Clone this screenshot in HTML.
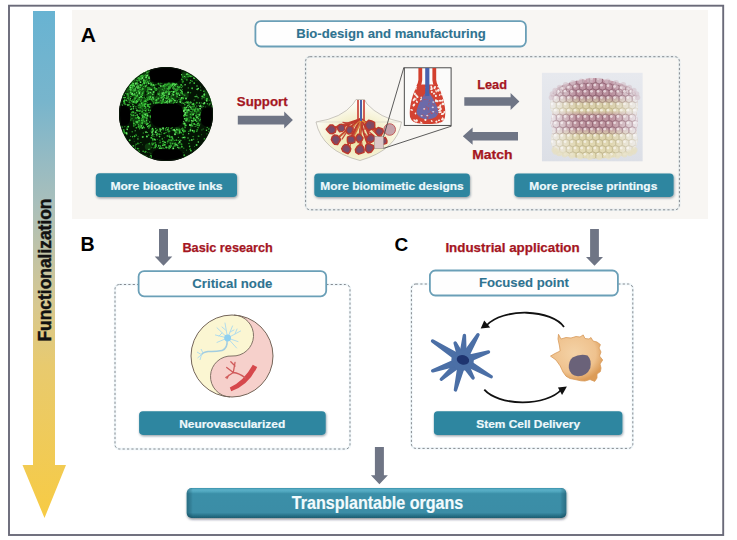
<!DOCTYPE html>
<html><head><meta charset="utf-8"><title>Bio-design diagram</title>
<style>html,body{margin:0;padding:0;background:#fff;width:737px;height:540px;overflow:hidden}svg{display:block}svg text{font-family:"Liberation Sans",sans-serif}</style>
</head><body><svg width="737" height="540" viewBox="0 0 737 540">
<defs>
 <linearGradient id="lg" x1="0" y1="11" x2="0" y2="518" gradientUnits="userSpaceOnUse">
  <stop offset="0" stop-color="#68b3d2"/>
  <stop offset="0.18" stop-color="#78b5cc"/>
  <stop offset="0.28" stop-color="#92bac4"/>
  <stop offset="0.38" stop-color="#a9bfbb"/>
  <stop offset="0.48" stop-color="#c1c3a5"/>
  <stop offset="0.58" stop-color="#d7c890"/>
  <stop offset="0.70" stop-color="#e8ca6e"/>
  <stop offset="1" stop-color="#f7cb44"/>
 </linearGradient>
 <filter id="sh" x="-10%" y="-30%" width="120%" height="170%">
  <feDropShadow dx="0.6" dy="1.2" stdDeviation="1.1" flood-color="#1a2a40" flood-opacity="0.45"/>
 </filter>
 <filter id="sh2" x="-10%" y="-30%" width="120%" height="170%">
  <feDropShadow dx="0.5" dy="1.5" stdDeviation="1.0" flood-color="#102030" flood-opacity="0.5"/>
 </filter>
 <filter id="bl1"><feGaussianBlur stdDeviation="1.2"/></filter>
 <filter id="bl05"><feGaussianBlur stdDeviation="0.5"/></filter>
 <clipPath id="gc"><circle cx="166" cy="114" r="47"/></clipPath>
 <clipPath id="bd"><rect x="541.8" y="72.6" width="101" height="89"/></clipPath>
 <clipPath id="sac"><path d="M418,84 Q410,92 409.5,106 Q409,120 420,123 Q428,125 436,123 Q446,120 445,106 Q444,92 437,84 Z"/></clipPath>
 <linearGradient id="tb" x1="0" y1="488" x2="0" y2="518" gradientUnits="userSpaceOnUse">
  <stop offset="0" stop-color="#3a92ab"/>
  <stop offset="0.06" stop-color="#5cb0c8"/>
  <stop offset="0.13" stop-color="#4ea4bc"/>
  <stop offset="0.19" stop-color="#3a8fa8"/>
  <stop offset="0.82" stop-color="#3a8da6"/>
  <stop offset="0.9" stop-color="#2b778e"/>
  <stop offset="1" stop-color="#1d5d71"/>
 </linearGradient>
 <linearGradient id="tbx" x1="186.7" y1="0" x2="566.3" y2="0" gradientUnits="userSpaceOnUse">
  <stop offset="0" stop-color="#0a3040" stop-opacity="0.35"/>
  <stop offset="0.012" stop-color="#0a3040" stop-opacity="0.12"/>
  <stop offset="0.016" stop-color="#0a3040" stop-opacity="0"/>
  <stop offset="0.984" stop-color="#0a3040" stop-opacity="0"/>
  <stop offset="0.988" stop-color="#0a3040" stop-opacity="0.12"/>
  <stop offset="1" stop-color="#0a3040" stop-opacity="0.35"/>
 </linearGradient>
 <radialGradient id="oc" cx="0.45" cy="0.4" r="0.6">
  <stop offset="0" stop-color="#f4d2a6"/>
  <stop offset="0.7" stop-color="#efc28e"/>
  <stop offset="1" stop-color="#dc9c58"/>
 </radialGradient>
 <linearGradient id="bbg" x1="0" y1="0" x2="0" y2="1">
  <stop offset="0" stop-color="#e7e9ee"/><stop offset="1" stop-color="#dcdfe6"/>
 </linearGradient>
 <linearGradient id="bband" x1="0" y1="78" x2="0" y2="159" gradientUnits="userSpaceOnUse">
  <stop offset="0" stop-color="#c49aaa"/>
  <stop offset="0.22" stop-color="#b48896"/>
  <stop offset="0.31" stop-color="#d6cba8"/>
  <stop offset="0.40" stop-color="#ddd3a8"/>
  <stop offset="0.47" stop-color="#bb8e9a"/>
  <stop offset="0.62" stop-color="#bc929c"/>
  <stop offset="0.70" stop-color="#dcd2aa"/>
  <stop offset="1" stop-color="#e4dcb4"/>
 </linearGradient>
 <linearGradient id="bside" x1="550" y1="0" x2="638" y2="0" gradientUnits="userSpaceOnUse">
  <stop offset="0" stop-color="#eeedf0" stop-opacity="0.95"/>
  <stop offset="0.14" stop-color="#f0eef0" stop-opacity="0.55"/>
  <stop offset="0.3" stop-color="#f0eef0" stop-opacity="0.05"/>
  <stop offset="0.7" stop-color="#f0eef0" stop-opacity="0.05"/>
  <stop offset="0.86" stop-color="#f0eef0" stop-opacity="0.55"/>
  <stop offset="1" stop-color="#eeedf0" stop-opacity="0.95"/>
 </linearGradient>
 <radialGradient id="fan" cx="0.5" cy="0.62" r="0.55">
  <stop offset="0" stop-color="#e8e09a"/>
  <stop offset="0.5" stop-color="#f2eec8"/>
  <stop offset="1" stop-color="#fdfcf6"/>
 </radialGradient>
</defs>
<rect x="72" y="10" width="636" height="209" fill="#f8f6f3"/><rect x="9" y="5.7" width="714.2" height="529.3" fill="none" stroke="#6a6a79" stroke-width="1.9"/><polygon points="33,11 55,11 55,465 66,465 44.5,518 22.5,465 33,465" fill="url(#lg)"/><text transform="translate(51.4,341.5) rotate(-90)"  font-weight="bold" font-size="18.6" textLength="143" lengthAdjust="spacingAndGlyphs" fill="#111" stroke="#111" stroke-width="0.45">Functionalization</text><text x="80.8" y="41.7"  font-weight="bold" font-size="21" fill="#000">A</text><text x="80.6" y="250.7"  font-weight="bold" font-size="19.6" fill="#000">B</text><text x="394.6" y="251.4"  font-weight="bold" font-size="19" fill="#000">C</text><rect x="305.6" y="56.7" width="373.79999999999995" height="153.10000000000002" rx="4.5" fill="none" stroke="#9fcde2" stroke-opacity="0.16" stroke-width="2.4"/><rect x="305.6" y="56.7" width="373.79999999999995" height="153.10000000000002" rx="4.5" fill="none" stroke="#858a90" stroke-width="1" stroke-dasharray="2.2 2.2"/><rect x="255.4" y="21.099999999999998" width="270.49999999999994" height="25.4" rx="5.5" fill="#fefefe" stroke="#6a9fb7" stroke-width="1.8"/><text x="296.2" y="37.8"  font-weight="bold" font-size="12.2" textLength="189.6" lengthAdjust="spacingAndGlyphs" fill="#2f7390" stroke="#2f7390" stroke-width="0.1">Bio-design and manufacturing</text><text x="236.8" y="106.2"  font-weight="bold" font-size="12.2" textLength="50.8" lengthAdjust="spacingAndGlyphs" fill="#a5161f" stroke="#a5161f" stroke-width="0.25">Support</text><polygon points="237.8,115.7 284.2,115.7 284.2,111.6 292.9,120.1 284.2,128.6 284.2,124.5 237.8,124.5" fill="#6f7585"/><text x="477.2" y="89.1"  font-weight="bold" font-size="12.2" textLength="29.8" lengthAdjust="spacingAndGlyphs" fill="#a5161f" stroke="#a5161f" stroke-width="0.25">Lead</text><polygon points="464.3,97.3 510.6,97.3 510.6,93.1 519.4,101.5 510.6,109.9 510.6,105.7 464.3,105.7" fill="#6f7585"/><polygon points="518.0,132.0 472.6,132.0 472.6,127.6 462.8,136.2 472.6,144.8 472.6,140.4 518.0,140.4" fill="#6f7585"/><text x="472.2" y="158.5"  font-weight="bold" font-size="12.2" textLength="40.3" lengthAdjust="spacingAndGlyphs" fill="#a5161f" stroke="#a5161f" stroke-width="0.25">Match</text><rect x="95.8" y="173.2" width="141.2" height="23.900000000000006" rx="3.8" fill="#2f86a0" filter="url(#sh)"/><text x="110.4" y="189.7"  font-weight="bold" font-size="11.6" textLength="112.2" lengthAdjust="spacingAndGlyphs" fill="#eef9fc" stroke="#eef9fc" stroke-width="0.2">More bioactive inks</text><rect x="314.3" y="173.4" width="155.59999999999997" height="23.5" rx="3.8" fill="#2f86a0" filter="url(#sh)"/><text x="320.3" y="189.6"  font-weight="bold" font-size="11.6" textLength="143.4" lengthAdjust="spacingAndGlyphs" fill="#eef9fc" stroke="#eef9fc" stroke-width="0.2">More biomimetic designs</text><rect x="514.3" y="173.4" width="159.30000000000007" height="23.5" rx="3.8" fill="#2f86a0" filter="url(#sh)"/><text x="529.3" y="189.6"  font-weight="bold" font-size="11.6" textLength="128.0" lengthAdjust="spacingAndGlyphs" fill="#eef9fc" stroke="#eef9fc" stroke-width="0.2">More precise printings</text><g clip-path="url(#gc)"><rect x="115" y="63" width="102" height="102" fill="#041404"/><circle cx="169.4" cy="101.1" r="3.0" fill="#166016" opacity="0.5"/><circle cx="197.4" cy="77.9" r="3.3" fill="#166016" opacity="0.5"/><circle cx="131.8" cy="77.3" r="3.6" fill="#166016" opacity="0.5"/><circle cx="135.3" cy="121.8" r="2.7" fill="#166016" opacity="0.5"/><circle cx="159.0" cy="96.2" r="2.9" fill="#166016" opacity="0.5"/><circle cx="141.4" cy="121.1" r="3.8" fill="#166016" opacity="0.5"/><circle cx="130.4" cy="89.8" r="3.7" fill="#166016" opacity="0.5"/><circle cx="157.9" cy="100.4" r="3.9" fill="#166016" opacity="0.5"/><circle cx="132.5" cy="82.9" r="2.5" fill="#166016" opacity="0.5"/><circle cx="143.2" cy="66.4" r="2.7" fill="#166016" opacity="0.5"/><circle cx="177.3" cy="130.9" r="3.8" fill="#166016" opacity="0.5"/><circle cx="124.0" cy="72.5" r="2.3" fill="#166016" opacity="0.5"/><circle cx="118.0" cy="80.5" r="2.7" fill="#166016" opacity="0.5"/><circle cx="132.3" cy="90.2" r="2.7" fill="#166016" opacity="0.5"/><circle cx="126.2" cy="75.8" r="2.5" fill="#166016" opacity="0.5"/><circle cx="132.1" cy="118.1" r="3.1" fill="#166016" opacity="0.5"/><circle cx="143.1" cy="101.2" r="3.5" fill="#166016" opacity="0.5"/><circle cx="120.7" cy="92.8" r="3.4" fill="#166016" opacity="0.5"/><circle cx="153.0" cy="87.2" r="2.4" fill="#166016" opacity="0.5"/><circle cx="198.7" cy="112.0" r="3.6" fill="#166016" opacity="0.5"/><circle cx="181.1" cy="99.6" r="2.3" fill="#166016" opacity="0.5"/><circle cx="146.1" cy="89.1" r="2.5" fill="#166016" opacity="0.5"/><circle cx="118.4" cy="142.7" r="2.9" fill="#166016" opacity="0.5"/><circle cx="187.6" cy="119.4" r="3.0" fill="#166016" opacity="0.5"/><circle cx="171.3" cy="141.3" r="3.1" fill="#166016" opacity="0.5"/><circle cx="141.9" cy="92.6" r="3.0" fill="#166016" opacity="0.5"/><circle cx="184.5" cy="109.4" r="3.0" fill="#166016" opacity="0.5"/><circle cx="208.6" cy="146.6" r="2.2" fill="#166016" opacity="0.5"/><circle cx="141.1" cy="73.0" r="3.6" fill="#166016" opacity="0.5"/><circle cx="213.0" cy="145.9" r="2.9" fill="#166016" opacity="0.5"/><circle cx="167.5" cy="98.6" r="2.6" fill="#166016" opacity="0.5"/><circle cx="128.1" cy="91.5" r="3.6" fill="#166016" opacity="0.5"/><circle cx="144.0" cy="78.4" r="3.8" fill="#166016" opacity="0.5"/><circle cx="185.2" cy="74.6" r="3.4" fill="#166016" opacity="0.5"/><circle cx="207.0" cy="91.7" r="3.1" fill="#166016" opacity="0.5"/><circle cx="140.9" cy="76.5" r="2.1" fill="#166016" opacity="0.5"/><circle cx="137.4" cy="96.0" r="3.5" fill="#166016" opacity="0.5"/><circle cx="145.8" cy="114.0" r="2.7" fill="#166016" opacity="0.5"/><circle cx="119.7" cy="90.0" r="3.5" fill="#166016" opacity="0.5"/><circle cx="170.9" cy="84.2" r="3.9" fill="#166016" opacity="0.5"/><circle cx="130.5" cy="72.8" r="2.5" fill="#166016" opacity="0.5"/><circle cx="141.3" cy="94.1" r="2.3" fill="#166016" opacity="0.5"/><circle cx="166.3" cy="85.3" r="2.0" fill="#166016" opacity="0.5"/><circle cx="143.4" cy="74.6" r="2.1" fill="#166016" opacity="0.5"/><circle cx="120.2" cy="95.2" r="3.2" fill="#166016" opacity="0.5"/><circle cx="149.3" cy="160.5" r="3.4" fill="#166016" opacity="0.5"/><circle cx="121.0" cy="78.8" r="2.2" fill="#166016" opacity="0.5"/><circle cx="198.2" cy="119.6" r="3.3" fill="#166016" opacity="0.5"/><circle cx="132.2" cy="90.4" r="2.6" fill="#166016" opacity="0.5"/><circle cx="138.2" cy="121.8" r="3.0" fill="#166016" opacity="0.5"/><circle cx="161.3" cy="95.0" r="2.7" fill="#166016" opacity="0.5"/><circle cx="148.3" cy="146.7" r="3.5" fill="#166016" opacity="0.5"/><circle cx="144.4" cy="70.6" r="3.7" fill="#166016" opacity="0.5"/><circle cx="143.5" cy="115.1" r="2.7" fill="#166016" opacity="0.5"/><circle cx="151.0" cy="94.6" r="4.0" fill="#166016" opacity="0.5"/><circle cx="134.1" cy="81.5" r="3.8" fill="#166016" opacity="0.5"/><circle cx="131.4" cy="84.5" r="2.7" fill="#166016" opacity="0.5"/><circle cx="126.7" cy="89.0" r="3.1" fill="#166016" opacity="0.5"/><circle cx="154.2" cy="98.5" r="2.6" fill="#166016" opacity="0.5"/><circle cx="138.7" cy="92.0" r="2.8" fill="#166016" opacity="0.5"/><circle cx="199.5" cy="149.8" r="2.1" fill="#166016" opacity="0.5"/><circle cx="141.9" cy="76.5" r="3.0" fill="#166016" opacity="0.5"/><circle cx="147.2" cy="78.3" r="3.3" fill="#166016" opacity="0.5"/><circle cx="185.1" cy="76.8" r="3.0" fill="#166016" opacity="0.5"/><circle cx="139.5" cy="123.7" r="2.6" fill="#166016" opacity="0.5"/><circle cx="163.6" cy="88.5" r="3.9" fill="#166016" opacity="0.5"/><circle cx="185.6" cy="95.5" r="3.0" fill="#166016" opacity="0.5"/><circle cx="139.8" cy="69.3" r="2.8" fill="#166016" opacity="0.5"/><circle cx="189.0" cy="114.5" r="3.9" fill="#166016" opacity="0.5"/><circle cx="136.0" cy="87.4" r="3.3" fill="#166016" opacity="0.5"/><circle cx="209.1" cy="80.1" r="2.4" fill="#166016" opacity="0.5"/><circle cx="211.5" cy="79.6" r="2.1" fill="#166016" opacity="0.5"/><circle cx="207.4" cy="97.6" r="3.9" fill="#166016" opacity="0.5"/><circle cx="154.3" cy="101.9" r="2.3" fill="#166016" opacity="0.5"/><circle cx="118.3" cy="92.9" r="3.9" fill="#166016" opacity="0.5"/><circle cx="163.5" cy="101.8" r="2.4" fill="#166016" opacity="0.5"/><circle cx="177.2" cy="91.2" r="2.6" fill="#166016" opacity="0.5"/><circle cx="208.6" cy="68.3" r="3.0" fill="#166016" opacity="0.5"/><circle cx="142.1" cy="107.3" r="3.9" fill="#166016" opacity="0.5"/><circle cx="149.5" cy="96.7" r="3.6" fill="#166016" opacity="0.5"/><circle cx="141.7" cy="72.2" r="3.1" fill="#166016" opacity="0.5"/><circle cx="212.8" cy="91.4" r="2.2" fill="#166016" opacity="0.5"/><circle cx="140.5" cy="106.0" r="3.3" fill="#166016" opacity="0.5"/><circle cx="172.4" cy="101.8" r="2.4" fill="#166016" opacity="0.5"/><circle cx="141.8" cy="89.6" r="3.8" fill="#166016" opacity="0.5"/><circle cx="173.5" cy="97.3" r="4.0" fill="#166016" opacity="0.5"/><circle cx="166.7" cy="88.2" r="3.3" fill="#166016" opacity="0.5"/><circle cx="121.9" cy="94.2" r="2.4" fill="#166016" opacity="0.5"/><circle cx="161.1" cy="91.0" r="3.9" fill="#166016" opacity="0.5"/><circle cx="177.5" cy="86.9" r="2.3" fill="#166016" opacity="0.5"/><circle cx="137.6" cy="90.5" r="3.3" fill="#166016" opacity="0.5"/><circle cx="137.5" cy="67.1" r="3.4" fill="#166016" opacity="0.5"/><circle cx="135.8" cy="96.0" r="3.6" fill="#166016" opacity="0.5"/><circle cx="148.0" cy="120.4" r="0.41" fill="#36b836"/><circle cx="153.0" cy="140.2" r="0.73" fill="#1f8a1f"/><circle cx="132.0" cy="93.2" r="0.47" fill="#2fae2f"/><circle cx="177.6" cy="145.2" r="0.77" fill="#5ae05a"/><circle cx="177.0" cy="84.8" r="0.43" fill="#5ae05a"/><circle cx="182.5" cy="130.1" r="0.76" fill="#36b836"/><circle cx="147.4" cy="106.3" r="0.63" fill="#36b836"/><circle cx="152.4" cy="101.1" r="0.71" fill="#2a9a2a"/><circle cx="121.9" cy="127.1" r="0.87" fill="#46d046"/><circle cx="166.4" cy="102.3" r="0.42" fill="#3cc83c"/><circle cx="184.5" cy="76.5" r="0.57" fill="#6ef06e"/><circle cx="176.6" cy="90.2" r="0.94" fill="#27a027"/><circle cx="177.1" cy="88.8" r="0.51" fill="#5ae05a"/><circle cx="134.2" cy="141.3" r="0.43" fill="#2a9a2a"/><circle cx="153.7" cy="102.1" r="0.62" fill="#3cc83c"/><circle cx="191.4" cy="108.5" r="0.58" fill="#1f8a1f"/><circle cx="139.3" cy="93.9" r="0.71" fill="#36b836"/><circle cx="139.8" cy="128.7" r="0.74" fill="#1f8a1f"/><circle cx="147.2" cy="116.2" r="0.75" fill="#36b836"/><circle cx="174.6" cy="85.6" r="0.50" fill="#6ef06e"/><circle cx="185.9" cy="109.3" r="0.92" fill="#3cc83c"/><circle cx="193.1" cy="104.6" r="0.43" fill="#1f8a1f"/><circle cx="181.1" cy="84.9" r="0.76" fill="#2a9a2a"/><circle cx="166.7" cy="127.6" r="0.71" fill="#3cc83c"/><circle cx="187.5" cy="111.9" r="0.91" fill="#36b836"/><circle cx="189.5" cy="110.7" r="0.51" fill="#6ef06e"/><circle cx="141.7" cy="85.5" r="0.90" fill="#2fae2f"/><circle cx="178.6" cy="93.6" r="0.88" fill="#2fae2f"/><circle cx="180.0" cy="94.3" r="0.41" fill="#27a027"/><circle cx="142.6" cy="93.1" r="0.95" fill="#46d046"/><circle cx="191.8" cy="123.8" r="0.77" fill="#27a027"/><circle cx="159.9" cy="140.2" r="0.72" fill="#1f8a1f"/><circle cx="138.8" cy="148.8" r="0.50" fill="#27a027"/><circle cx="165.2" cy="142.5" r="0.76" fill="#6ef06e"/><circle cx="180.0" cy="101.7" r="0.94" fill="#36b836"/><circle cx="166.1" cy="102.4" r="0.97" fill="#5ae05a"/><circle cx="184.2" cy="124.1" r="0.71" fill="#46d046"/><circle cx="171.2" cy="97.0" r="0.75" fill="#27a027"/><circle cx="132.8" cy="81.0" r="0.76" fill="#46d046"/><circle cx="181.2" cy="84.8" r="0.88" fill="#3cc83c"/><circle cx="188.4" cy="107.8" r="0.57" fill="#2fae2f"/><circle cx="142.7" cy="136.9" r="0.94" fill="#5ae05a"/><circle cx="189.9" cy="106.4" r="0.81" fill="#5ae05a"/><circle cx="148.0" cy="126.3" r="0.55" fill="#36b836"/><circle cx="156.4" cy="134.4" r="0.69" fill="#36b836"/><circle cx="167.8" cy="129.5" r="0.87" fill="#46d046"/><circle cx="186.9" cy="115.2" r="0.71" fill="#46d046"/><circle cx="144.3" cy="104.4" r="0.95" fill="#36b836"/><circle cx="178.3" cy="130.8" r="0.53" fill="#2fae2f"/><circle cx="168.6" cy="87.0" r="0.68" fill="#36b836"/><circle cx="136.5" cy="127.7" r="0.61" fill="#3cc83c"/><circle cx="162.9" cy="94.3" r="0.87" fill="#3cc83c"/><circle cx="163.1" cy="141.2" r="0.81" fill="#36b836"/><circle cx="152.4" cy="128.8" r="0.66" fill="#6ef06e"/><circle cx="179.2" cy="129.3" r="0.91" fill="#27a027"/><circle cx="205.0" cy="141.3" r="0.78" fill="#46d046"/><circle cx="209.4" cy="129.0" r="0.75" fill="#2fae2f"/><circle cx="146.5" cy="113.5" r="0.85" fill="#2fae2f"/><circle cx="171.3" cy="91.4" r="0.68" fill="#3cc83c"/><circle cx="133.8" cy="123.6" r="0.90" fill="#3cc83c"/><circle cx="181.9" cy="146.7" r="1.00" fill="#36b836"/><circle cx="182.9" cy="83.3" r="0.41" fill="#1f8a1f"/><circle cx="145.3" cy="98.8" r="0.90" fill="#1f8a1f"/><circle cx="166.4" cy="92.1" r="0.79" fill="#5ae05a"/><circle cx="146.7" cy="122.3" r="0.64" fill="#1f8a1f"/><circle cx="196.9" cy="111.6" r="0.87" fill="#1f8a1f"/><circle cx="184.9" cy="123.2" r="0.42" fill="#5ae05a"/><circle cx="184.8" cy="104.8" r="0.76" fill="#36b836"/><circle cx="200.4" cy="87.0" r="0.41" fill="#6ef06e"/><circle cx="188.1" cy="74.1" r="0.68" fill="#6ef06e"/><circle cx="123.7" cy="101.3" r="0.68" fill="#6ef06e"/><circle cx="192.7" cy="109.5" r="0.58" fill="#46d046"/><circle cx="197.8" cy="123.7" r="0.99" fill="#36b836"/><circle cx="141.6" cy="103.2" r="0.88" fill="#5ae05a"/><circle cx="143.3" cy="106.6" r="0.57" fill="#1f8a1f"/><circle cx="164.5" cy="102.6" r="0.59" fill="#5ae05a"/><circle cx="166.6" cy="85.4" r="0.51" fill="#2fae2f"/><circle cx="128.2" cy="126.7" r="0.59" fill="#3cc83c"/><circle cx="144.9" cy="75.3" r="0.55" fill="#3cc83c"/><circle cx="172.2" cy="127.5" r="0.64" fill="#2a9a2a"/><circle cx="183.0" cy="94.7" r="0.68" fill="#2fae2f"/><circle cx="153.7" cy="103.4" r="0.50" fill="#36b836"/><circle cx="140.9" cy="79.7" r="0.68" fill="#1f8a1f"/><circle cx="133.1" cy="146.0" r="0.93" fill="#46d046"/><circle cx="131.4" cy="108.9" r="0.91" fill="#36b836"/><circle cx="186.5" cy="119.1" r="0.56" fill="#3cc83c"/><circle cx="134.1" cy="113.1" r="0.47" fill="#6ef06e"/><circle cx="163.8" cy="93.5" r="0.98" fill="#5ae05a"/><circle cx="159.5" cy="91.1" r="0.46" fill="#5ae05a"/><circle cx="145.8" cy="152.0" r="0.49" fill="#27a027"/><circle cx="145.5" cy="100.6" r="0.53" fill="#36b836"/><circle cx="165.6" cy="92.3" r="0.75" fill="#5ae05a"/><circle cx="188.3" cy="105.2" r="0.71" fill="#1f8a1f"/><circle cx="151.4" cy="93.0" r="0.45" fill="#6ef06e"/><circle cx="157.3" cy="139.2" r="0.55" fill="#27a027"/><circle cx="173.2" cy="148.4" r="0.98" fill="#6ef06e"/><circle cx="124.8" cy="100.2" r="0.87" fill="#46d046"/><circle cx="204.2" cy="94.0" r="0.67" fill="#6ef06e"/><circle cx="130.9" cy="89.4" r="0.50" fill="#3cc83c"/><circle cx="147.9" cy="119.3" r="0.46" fill="#1f8a1f"/><circle cx="185.1" cy="84.7" r="0.71" fill="#6ef06e"/><circle cx="166.1" cy="92.8" r="0.93" fill="#36b836"/><circle cx="170.0" cy="87.8" r="0.85" fill="#6ef06e"/><circle cx="198.6" cy="116.5" r="0.87" fill="#1f8a1f"/><circle cx="150.5" cy="89.1" r="0.91" fill="#36b836"/><circle cx="148.8" cy="104.5" r="0.71" fill="#46d046"/><circle cx="141.9" cy="106.5" r="0.47" fill="#46d046"/><circle cx="136.0" cy="97.1" r="0.54" fill="#1f8a1f"/><circle cx="178.3" cy="143.4" r="0.55" fill="#2fae2f"/><circle cx="209.3" cy="93.6" r="0.47" fill="#3cc83c"/><circle cx="167.3" cy="91.8" r="0.96" fill="#2a9a2a"/><circle cx="173.4" cy="92.3" r="0.57" fill="#2a9a2a"/><circle cx="161.6" cy="132.7" r="0.52" fill="#36b836"/><circle cx="186.2" cy="110.2" r="0.68" fill="#6ef06e"/><circle cx="147.8" cy="89.3" r="0.73" fill="#2a9a2a"/><circle cx="149.1" cy="97.2" r="0.58" fill="#5ae05a"/><circle cx="192.1" cy="81.2" r="0.66" fill="#46d046"/><circle cx="124.0" cy="103.2" r="0.71" fill="#2fae2f"/><circle cx="131.5" cy="85.4" r="0.89" fill="#27a027"/><circle cx="190.9" cy="111.6" r="0.65" fill="#3cc83c"/><circle cx="127.9" cy="105.4" r="0.70" fill="#2fae2f"/><circle cx="176.3" cy="102.4" r="0.57" fill="#6ef06e"/><circle cx="151.9" cy="99.9" r="0.79" fill="#36b836"/><circle cx="146.8" cy="117.5" r="0.75" fill="#36b836"/><circle cx="183.8" cy="103.4" r="0.67" fill="#46d046"/><circle cx="140.0" cy="105.3" r="0.96" fill="#2a9a2a"/><circle cx="132.8" cy="84.1" r="0.66" fill="#36b836"/><circle cx="145.8" cy="115.1" r="0.65" fill="#5ae05a"/><circle cx="186.2" cy="119.1" r="0.91" fill="#36b836"/><circle cx="174.3" cy="130.1" r="0.86" fill="#6ef06e"/><circle cx="131.8" cy="85.1" r="0.49" fill="#3cc83c"/><circle cx="190.9" cy="76.2" r="0.97" fill="#3cc83c"/><circle cx="183.7" cy="121.6" r="0.61" fill="#5ae05a"/><circle cx="134.3" cy="91.6" r="0.61" fill="#2fae2f"/><circle cx="161.2" cy="103.0" r="0.75" fill="#36b836"/><circle cx="177.5" cy="89.9" r="0.59" fill="#3cc83c"/><circle cx="147.2" cy="123.8" r="0.99" fill="#6ef06e"/><circle cx="156.3" cy="134.3" r="0.45" fill="#5ae05a"/><circle cx="134.3" cy="102.4" r="0.64" fill="#27a027"/><circle cx="152.8" cy="98.2" r="0.64" fill="#46d046"/><circle cx="136.4" cy="93.2" r="0.57" fill="#1f8a1f"/><circle cx="141.2" cy="78.5" r="0.90" fill="#2a9a2a"/><circle cx="151.9" cy="135.4" r="0.58" fill="#5ae05a"/><circle cx="163.7" cy="85.6" r="0.97" fill="#3cc83c"/><circle cx="190.1" cy="131.1" r="0.84" fill="#27a027"/><circle cx="186.9" cy="79.9" r="0.82" fill="#2fae2f"/><circle cx="156.3" cy="100.2" r="0.86" fill="#6ef06e"/><circle cx="130.7" cy="92.5" r="0.94" fill="#46d046"/><circle cx="127.4" cy="94.0" r="0.83" fill="#5ae05a"/><circle cx="133.6" cy="85.0" r="0.84" fill="#36b836"/><circle cx="139.9" cy="113.8" r="0.80" fill="#36b836"/><circle cx="183.4" cy="69.6" r="0.85" fill="#46d046"/><circle cx="123.2" cy="133.0" r="0.91" fill="#2a9a2a"/><circle cx="192.7" cy="113.0" r="0.56" fill="#2a9a2a"/><circle cx="137.3" cy="95.8" r="0.80" fill="#6ef06e"/><circle cx="140.8" cy="89.2" r="0.48" fill="#6ef06e"/><circle cx="179.5" cy="133.0" r="0.75" fill="#3cc83c"/><circle cx="141.1" cy="126.4" r="0.86" fill="#36b836"/><circle cx="129.0" cy="93.8" r="0.43" fill="#5ae05a"/><circle cx="204.0" cy="95.2" r="0.67" fill="#27a027"/><circle cx="128.8" cy="97.1" r="0.57" fill="#46d046"/><circle cx="164.6" cy="137.7" r="0.47" fill="#27a027"/><circle cx="136.2" cy="118.1" r="0.79" fill="#2fae2f"/><circle cx="180.6" cy="90.1" r="0.85" fill="#3cc83c"/><circle cx="120.4" cy="103.9" r="0.51" fill="#46d046"/><circle cx="170.9" cy="101.5" r="0.43" fill="#5ae05a"/><circle cx="131.6" cy="87.8" r="0.45" fill="#36b836"/><circle cx="136.3" cy="135.4" r="0.66" fill="#2a9a2a"/><circle cx="158.4" cy="98.5" r="0.94" fill="#3cc83c"/><circle cx="133.8" cy="94.4" r="0.74" fill="#46d046"/><circle cx="132.8" cy="104.5" r="0.89" fill="#2fae2f"/><circle cx="146.5" cy="120.8" r="0.79" fill="#6ef06e"/><circle cx="152.6" cy="89.1" r="0.47" fill="#27a027"/><circle cx="200.8" cy="90.3" r="0.80" fill="#2a9a2a"/><circle cx="130.9" cy="114.3" r="0.78" fill="#2fae2f"/><circle cx="142.5" cy="89.0" r="0.97" fill="#2a9a2a"/><circle cx="170.7" cy="143.1" r="0.55" fill="#5ae05a"/><circle cx="136.5" cy="108.9" r="0.47" fill="#6ef06e"/><circle cx="125.3" cy="97.6" r="0.75" fill="#3cc83c"/><circle cx="173.4" cy="103.2" r="0.60" fill="#1f8a1f"/><circle cx="164.4" cy="87.8" r="0.78" fill="#1f8a1f"/><circle cx="140.9" cy="142.5" r="0.58" fill="#2fae2f"/><circle cx="179.0" cy="99.6" r="0.60" fill="#36b836"/><circle cx="193.1" cy="114.4" r="1.00" fill="#5ae05a"/><circle cx="132.5" cy="85.7" r="0.64" fill="#6ef06e"/><circle cx="147.2" cy="99.9" r="0.83" fill="#36b836"/><circle cx="148.6" cy="82.8" r="0.41" fill="#2a9a2a"/><circle cx="133.8" cy="91.7" r="0.43" fill="#5ae05a"/><circle cx="145.1" cy="114.2" r="0.84" fill="#5ae05a"/><circle cx="202.0" cy="98.8" r="0.56" fill="#5ae05a"/><circle cx="148.9" cy="149.3" r="0.64" fill="#6ef06e"/><circle cx="183.2" cy="98.4" r="0.88" fill="#36b836"/><circle cx="138.2" cy="116.8" r="0.89" fill="#46d046"/><circle cx="161.5" cy="92.7" r="0.48" fill="#27a027"/><circle cx="180.9" cy="140.3" r="0.64" fill="#5ae05a"/><circle cx="170.2" cy="85.7" r="0.96" fill="#27a027"/><circle cx="149.1" cy="152.7" r="0.44" fill="#1f8a1f"/><circle cx="178.2" cy="87.5" r="0.83" fill="#27a027"/><circle cx="141.2" cy="100.0" r="0.79" fill="#36b836"/><circle cx="138.8" cy="120.7" r="0.97" fill="#27a027"/><circle cx="131.1" cy="94.8" r="0.69" fill="#1f8a1f"/><circle cx="183.5" cy="123.4" r="0.93" fill="#1f8a1f"/><circle cx="132.5" cy="136.7" r="0.68" fill="#3cc83c"/><circle cx="179.6" cy="129.9" r="0.99" fill="#46d046"/><circle cx="194.0" cy="132.2" r="0.76" fill="#2a9a2a"/><circle cx="139.5" cy="117.9" r="0.70" fill="#2a9a2a"/><circle cx="128.8" cy="99.9" r="0.61" fill="#2fae2f"/><circle cx="135.0" cy="91.4" r="0.52" fill="#1f8a1f"/><circle cx="149.3" cy="70.0" r="0.73" fill="#27a027"/><circle cx="148.6" cy="106.2" r="0.86" fill="#36b836"/><circle cx="179.0" cy="89.0" r="0.82" fill="#27a027"/><circle cx="197.3" cy="129.7" r="0.95" fill="#1f8a1f"/><circle cx="122.8" cy="132.6" r="0.73" fill="#6ef06e"/><circle cx="199.9" cy="115.0" r="0.54" fill="#36b836"/><circle cx="178.4" cy="137.4" r="0.64" fill="#2fae2f"/><circle cx="170.1" cy="87.4" r="0.56" fill="#27a027"/><circle cx="134.2" cy="101.1" r="0.89" fill="#3cc83c"/><circle cx="142.1" cy="75.9" r="0.71" fill="#2a9a2a"/><circle cx="184.7" cy="109.1" r="0.86" fill="#3cc83c"/><circle cx="168.0" cy="88.8" r="0.88" fill="#46d046"/><circle cx="142.3" cy="119.4" r="0.43" fill="#27a027"/><circle cx="149.1" cy="89.2" r="0.72" fill="#2fae2f"/><circle cx="186.9" cy="102.1" r="0.98" fill="#27a027"/><circle cx="142.7" cy="88.9" r="0.95" fill="#3cc83c"/><circle cx="190.6" cy="102.4" r="0.96" fill="#6ef06e"/><circle cx="179.7" cy="142.0" r="0.96" fill="#6ef06e"/><circle cx="185.3" cy="107.9" r="0.93" fill="#3cc83c"/><circle cx="189.1" cy="104.6" r="0.73" fill="#27a027"/><circle cx="191.8" cy="139.9" r="0.91" fill="#5ae05a"/><circle cx="165.7" cy="147.4" r="0.43" fill="#6ef06e"/><circle cx="123.3" cy="132.3" r="1.00" fill="#3cc83c"/><circle cx="196.4" cy="149.7" r="0.51" fill="#46d046"/><circle cx="146.7" cy="103.9" r="0.58" fill="#1f8a1f"/><circle cx="141.9" cy="102.5" r="0.55" fill="#2a9a2a"/><circle cx="169.5" cy="101.9" r="0.83" fill="#6ef06e"/><circle cx="160.2" cy="85.3" r="0.64" fill="#6ef06e"/><circle cx="135.3" cy="148.4" r="0.92" fill="#3cc83c"/><circle cx="182.7" cy="130.8" r="0.72" fill="#5ae05a"/><circle cx="133.4" cy="108.8" r="0.82" fill="#46d046"/><circle cx="149.5" cy="81.0" r="0.82" fill="#2a9a2a"/><circle cx="137.0" cy="80.3" r="0.81" fill="#46d046"/><circle cx="168.5" cy="93.9" r="0.93" fill="#6ef06e"/><circle cx="144.9" cy="95.1" r="0.52" fill="#2fae2f"/><circle cx="146.8" cy="121.7" r="0.61" fill="#1f8a1f"/><circle cx="208.7" cy="129.0" r="0.61" fill="#46d046"/><circle cx="164.2" cy="97.6" r="0.87" fill="#2fae2f"/><circle cx="146.6" cy="72.7" r="0.85" fill="#2fae2f"/><circle cx="157.6" cy="132.9" r="0.45" fill="#46d046"/><circle cx="181.6" cy="74.6" r="0.58" fill="#6ef06e"/><circle cx="143.1" cy="76.2" r="0.70" fill="#3cc83c"/><circle cx="153.2" cy="85.0" r="0.99" fill="#5ae05a"/><circle cx="141.0" cy="75.1" r="0.69" fill="#1f8a1f"/><circle cx="193.9" cy="120.8" r="0.45" fill="#5ae05a"/><circle cx="196.6" cy="144.9" r="0.99" fill="#46d046"/><circle cx="131.5" cy="85.0" r="0.83" fill="#46d046"/><circle cx="168.5" cy="97.7" r="0.52" fill="#2fae2f"/><circle cx="182.6" cy="137.6" r="0.94" fill="#27a027"/><circle cx="140.3" cy="85.0" r="0.93" fill="#5ae05a"/><circle cx="178.2" cy="140.3" r="0.64" fill="#36b836"/><circle cx="198.3" cy="142.1" r="0.76" fill="#6ef06e"/><circle cx="146.7" cy="80.0" r="0.61" fill="#2fae2f"/><circle cx="199.1" cy="125.5" r="1.00" fill="#2fae2f"/><circle cx="169.7" cy="89.2" r="0.63" fill="#1f8a1f"/><circle cx="204.1" cy="103.4" r="0.62" fill="#3cc83c"/><circle cx="203.8" cy="103.9" r="0.87" fill="#2a9a2a"/><circle cx="141.6" cy="120.3" r="0.81" fill="#46d046"/><circle cx="190.3" cy="129.9" r="0.80" fill="#27a027"/><circle cx="152.7" cy="129.5" r="0.96" fill="#36b836"/><circle cx="129.4" cy="102.2" r="0.93" fill="#2a9a2a"/><circle cx="188.0" cy="138.0" r="0.69" fill="#46d046"/><circle cx="178.2" cy="89.2" r="0.65" fill="#1f8a1f"/><circle cx="147.9" cy="71.1" r="0.87" fill="#36b836"/><circle cx="152.6" cy="132.6" r="0.52" fill="#6ef06e"/><circle cx="148.8" cy="108.1" r="0.62" fill="#27a027"/><circle cx="144.8" cy="117.4" r="0.85" fill="#36b836"/><circle cx="168.8" cy="93.7" r="0.67" fill="#27a027"/><circle cx="129.3" cy="104.8" r="0.64" fill="#46d046"/><circle cx="166.0" cy="98.3" r="0.72" fill="#3cc83c"/><circle cx="168.0" cy="130.3" r="0.53" fill="#3cc83c"/><circle cx="173.1" cy="88.6" r="0.74" fill="#5ae05a"/><circle cx="190.4" cy="114.1" r="0.85" fill="#1f8a1f"/><circle cx="176.8" cy="92.4" r="0.56" fill="#2a9a2a"/><circle cx="138.5" cy="87.5" r="0.62" fill="#2fae2f"/><circle cx="144.4" cy="71.7" r="0.76" fill="#2a9a2a"/><circle cx="168.9" cy="88.1" r="0.57" fill="#5ae05a"/><circle cx="157.3" cy="130.0" r="0.88" fill="#1f8a1f"/><circle cx="130.8" cy="109.6" r="0.51" fill="#6ef06e"/><circle cx="133.9" cy="138.9" r="0.41" fill="#2a9a2a"/><circle cx="198.2" cy="127.6" r="0.56" fill="#2a9a2a"/><circle cx="147.4" cy="70.2" r="0.65" fill="#46d046"/><circle cx="150.4" cy="96.6" r="0.91" fill="#3cc83c"/><circle cx="168.7" cy="90.1" r="0.55" fill="#46d046"/><circle cx="159.9" cy="136.3" r="0.48" fill="#36b836"/><circle cx="174.2" cy="102.4" r="0.68" fill="#2fae2f"/><circle cx="149.0" cy="126.0" r="0.86" fill="#6ef06e"/><circle cx="137.6" cy="100.0" r="0.75" fill="#2fae2f"/><circle cx="130.1" cy="85.2" r="0.86" fill="#6ef06e"/><circle cx="165.8" cy="102.6" r="0.40" fill="#5ae05a"/><circle cx="172.3" cy="137.5" r="0.55" fill="#1f8a1f"/><circle cx="190.9" cy="150.7" r="0.88" fill="#3cc83c"/><circle cx="133.6" cy="115.2" r="0.95" fill="#36b836"/><circle cx="145.9" cy="104.1" r="0.41" fill="#5ae05a"/><circle cx="127.7" cy="101.3" r="0.49" fill="#27a027"/><circle cx="184.5" cy="123.5" r="0.99" fill="#6ef06e"/><circle cx="177.4" cy="94.2" r="0.55" fill="#3cc83c"/><circle cx="146.9" cy="99.5" r="0.50" fill="#2fae2f"/><circle cx="149.3" cy="143.1" r="0.41" fill="#2a9a2a"/><circle cx="148.1" cy="126.2" r="0.47" fill="#2a9a2a"/><circle cx="162.0" cy="86.3" r="0.55" fill="#2a9a2a"/><circle cx="180.2" cy="86.9" r="0.83" fill="#1f8a1f"/><circle cx="209.0" cy="93.3" r="0.55" fill="#46d046"/><circle cx="184.7" cy="95.2" r="0.72" fill="#2fae2f"/><circle cx="162.2" cy="97.0" r="0.90" fill="#36b836"/><circle cx="182.4" cy="92.7" r="0.44" fill="#5ae05a"/><circle cx="147.9" cy="91.3" r="0.46" fill="#6ef06e"/><circle cx="172.7" cy="87.4" r="0.56" fill="#1f8a1f"/><circle cx="134.9" cy="101.5" r="0.62" fill="#46d046"/><circle cx="154.6" cy="139.4" r="0.93" fill="#5ae05a"/><circle cx="203.7" cy="91.2" r="0.80" fill="#2fae2f"/><circle cx="198.3" cy="88.5" r="0.69" fill="#6ef06e"/><circle cx="205.3" cy="106.9" r="0.44" fill="#5ae05a"/><circle cx="189.4" cy="120.0" r="0.47" fill="#36b836"/><circle cx="141.0" cy="82.4" r="0.46" fill="#5ae05a"/><circle cx="142.7" cy="114.9" r="0.94" fill="#2a9a2a"/><circle cx="179.8" cy="131.9" r="0.86" fill="#5ae05a"/><circle cx="181.8" cy="79.4" r="0.88" fill="#36b836"/><circle cx="135.4" cy="87.8" r="0.67" fill="#2fae2f"/><circle cx="163.2" cy="95.7" r="0.54" fill="#27a027"/><circle cx="210.3" cy="96.9" r="0.65" fill="#46d046"/><circle cx="186.1" cy="120.6" r="0.90" fill="#5ae05a"/><circle cx="142.8" cy="109.6" r="0.48" fill="#36b836"/><circle cx="140.5" cy="82.1" r="0.87" fill="#6ef06e"/><circle cx="142.3" cy="120.7" r="0.97" fill="#3cc83c"/><circle cx="143.8" cy="156.4" r="0.66" fill="#1f8a1f"/><circle cx="190.3" cy="82.8" r="0.72" fill="#2fae2f"/><circle cx="140.7" cy="101.2" r="0.82" fill="#2fae2f"/><circle cx="123.5" cy="131.5" r="0.88" fill="#46d046"/><circle cx="152.5" cy="129.7" r="1.00" fill="#3cc83c"/><circle cx="161.6" cy="97.9" r="0.82" fill="#46d046"/><circle cx="182.9" cy="81.5" r="0.90" fill="#27a027"/><circle cx="174.5" cy="85.0" r="0.65" fill="#2a9a2a"/><circle cx="194.6" cy="146.4" r="0.40" fill="#5ae05a"/><circle cx="140.1" cy="91.5" r="0.41" fill="#5ae05a"/><circle cx="150.2" cy="116.1" r="0.85" fill="#36b836"/><circle cx="143.3" cy="91.5" r="0.82" fill="#1f8a1f"/><circle cx="174.3" cy="84.4" r="0.87" fill="#6ef06e"/><circle cx="140.2" cy="75.0" r="0.48" fill="#36b836"/><circle cx="136.5" cy="121.9" r="0.54" fill="#6ef06e"/><circle cx="142.8" cy="106.7" r="0.42" fill="#1f8a1f"/><circle cx="181.6" cy="91.0" r="0.68" fill="#5ae05a"/><circle cx="168.2" cy="95.4" r="0.45" fill="#46d046"/><circle cx="137.0" cy="77.5" r="0.92" fill="#2a9a2a"/><circle cx="183.8" cy="111.7" r="0.46" fill="#2fae2f"/><circle cx="124.7" cy="103.2" r="0.88" fill="#27a027"/><circle cx="124.1" cy="131.7" r="0.91" fill="#2fae2f"/><circle cx="181.4" cy="98.7" r="0.64" fill="#3cc83c"/><circle cx="169.1" cy="146.0" r="0.63" fill="#3cc83c"/><circle cx="187.1" cy="103.1" r="0.76" fill="#3cc83c"/><circle cx="145.7" cy="110.7" r="0.85" fill="#3cc83c"/><circle cx="183.5" cy="129.3" r="0.92" fill="#1f8a1f"/><circle cx="191.3" cy="124.2" r="0.54" fill="#46d046"/><circle cx="147.0" cy="125.3" r="0.47" fill="#27a027"/><circle cx="141.9" cy="75.6" r="0.94" fill="#1f8a1f"/><circle cx="120.5" cy="101.5" r="0.84" fill="#6ef06e"/><circle cx="137.1" cy="110.4" r="0.97" fill="#6ef06e"/><circle cx="147.7" cy="126.7" r="0.59" fill="#6ef06e"/><circle cx="135.6" cy="93.9" r="0.46" fill="#46d046"/><circle cx="194.2" cy="124.0" r="0.93" fill="#46d046"/><circle cx="137.4" cy="95.0" r="0.69" fill="#3cc83c"/><circle cx="138.7" cy="110.4" r="0.49" fill="#5ae05a"/><circle cx="178.6" cy="143.1" r="0.76" fill="#27a027"/><circle cx="140.4" cy="86.8" r="0.46" fill="#1f8a1f"/><circle cx="142.5" cy="115.6" r="0.94" fill="#3cc83c"/><circle cx="137.4" cy="122.2" r="0.83" fill="#6ef06e"/><circle cx="194.5" cy="131.1" r="0.50" fill="#6ef06e"/><circle cx="138.8" cy="118.1" r="1.00" fill="#5ae05a"/><circle cx="159.9" cy="95.8" r="0.45" fill="#6ef06e"/><circle cx="136.5" cy="96.3" r="0.65" fill="#3cc83c"/><circle cx="163.4" cy="92.6" r="0.76" fill="#6ef06e"/><circle cx="131.9" cy="82.2" r="0.98" fill="#36b836"/><circle cx="156.7" cy="100.0" r="0.82" fill="#46d046"/><circle cx="198.7" cy="128.0" r="0.40" fill="#2a9a2a"/><circle cx="146.6" cy="119.2" r="0.97" fill="#1f8a1f"/><circle cx="132.0" cy="101.1" r="0.75" fill="#46d046"/><circle cx="135.5" cy="77.1" r="0.77" fill="#1f8a1f"/><circle cx="195.4" cy="108.3" r="0.94" fill="#2a9a2a"/><circle cx="207.2" cy="127.4" r="0.55" fill="#46d046"/><circle cx="195.8" cy="126.3" r="0.57" fill="#46d046"/><circle cx="138.1" cy="136.7" r="0.54" fill="#27a027"/><circle cx="133.6" cy="83.4" r="0.62" fill="#5ae05a"/><circle cx="155.5" cy="90.3" r="1.00" fill="#1f8a1f"/><circle cx="132.6" cy="99.7" r="0.67" fill="#1f8a1f"/><circle cx="193.2" cy="118.5" r="0.67" fill="#1f8a1f"/><circle cx="150.4" cy="104.0" r="0.95" fill="#1f8a1f"/><circle cx="134.8" cy="102.8" r="0.70" fill="#1f8a1f"/><circle cx="136.1" cy="102.5" r="0.98" fill="#46d046"/><circle cx="177.1" cy="96.4" r="1.00" fill="#27a027"/><circle cx="149.3" cy="127.7" r="0.50" fill="#46d046"/><circle cx="200.3" cy="112.9" r="0.70" fill="#2fae2f"/><circle cx="157.8" cy="94.2" r="0.45" fill="#1f8a1f"/><circle cx="192.6" cy="75.9" r="0.76" fill="#2fae2f"/><circle cx="161.1" cy="101.4" r="0.53" fill="#27a027"/><circle cx="180.8" cy="92.7" r="0.97" fill="#2a9a2a"/><circle cx="169.9" cy="137.1" r="0.91" fill="#36b836"/><circle cx="142.9" cy="114.6" r="0.45" fill="#1f8a1f"/><circle cx="150.9" cy="155.5" r="0.79" fill="#3cc83c"/><circle cx="190.8" cy="127.9" r="0.60" fill="#27a027"/><circle cx="163.5" cy="141.4" r="0.53" fill="#1f8a1f"/><circle cx="200.1" cy="108.6" r="0.88" fill="#6ef06e"/><circle cx="183.5" cy="137.5" r="0.69" fill="#6ef06e"/><circle cx="168.9" cy="84.8" r="0.81" fill="#2a9a2a"/><circle cx="134.1" cy="79.2" r="0.96" fill="#6ef06e"/><circle cx="149.5" cy="98.9" r="0.98" fill="#36b836"/><circle cx="137.6" cy="77.9" r="0.74" fill="#46d046"/><circle cx="209.0" cy="131.8" r="0.73" fill="#5ae05a"/><circle cx="171.1" cy="85.8" r="0.85" fill="#2fae2f"/><circle cx="140.8" cy="76.6" r="1.00" fill="#2fae2f"/><circle cx="183.1" cy="134.5" r="0.98" fill="#1f8a1f"/><circle cx="184.5" cy="115.5" r="0.89" fill="#2a9a2a"/><circle cx="135.2" cy="145.9" r="0.56" fill="#2fae2f"/><circle cx="149.1" cy="158.8" r="0.44" fill="#1f8a1f"/><circle cx="132.2" cy="101.0" r="1.00" fill="#1f8a1f"/><circle cx="187.7" cy="118.9" r="0.55" fill="#46d046"/><circle cx="131.6" cy="81.2" r="0.50" fill="#2fae2f"/><circle cx="197.1" cy="89.2" r="0.75" fill="#6ef06e"/><circle cx="137.0" cy="90.9" r="0.60" fill="#2fae2f"/><circle cx="125.6" cy="138.4" r="0.55" fill="#6ef06e"/><circle cx="132.9" cy="95.3" r="0.82" fill="#2fae2f"/><circle cx="166.7" cy="98.2" r="0.71" fill="#5ae05a"/><circle cx="139.4" cy="104.2" r="0.72" fill="#2fae2f"/><circle cx="145.6" cy="101.0" r="0.53" fill="#46d046"/><circle cx="156.5" cy="132.1" r="0.45" fill="#3cc83c"/><circle cx="143.3" cy="126.3" r="0.55" fill="#6ef06e"/><circle cx="143.8" cy="82.4" r="0.83" fill="#36b836"/><circle cx="201.7" cy="134.8" r="0.46" fill="#36b836"/><circle cx="139.2" cy="80.7" r="0.92" fill="#2fae2f"/><circle cx="172.3" cy="84.9" r="0.84" fill="#6ef06e"/><circle cx="130.1" cy="100.1" r="0.77" fill="#5ae05a"/><circle cx="146.1" cy="77.4" r="0.87" fill="#6ef06e"/><circle cx="167.0" cy="102.0" r="0.90" fill="#36b836"/><circle cx="159.5" cy="136.6" r="0.82" fill="#46d046"/><circle cx="144.2" cy="71.8" r="0.66" fill="#1f8a1f"/><circle cx="130.6" cy="98.5" r="0.57" fill="#6ef06e"/><circle cx="132.9" cy="80.8" r="0.61" fill="#3cc83c"/><circle cx="123.8" cy="130.8" r="0.91" fill="#1f8a1f"/><circle cx="175.1" cy="90.5" r="0.51" fill="#36b836"/><circle cx="193.1" cy="136.6" r="0.60" fill="#46d046"/><circle cx="146.2" cy="85.2" r="0.54" fill="#5ae05a"/><circle cx="148.9" cy="69.5" r="0.71" fill="#2fae2f"/><circle cx="129.7" cy="86.4" r="0.95" fill="#36b836"/><circle cx="149.9" cy="104.3" r="0.55" fill="#36b836"/><circle cx="174.4" cy="102.2" r="0.89" fill="#2a9a2a"/><circle cx="154.5" cy="87.9" r="0.73" fill="#6ef06e"/><circle cx="155.2" cy="142.8" r="0.86" fill="#27a027"/><circle cx="206.2" cy="99.4" r="0.46" fill="#3cc83c"/><circle cx="145.9" cy="117.9" r="0.61" fill="#36b836"/><circle cx="150.2" cy="125.0" r="0.86" fill="#27a027"/><circle cx="182.7" cy="76.9" r="0.97" fill="#1f8a1f"/><circle cx="137.0" cy="82.6" r="0.56" fill="#3cc83c"/><circle cx="166.9" cy="96.1" r="0.83" fill="#3cc83c"/><circle cx="188.3" cy="76.7" r="0.81" fill="#27a027"/><circle cx="192.9" cy="120.9" r="0.85" fill="#6ef06e"/><circle cx="148.7" cy="78.1" r="0.67" fill="#6ef06e"/><circle cx="169.1" cy="148.8" r="0.76" fill="#46d046"/><circle cx="146.9" cy="136.5" r="0.99" fill="#5ae05a"/><circle cx="160.3" cy="142.4" r="0.89" fill="#1f8a1f"/><circle cx="188.3" cy="87.9" r="0.69" fill="#2a9a2a"/><circle cx="147.3" cy="70.4" r="0.97" fill="#6ef06e"/><circle cx="152.3" cy="86.1" r="0.49" fill="#36b836"/><circle cx="191.4" cy="106.8" r="0.53" fill="#2a9a2a"/><circle cx="208.9" cy="128.8" r="0.56" fill="#2fae2f"/><circle cx="145.1" cy="123.0" r="0.66" fill="#46d046"/><circle cx="196.3" cy="107.9" r="0.51" fill="#36b836"/><circle cx="132.3" cy="83.6" r="0.50" fill="#5ae05a"/><circle cx="174.3" cy="84.5" r="0.90" fill="#6ef06e"/><circle cx="191.7" cy="120.7" r="0.91" fill="#5ae05a"/><circle cx="134.5" cy="99.3" r="0.99" fill="#2fae2f"/><circle cx="133.1" cy="95.5" r="0.44" fill="#2fae2f"/><circle cx="137.0" cy="85.8" r="0.56" fill="#2fae2f"/><circle cx="190.4" cy="148.9" r="0.67" fill="#2fae2f"/><circle cx="139.6" cy="99.7" r="0.65" fill="#36b836"/><circle cx="207.4" cy="103.7" r="0.77" fill="#2fae2f"/><circle cx="183.8" cy="152.3" r="0.41" fill="#1f8a1f"/><circle cx="198.9" cy="111.1" r="0.66" fill="#27a027"/><circle cx="131.7" cy="103.7" r="0.41" fill="#27a027"/><circle cx="160.4" cy="97.2" r="0.44" fill="#46d046"/><circle cx="185.7" cy="125.2" r="0.94" fill="#36b836"/><circle cx="154.5" cy="85.2" r="0.64" fill="#36b836"/><circle cx="190.5" cy="92.8" r="0.79" fill="#1f8a1f"/><circle cx="134.4" cy="80.3" r="0.47" fill="#5ae05a"/><circle cx="176.9" cy="129.7" r="0.83" fill="#6ef06e"/><circle cx="128.5" cy="94.9" r="0.89" fill="#1f8a1f"/><circle cx="153.0" cy="142.7" r="0.49" fill="#1f8a1f"/><circle cx="196.8" cy="106.0" r="0.59" fill="#5ae05a"/><circle cx="181.0" cy="95.3" r="0.46" fill="#2fae2f"/><circle cx="135.9" cy="108.0" r="0.58" fill="#46d046"/><circle cx="144.4" cy="127.7" r="0.70" fill="#2a9a2a"/><circle cx="140.0" cy="77.0" r="0.57" fill="#2a9a2a"/><circle cx="175.4" cy="89.1" r="0.55" fill="#6ef06e"/><circle cx="196.2" cy="124.7" r="0.79" fill="#2a9a2a"/><circle cx="195.7" cy="119.6" r="0.62" fill="#3cc83c"/><circle cx="184.2" cy="155.2" r="0.83" fill="#3cc83c"/><circle cx="127.2" cy="129.4" r="0.79" fill="#6ef06e"/><circle cx="155.6" cy="131.8" r="0.84" fill="#2a9a2a"/><circle cx="163.6" cy="96.0" r="0.91" fill="#3cc83c"/><circle cx="182.3" cy="82.3" r="0.53" fill="#2a9a2a"/><circle cx="147.1" cy="91.7" r="0.97" fill="#1f8a1f"/><circle cx="139.1" cy="110.8" r="0.87" fill="#36b836"/><circle cx="156.7" cy="89.1" r="0.83" fill="#6ef06e"/><circle cx="170.8" cy="144.0" r="0.68" fill="#2a9a2a"/><circle cx="159.6" cy="84.6" r="0.43" fill="#46d046"/><circle cx="143.0" cy="92.3" r="0.67" fill="#2a9a2a"/><circle cx="162.3" cy="138.9" r="0.81" fill="#2fae2f"/><circle cx="138.1" cy="86.1" r="0.97" fill="#5ae05a"/><circle cx="194.1" cy="126.6" r="0.50" fill="#1f8a1f"/><circle cx="174.3" cy="88.8" r="0.65" fill="#6ef06e"/><circle cx="193.6" cy="107.4" r="0.42" fill="#1f8a1f"/><circle cx="147.2" cy="124.1" r="0.80" fill="#27a027"/><circle cx="127.9" cy="126.4" r="0.60" fill="#1f8a1f"/><circle cx="185.7" cy="156.9" r="0.83" fill="#46d046"/><circle cx="191.9" cy="125.0" r="0.55" fill="#2fae2f"/><circle cx="167.5" cy="103.0" r="0.50" fill="#6ef06e"/><circle cx="124.2" cy="97.6" r="0.96" fill="#3cc83c"/><circle cx="147.5" cy="152.6" r="0.46" fill="#27a027"/><circle cx="199.5" cy="120.4" r="0.76" fill="#27a027"/><circle cx="135.6" cy="125.0" r="0.55" fill="#3cc83c"/><circle cx="184.9" cy="130.6" r="0.86" fill="#27a027"/><circle cx="147.4" cy="75.4" r="0.88" fill="#6ef06e"/><circle cx="126.9" cy="104.6" r="0.44" fill="#5ae05a"/><circle cx="201.9" cy="105.3" r="0.64" fill="#1f8a1f"/><circle cx="137.3" cy="122.4" r="0.87" fill="#46d046"/><circle cx="169.0" cy="133.1" r="0.44" fill="#36b836"/><circle cx="158.2" cy="94.0" r="0.60" fill="#36b836"/><circle cx="164.1" cy="102.5" r="0.67" fill="#2fae2f"/><circle cx="172.4" cy="148.8" r="0.64" fill="#27a027"/><circle cx="167.1" cy="84.3" r="0.90" fill="#36b836"/><circle cx="210.6" cy="98.9" r="0.78" fill="#2a9a2a"/><circle cx="147.5" cy="115.4" r="0.90" fill="#6ef06e"/><circle cx="142.4" cy="114.0" r="0.56" fill="#1f8a1f"/><circle cx="185.0" cy="131.5" r="0.59" fill="#5ae05a"/><circle cx="137.5" cy="101.7" r="0.78" fill="#6ef06e"/><circle cx="212.3" cy="105.7" r="0.78" fill="#36b836"/><circle cx="141.0" cy="126.2" r="0.60" fill="#36b836"/><circle cx="181.5" cy="144.1" r="0.87" fill="#27a027"/><circle cx="196.7" cy="95.0" r="0.59" fill="#2a9a2a"/><circle cx="156.7" cy="135.8" r="0.56" fill="#5ae05a"/><circle cx="204.5" cy="138.9" r="0.86" fill="#36b836"/><circle cx="124.3" cy="95.2" r="0.72" fill="#27a027"/><circle cx="150.1" cy="88.1" r="0.41" fill="#1f8a1f"/><circle cx="184.3" cy="107.4" r="0.58" fill="#46d046"/><circle cx="155.3" cy="139.9" r="0.66" fill="#5ae05a"/><circle cx="146.0" cy="132.1" r="0.88" fill="#6ef06e"/><circle cx="177.9" cy="147.2" r="0.76" fill="#6ef06e"/><circle cx="134.6" cy="136.2" r="0.98" fill="#3cc83c"/><circle cx="139.3" cy="88.0" r="0.56" fill="#36b836"/><circle cx="131.2" cy="101.1" r="0.47" fill="#46d046"/><circle cx="135.3" cy="90.0" r="0.70" fill="#6ef06e"/><circle cx="143.2" cy="83.4" r="0.55" fill="#3cc83c"/><circle cx="141.8" cy="89.7" r="0.54" fill="#2a9a2a"/><circle cx="169.4" cy="146.1" r="0.62" fill="#6ef06e"/><circle cx="123.6" cy="129.9" r="0.99" fill="#2a9a2a"/><circle cx="136.0" cy="134.3" r="0.61" fill="#27a027"/><circle cx="132.3" cy="102.1" r="0.68" fill="#46d046"/><circle cx="207.5" cy="98.4" r="0.41" fill="#46d046"/><circle cx="184.2" cy="110.2" r="0.76" fill="#5ae05a"/><circle cx="163.3" cy="144.0" r="0.90" fill="#2a9a2a"/><circle cx="136.0" cy="83.0" r="0.81" fill="#46d046"/><circle cx="175.1" cy="144.2" r="0.65" fill="#1f8a1f"/><circle cx="144.0" cy="110.3" r="0.55" fill="#5ae05a"/><circle cx="143.9" cy="112.7" r="0.66" fill="#1f8a1f"/><circle cx="184.9" cy="114.6" r="0.97" fill="#6ef06e"/><circle cx="198.8" cy="136.2" r="0.70" fill="#3cc83c"/><circle cx="167.2" cy="143.0" r="0.57" fill="#36b836"/><circle cx="207.0" cy="100.9" r="0.72" fill="#2a9a2a"/><circle cx="135.6" cy="115.7" r="0.60" fill="#2fae2f"/><circle cx="148.1" cy="77.9" r="0.46" fill="#1f8a1f"/><circle cx="138.3" cy="105.2" r="0.49" fill="#5ae05a"/><circle cx="171.3" cy="86.1" r="0.84" fill="#2fae2f"/><circle cx="132.2" cy="131.7" r="0.75" fill="#27a027"/><circle cx="171.9" cy="100.7" r="0.56" fill="#36b836"/><circle cx="146.6" cy="124.5" r="0.83" fill="#46d046"/><circle cx="174.8" cy="101.2" r="0.49" fill="#1f8a1f"/><circle cx="129.2" cy="83.9" r="0.47" fill="#46d046"/><circle cx="186.7" cy="110.1" r="0.65" fill="#1f8a1f"/><circle cx="138.9" cy="151.8" r="0.84" fill="#3cc83c"/><circle cx="166.0" cy="146.9" r="0.74" fill="#46d046"/><circle cx="134.4" cy="95.4" r="0.56" fill="#2a9a2a"/><circle cx="138.4" cy="124.4" r="0.48" fill="#6ef06e"/><circle cx="138.5" cy="97.9" r="0.64" fill="#27a027"/><circle cx="168.4" cy="131.5" r="0.90" fill="#27a027"/><circle cx="146.5" cy="113.9" r="0.89" fill="#27a027"/><circle cx="172.3" cy="129.2" r="0.50" fill="#1f8a1f"/><circle cx="142.8" cy="116.7" r="0.52" fill="#36b836"/><circle cx="195.4" cy="109.6" r="0.55" fill="#27a027"/><circle cx="180.7" cy="100.2" r="0.83" fill="#27a027"/><circle cx="199.8" cy="124.1" r="0.57" fill="#46d046"/><circle cx="151.6" cy="83.9" r="0.55" fill="#27a027"/><circle cx="133.8" cy="126.4" r="0.58" fill="#2a9a2a"/><circle cx="133.9" cy="101.7" r="0.90" fill="#46d046"/><circle cx="135.6" cy="95.2" r="0.70" fill="#2fae2f"/><circle cx="146.3" cy="82.9" r="0.64" fill="#6ef06e"/><circle cx="130.2" cy="103.0" r="0.54" fill="#2a9a2a"/><circle cx="149.5" cy="148.9" r="0.46" fill="#2fae2f"/><circle cx="202.6" cy="96.5" r="0.82" fill="#27a027"/><circle cx="153.7" cy="99.0" r="0.68" fill="#6ef06e"/><circle cx="151.9" cy="132.6" r="0.86" fill="#46d046"/><circle cx="171.3" cy="100.8" r="0.88" fill="#2fae2f"/><circle cx="147.3" cy="74.1" r="0.42" fill="#36b836"/><circle cx="195.8" cy="116.8" r="0.51" fill="#2a9a2a"/><circle cx="130.8" cy="89.9" r="0.78" fill="#6ef06e"/><circle cx="169.0" cy="140.0" r="0.91" fill="#2a9a2a"/><circle cx="181.5" cy="97.8" r="0.73" fill="#6ef06e"/><circle cx="163.9" cy="145.5" r="0.79" fill="#1f8a1f"/><circle cx="148.9" cy="91.1" r="0.67" fill="#2fae2f"/><circle cx="138.9" cy="107.4" r="0.61" fill="#2a9a2a"/><circle cx="144.3" cy="71.4" r="0.95" fill="#27a027"/><circle cx="193.6" cy="103.4" r="0.68" fill="#3cc83c"/><circle cx="162.5" cy="93.5" r="0.97" fill="#6ef06e"/><circle cx="149.0" cy="127.1" r="0.91" fill="#1f8a1f"/><circle cx="196.3" cy="112.9" r="0.62" fill="#27a027"/><circle cx="149.6" cy="121.9" r="0.76" fill="#36b836"/><circle cx="174.6" cy="145.3" r="0.99" fill="#2a9a2a"/><circle cx="148.1" cy="87.1" r="0.62" fill="#1f8a1f"/><circle cx="143.3" cy="119.8" r="0.96" fill="#2a9a2a"/><circle cx="142.6" cy="144.8" r="0.41" fill="#36b836"/><circle cx="150.5" cy="117.1" r="0.49" fill="#2fae2f"/><circle cx="194.8" cy="110.0" r="0.96" fill="#3cc83c"/><circle cx="169.1" cy="92.4" r="0.80" fill="#6ef06e"/><circle cx="198.9" cy="105.3" r="0.45" fill="#5ae05a"/><circle cx="157.2" cy="147.3" r="0.40" fill="#5ae05a"/><circle cx="126.9" cy="134.5" r="0.67" fill="#27a027"/><circle cx="148.7" cy="71.8" r="0.75" fill="#5ae05a"/><circle cx="125.2" cy="132.7" r="0.46" fill="#5ae05a"/><circle cx="169.4" cy="131.2" r="0.95" fill="#2a9a2a"/><circle cx="158.6" cy="83.9" r="0.46" fill="#2a9a2a"/><circle cx="133.3" cy="101.8" r="0.55" fill="#5ae05a"/><circle cx="159.9" cy="128.6" r="0.54" fill="#5ae05a"/><circle cx="198.1" cy="97.8" r="0.69" fill="#2fae2f"/><circle cx="210.2" cy="100.3" r="0.96" fill="#2a9a2a"/><circle cx="189.4" cy="147.2" r="0.41" fill="#27a027"/><circle cx="185.9" cy="157.3" r="0.98" fill="#36b836"/><circle cx="145.6" cy="151.6" r="0.94" fill="#2fae2f"/><circle cx="194.0" cy="77.6" r="0.93" fill="#2fae2f"/><circle cx="209.8" cy="104.0" r="0.76" fill="#46d046"/><circle cx="184.1" cy="115.8" r="0.99" fill="#3cc83c"/><circle cx="127.3" cy="95.9" r="0.92" fill="#1f8a1f"/><circle cx="126.4" cy="132.6" r="0.83" fill="#1f8a1f"/><circle cx="197.3" cy="125.4" r="0.64" fill="#36b836"/><circle cx="143.8" cy="80.3" r="0.96" fill="#6ef06e"/><circle cx="134.5" cy="91.4" r="0.91" fill="#1f8a1f"/><circle cx="138.9" cy="87.8" r="0.62" fill="#2a9a2a"/><circle cx="194.1" cy="78.2" r="0.84" fill="#5ae05a"/><circle cx="179.5" cy="147.1" r="0.40" fill="#3cc83c"/><circle cx="142.9" cy="102.7" r="0.89" fill="#1f8a1f"/><circle cx="183.8" cy="148.2" r="0.62" fill="#27a027"/><circle cx="148.7" cy="125.4" r="0.72" fill="#36b836"/><circle cx="181.2" cy="84.8" r="0.45" fill="#27a027"/><circle cx="143.0" cy="121.1" r="0.55" fill="#5ae05a"/><circle cx="137.9" cy="83.7" r="0.61" fill="#6ef06e"/><circle cx="203.1" cy="129.0" r="0.44" fill="#5ae05a"/><circle cx="146.7" cy="85.6" r="0.66" fill="#36b836"/><circle cx="186.1" cy="113.0" r="0.83" fill="#27a027"/><circle cx="160.9" cy="100.3" r="0.50" fill="#6ef06e"/><circle cx="163.9" cy="92.6" r="0.68" fill="#3cc83c"/><circle cx="176.1" cy="144.8" r="0.94" fill="#5ae05a"/><circle cx="139.6" cy="97.8" r="0.75" fill="#6ef06e"/><circle cx="174.9" cy="146.3" r="0.83" fill="#1f8a1f"/><circle cx="147.6" cy="106.0" r="0.95" fill="#36b836"/><circle cx="153.4" cy="92.5" r="0.69" fill="#5ae05a"/><circle cx="166.5" cy="132.2" r="0.47" fill="#2fae2f"/><circle cx="163.9" cy="90.7" r="0.48" fill="#6ef06e"/><circle cx="139.6" cy="91.6" r="0.56" fill="#36b836"/><circle cx="141.1" cy="79.2" r="0.48" fill="#6ef06e"/><circle cx="148.5" cy="110.5" r="0.67" fill="#27a027"/><circle cx="167.7" cy="141.4" r="0.97" fill="#27a027"/><circle cx="189.1" cy="76.0" r="0.45" fill="#46d046"/><circle cx="152.1" cy="134.8" r="0.48" fill="#2a9a2a"/><circle cx="189.6" cy="146.3" r="0.81" fill="#46d046"/><circle cx="138.7" cy="78.4" r="0.97" fill="#1f8a1f"/><circle cx="127.0" cy="98.3" r="0.51" fill="#1f8a1f"/><circle cx="136.8" cy="106.4" r="0.47" fill="#1f8a1f"/><circle cx="139.4" cy="128.7" r="0.57" fill="#2fae2f"/><circle cx="188.3" cy="102.4" r="0.98" fill="#6ef06e"/><circle cx="173.8" cy="88.9" r="0.62" fill="#1f8a1f"/><circle cx="135.4" cy="121.9" r="0.41" fill="#6ef06e"/><circle cx="143.1" cy="117.2" r="0.95" fill="#6ef06e"/><circle cx="141.0" cy="97.6" r="0.94" fill="#27a027"/><circle cx="124.8" cy="126.6" r="0.60" fill="#27a027"/><circle cx="160.4" cy="131.6" r="0.54" fill="#46d046"/><circle cx="193.5" cy="77.2" r="0.58" fill="#1f8a1f"/><circle cx="164.5" cy="133.3" r="0.71" fill="#1f8a1f"/><circle cx="152.0" cy="85.0" r="0.73" fill="#2a9a2a"/><circle cx="152.3" cy="90.0" r="0.42" fill="#36b836"/><circle cx="185.3" cy="123.3" r="0.43" fill="#2a9a2a"/><circle cx="151.1" cy="131.1" r="0.52" fill="#3cc83c"/><circle cx="135.5" cy="121.7" r="0.44" fill="#2fae2f"/><circle cx="135.4" cy="97.9" r="0.83" fill="#6ef06e"/><circle cx="138.7" cy="79.7" r="0.63" fill="#2a9a2a"/><circle cx="198.1" cy="136.1" r="0.60" fill="#2a9a2a"/><circle cx="144.5" cy="106.4" r="0.50" fill="#5ae05a"/><circle cx="146.5" cy="100.9" r="0.69" fill="#27a027"/><circle cx="159.1" cy="142.9" r="0.44" fill="#3cc83c"/><circle cx="163.2" cy="129.7" r="0.74" fill="#2fae2f"/><circle cx="142.4" cy="105.4" r="0.86" fill="#2fae2f"/><circle cx="172.9" cy="91.6" r="0.93" fill="#2a9a2a"/><circle cx="142.8" cy="87.4" r="0.41" fill="#46d046"/><circle cx="177.9" cy="133.0" r="0.52" fill="#2a9a2a"/><circle cx="127.5" cy="93.9" r="0.97" fill="#2fae2f"/><circle cx="199.1" cy="148.2" r="0.63" fill="#5ae05a"/><circle cx="203.9" cy="97.4" r="0.79" fill="#2a9a2a"/><circle cx="171.9" cy="136.9" r="0.90" fill="#46d046"/><circle cx="186.8" cy="118.6" r="0.51" fill="#2a9a2a"/><circle cx="150.5" cy="97.2" r="0.57" fill="#5ae05a"/><circle cx="123.9" cy="97.5" r="0.62" fill="#3cc83c"/><circle cx="144.6" cy="116.4" r="0.52" fill="#3cc83c"/><circle cx="151.3" cy="99.3" r="0.96" fill="#3cc83c"/><circle cx="146.8" cy="107.6" r="0.47" fill="#2a9a2a"/><circle cx="179.0" cy="97.7" r="0.61" fill="#2a9a2a"/><circle cx="158.5" cy="94.4" r="0.51" fill="#46d046"/><circle cx="135.6" cy="79.9" r="0.45" fill="#27a027"/><circle cx="125.1" cy="104.4" r="0.59" fill="#46d046"/><circle cx="159.6" cy="148.2" r="0.92" fill="#46d046"/><circle cx="132.0" cy="118.6" r="0.57" fill="#2fae2f"/><circle cx="180.6" cy="102.1" r="0.88" fill="#5ae05a"/><circle cx="140.3" cy="126.9" r="0.99" fill="#2fae2f"/><circle cx="170.1" cy="100.4" r="0.96" fill="#46d046"/><circle cx="173.6" cy="99.3" r="0.86" fill="#3cc83c"/><circle cx="155.3" cy="146.0" r="0.99" fill="#2fae2f"/><circle cx="164.9" cy="148.4" r="0.45" fill="#6ef06e"/><circle cx="161.7" cy="103.5" r="0.83" fill="#2fae2f"/><circle cx="139.6" cy="78.9" r="0.87" fill="#36b836"/><circle cx="135.9" cy="83.7" r="0.96" fill="#6ef06e"/><circle cx="191.1" cy="118.1" r="0.77" fill="#2fae2f"/><circle cx="175.7" cy="100.8" r="0.69" fill="#5ae05a"/><circle cx="167.4" cy="135.8" r="0.90" fill="#27a027"/><circle cx="138.5" cy="99.5" r="0.98" fill="#27a027"/><circle cx="137.7" cy="80.7" r="0.49" fill="#2a9a2a"/><circle cx="175.5" cy="143.2" r="0.85" fill="#2a9a2a"/><circle cx="176.3" cy="83.6" r="0.44" fill="#3cc83c"/><circle cx="158.0" cy="93.2" r="0.74" fill="#2a9a2a"/><circle cx="177.4" cy="102.0" r="0.83" fill="#2a9a2a"/><circle cx="132.6" cy="111.9" r="0.59" fill="#1f8a1f"/><circle cx="163.2" cy="99.2" r="0.87" fill="#6ef06e"/><circle cx="138.8" cy="77.8" r="0.77" fill="#46d046"/><circle cx="199.3" cy="114.7" r="0.95" fill="#5ae05a"/><circle cx="185.2" cy="112.9" r="0.94" fill="#6ef06e"/><circle cx="138.7" cy="91.1" r="0.82" fill="#46d046"/><circle cx="184.1" cy="115.0" r="0.40" fill="#2a9a2a"/><circle cx="137.7" cy="110.9" r="0.67" fill="#27a027"/><circle cx="132.4" cy="94.6" r="0.92" fill="#36b836"/><circle cx="142.7" cy="155.4" r="0.80" fill="#6ef06e"/><circle cx="187.6" cy="105.7" r="0.74" fill="#5ae05a"/><circle cx="160.1" cy="83.0" r="0.45" fill="#6ef06e"/><circle cx="182.0" cy="91.6" r="0.85" fill="#46d046"/><circle cx="147.8" cy="106.5" r="0.51" fill="#2fae2f"/><circle cx="166.6" cy="147.6" r="0.87" fill="#46d046"/><circle cx="192.6" cy="130.6" r="0.93" fill="#6ef06e"/><circle cx="149.3" cy="78.6" r="0.57" fill="#6ef06e"/><circle cx="144.4" cy="83.7" r="0.95" fill="#1f8a1f"/><circle cx="142.3" cy="111.4" r="0.89" fill="#3cc83c"/><circle cx="140.7" cy="124.7" r="0.45" fill="#36b836"/><circle cx="127.1" cy="128.0" r="0.80" fill="#27a027"/><circle cx="140.2" cy="111.8" r="0.44" fill="#3cc83c"/><circle cx="190.5" cy="117.2" r="0.88" fill="#2a9a2a"/><circle cx="181.7" cy="144.7" r="0.70" fill="#2a9a2a"/><circle cx="193.3" cy="131.3" r="0.65" fill="#27a027"/><circle cx="162.5" cy="89.5" r="0.82" fill="#2a9a2a"/><circle cx="195.2" cy="96.7" r="0.66" fill="#36b836"/><circle cx="152.8" cy="139.0" r="0.95" fill="#36b836"/><circle cx="150.7" cy="83.0" r="0.83" fill="#3cc83c"/><circle cx="181.2" cy="87.7" r="0.60" fill="#1f8a1f"/><circle cx="143.3" cy="132.9" r="0.73" fill="#1f8a1f"/><circle cx="123.0" cy="93.2" r="0.77" fill="#3cc83c"/><circle cx="179.9" cy="140.0" r="0.51" fill="#3cc83c"/><circle cx="133.3" cy="79.5" r="0.46" fill="#27a027"/><circle cx="193.7" cy="118.2" r="0.85" fill="#46d046"/><circle cx="185.5" cy="77.0" r="0.75" fill="#1f8a1f"/><circle cx="142.4" cy="111.5" r="0.41" fill="#6ef06e"/><circle cx="191.8" cy="113.0" r="0.70" fill="#2a9a2a"/><circle cx="137.9" cy="143.5" r="0.88" fill="#27a027"/><circle cx="138.8" cy="75.5" r="0.50" fill="#6ef06e"/><circle cx="180.7" cy="99.2" r="0.64" fill="#3cc83c"/><circle cx="172.7" cy="138.3" r="0.75" fill="#3cc83c"/><circle cx="175.4" cy="84.2" r="0.96" fill="#27a027"/><circle cx="135.4" cy="102.6" r="0.45" fill="#1f8a1f"/><circle cx="149.1" cy="89.0" r="0.81" fill="#5ae05a"/><circle cx="163.9" cy="101.8" r="0.76" fill="#1f8a1f"/><circle cx="155.7" cy="89.1" r="0.82" fill="#27a027"/><circle cx="176.0" cy="90.6" r="0.73" fill="#2a9a2a"/><circle cx="196.6" cy="121.3" r="0.84" fill="#36b836"/><circle cx="154.6" cy="134.3" r="0.41" fill="#5ae05a"/><circle cx="136.5" cy="82.8" r="0.41" fill="#2fae2f"/><circle cx="161.0" cy="148.2" r="0.87" fill="#46d046"/><circle cx="144.9" cy="82.7" r="0.73" fill="#46d046"/><circle cx="143.1" cy="136.6" r="0.61" fill="#2a9a2a"/><circle cx="184.7" cy="118.7" r="0.80" fill="#6ef06e"/><circle cx="152.8" cy="144.7" r="0.54" fill="#5ae05a"/><circle cx="165.0" cy="84.5" r="0.89" fill="#3cc83c"/><circle cx="194.3" cy="113.2" r="0.65" fill="#2fae2f"/><circle cx="196.8" cy="131.3" r="0.73" fill="#36b836"/><circle cx="124.9" cy="132.9" r="0.77" fill="#3cc83c"/><circle cx="144.2" cy="101.2" r="0.87" fill="#27a027"/><circle cx="148.4" cy="123.5" r="0.45" fill="#5ae05a"/><circle cx="172.9" cy="139.7" r="0.86" fill="#1f8a1f"/><circle cx="158.4" cy="83.4" r="0.84" fill="#36b836"/><circle cx="142.4" cy="84.4" r="0.91" fill="#2a9a2a"/><circle cx="206.5" cy="99.2" r="0.44" fill="#46d046"/><circle cx="189.3" cy="109.3" r="0.47" fill="#2a9a2a"/><circle cx="161.3" cy="98.7" r="0.66" fill="#2a9a2a"/><circle cx="159.7" cy="92.3" r="0.49" fill="#2a9a2a"/><circle cx="193.5" cy="104.4" r="0.72" fill="#46d046"/><circle cx="188.7" cy="102.6" r="0.62" fill="#1f8a1f"/><circle cx="155.7" cy="128.6" r="0.70" fill="#5ae05a"/><circle cx="188.1" cy="105.6" r="0.78" fill="#36b836"/><circle cx="202.3" cy="96.5" r="0.97" fill="#46d046"/><circle cx="132.2" cy="87.9" r="0.81" fill="#46d046"/><circle cx="151.8" cy="147.6" r="0.70" fill="#1f8a1f"/><circle cx="133.8" cy="122.4" r="0.47" fill="#46d046"/><circle cx="162.4" cy="86.5" r="0.56" fill="#27a027"/><circle cx="207.4" cy="93.2" r="0.62" fill="#1f8a1f"/><circle cx="130.4" cy="87.6" r="0.90" fill="#6ef06e"/><circle cx="140.2" cy="110.5" r="0.65" fill="#2fae2f"/><circle cx="184.9" cy="139.2" r="0.41" fill="#27a027"/><circle cx="153.1" cy="97.6" r="0.62" fill="#36b836"/><circle cx="163.0" cy="148.1" r="0.83" fill="#36b836"/><circle cx="135.3" cy="98.9" r="0.49" fill="#1f8a1f"/><circle cx="133.4" cy="106.7" r="0.81" fill="#6ef06e"/><circle cx="174.1" cy="86.2" r="0.40" fill="#36b836"/><circle cx="184.7" cy="137.4" r="0.92" fill="#46d046"/><circle cx="138.6" cy="100.7" r="0.85" fill="#1f8a1f"/><circle cx="167.4" cy="100.9" r="0.66" fill="#6ef06e"/><circle cx="164.7" cy="88.8" r="0.54" fill="#3cc83c"/><circle cx="175.5" cy="84.7" r="0.75" fill="#6ef06e"/><circle cx="189.4" cy="76.1" r="0.94" fill="#27a027"/><circle cx="168.4" cy="128.0" r="0.69" fill="#36b836"/><circle cx="132.8" cy="85.6" r="0.99" fill="#3cc83c"/><circle cx="193.9" cy="119.7" r="0.96" fill="#27a027"/><circle cx="193.6" cy="139.3" r="0.79" fill="#2a9a2a"/><circle cx="135.7" cy="118.0" r="0.76" fill="#27a027"/><circle cx="136.2" cy="127.8" r="0.73" fill="#2fae2f"/><circle cx="147.8" cy="90.1" r="0.58" fill="#2fae2f"/><circle cx="169.4" cy="94.0" r="0.83" fill="#6ef06e"/><circle cx="156.2" cy="146.3" r="0.74" fill="#36b836"/><circle cx="169.4" cy="99.1" r="0.94" fill="#36b836"/><circle cx="141.4" cy="125.8" r="0.79" fill="#5ae05a"/><circle cx="147.1" cy="97.5" r="0.64" fill="#27a027"/><circle cx="161.9" cy="85.3" r="0.45" fill="#6ef06e"/><circle cx="155.9" cy="84.8" r="0.71" fill="#27a027"/><circle cx="173.6" cy="84.1" r="0.88" fill="#36b836"/><circle cx="142.1" cy="123.4" r="0.70" fill="#5ae05a"/><circle cx="171.2" cy="140.2" r="0.98" fill="#2fae2f"/><circle cx="137.8" cy="148.6" r="0.89" fill="#2fae2f"/><circle cx="142.3" cy="114.5" r="0.54" fill="#1f8a1f"/><circle cx="136.1" cy="144.2" r="0.73" fill="#2fae2f"/><circle cx="179.1" cy="87.1" r="0.91" fill="#3cc83c"/><circle cx="129.1" cy="97.7" r="0.71" fill="#1f8a1f"/><circle cx="199.5" cy="102.5" r="0.55" fill="#1f8a1f"/><circle cx="134.3" cy="86.1" r="0.81" fill="#5ae05a"/><circle cx="193.7" cy="123.2" r="0.47" fill="#36b836"/><circle cx="148.9" cy="93.1" r="0.73" fill="#36b836"/><circle cx="195.0" cy="104.2" r="0.59" fill="#2fae2f"/><circle cx="154.6" cy="86.3" r="0.41" fill="#36b836"/><circle cx="171.4" cy="99.2" r="0.41" fill="#1f8a1f"/><circle cx="182.0" cy="75.1" r="0.58" fill="#2fae2f"/><circle cx="208.0" cy="92.8" r="0.67" fill="#2a9a2a"/><circle cx="156.3" cy="145.8" r="0.72" fill="#2a9a2a"/><circle cx="194.9" cy="111.4" r="0.82" fill="#36b836"/><circle cx="128.3" cy="126.6" r="0.86" fill="#5ae05a"/><circle cx="191.0" cy="125.5" r="0.89" fill="#5ae05a"/><circle cx="156.2" cy="96.9" r="0.45" fill="#3cc83c"/><circle cx="148.5" cy="116.0" r="0.52" fill="#2a9a2a"/><circle cx="166.7" cy="95.1" r="0.62" fill="#2fae2f"/><circle cx="134.8" cy="99.5" r="0.62" fill="#1f8a1f"/><circle cx="201.8" cy="106.9" r="0.65" fill="#6ef06e"/><circle cx="174.4" cy="143.3" r="0.53" fill="#3cc83c"/><circle cx="134.4" cy="93.9" r="0.64" fill="#6ef06e"/><circle cx="194.6" cy="118.4" r="0.68" fill="#2fae2f"/><circle cx="171.2" cy="100.4" r="0.63" fill="#3cc83c"/><circle cx="168.3" cy="147.2" r="0.76" fill="#2fae2f"/><circle cx="157.1" cy="102.6" r="0.67" fill="#6ef06e"/><circle cx="186.5" cy="150.1" r="0.60" fill="#1f8a1f"/><circle cx="147.0" cy="79.8" r="0.53" fill="#2fae2f"/><circle cx="166.4" cy="88.8" r="0.51" fill="#2a9a2a"/><circle cx="143.5" cy="88.5" r="0.52" fill="#2a9a2a"/><circle cx="195.2" cy="96.3" r="0.63" fill="#46d046"/><circle cx="162.8" cy="141.6" r="0.69" fill="#46d046"/><circle cx="159.0" cy="131.3" r="0.55" fill="#3cc83c"/><circle cx="186.9" cy="112.9" r="0.96" fill="#1f8a1f"/><circle cx="120.3" cy="104.9" r="0.70" fill="#2a9a2a"/><circle cx="171.8" cy="95.4" r="0.43" fill="#6ef06e"/><circle cx="173.7" cy="92.0" r="0.91" fill="#6ef06e"/><circle cx="197.7" cy="139.1" r="0.46" fill="#36b836"/><circle cx="139.4" cy="93.0" r="0.94" fill="#6ef06e"/><circle cx="154.1" cy="136.5" r="0.44" fill="#27a027"/><circle cx="152.4" cy="144.4" r="0.84" fill="#36b836"/><circle cx="182.2" cy="97.3" r="0.61" fill="#46d046"/><circle cx="162.8" cy="101.1" r="0.80" fill="#46d046"/><circle cx="191.9" cy="114.9" r="0.60" fill="#36b836"/><circle cx="197.9" cy="127.5" r="0.66" fill="#27a027"/><circle cx="129.7" cy="140.3" r="0.97" fill="#46d046"/><circle cx="156.4" cy="90.1" r="0.58" fill="#46d046"/><circle cx="186.8" cy="112.0" r="0.59" fill="#6ef06e"/><circle cx="139.3" cy="128.0" r="0.46" fill="#36b836"/><circle cx="146.4" cy="75.9" r="0.90" fill="#5ae05a"/><circle cx="190.6" cy="130.0" r="0.78" fill="#6ef06e"/><circle cx="197.0" cy="117.2" r="0.86" fill="#6ef06e"/><circle cx="198.2" cy="110.3" r="0.60" fill="#36b836"/><circle cx="134.0" cy="123.7" r="0.70" fill="#2fae2f"/><circle cx="193.0" cy="108.1" r="0.52" fill="#2fae2f"/><circle cx="186.7" cy="118.5" r="0.79" fill="#36b836"/><circle cx="197.4" cy="114.7" r="0.67" fill="#1f8a1f"/><circle cx="147.0" cy="118.4" r="0.50" fill="#6ef06e"/><circle cx="145.6" cy="107.7" r="0.57" fill="#5ae05a"/><circle cx="144.3" cy="105.3" r="0.59" fill="#5ae05a"/><circle cx="160.2" cy="130.1" r="0.89" fill="#2a9a2a"/><circle cx="157.6" cy="99.3" r="0.68" fill="#2a9a2a"/><circle cx="176.1" cy="91.6" r="0.65" fill="#2a9a2a"/><circle cx="146.5" cy="109.1" r="0.71" fill="#27a027"/><circle cx="130.8" cy="100.3" r="0.63" fill="#2a9a2a"/><circle cx="189.0" cy="121.4" r="0.49" fill="#5ae05a"/><circle cx="152.9" cy="97.2" r="0.71" fill="#6ef06e"/><circle cx="164.1" cy="133.6" r="0.74" fill="#3cc83c"/><circle cx="169.3" cy="136.2" r="0.98" fill="#36b836"/><circle cx="200.5" cy="105.2" r="0.62" fill="#36b836"/><circle cx="138.8" cy="126.2" r="0.85" fill="#1f8a1f"/><circle cx="145.1" cy="123.2" r="0.41" fill="#1f8a1f"/><circle cx="141.3" cy="123.5" r="0.51" fill="#2a9a2a"/><circle cx="140.1" cy="94.9" r="0.48" fill="#5ae05a"/><circle cx="206.5" cy="130.2" r="0.77" fill="#5ae05a"/><circle cx="151.1" cy="84.4" r="0.67" fill="#6ef06e"/><circle cx="185.2" cy="107.4" r="0.56" fill="#36b836"/><circle cx="163.9" cy="86.4" r="0.62" fill="#46d046"/><circle cx="146.3" cy="155.7" r="0.53" fill="#2a9a2a"/><circle cx="139.7" cy="104.4" r="0.62" fill="#2a9a2a"/><circle cx="191.1" cy="107.9" r="0.76" fill="#5ae05a"/><circle cx="148.7" cy="109.9" r="0.62" fill="#1f8a1f"/><circle cx="143.6" cy="81.7" r="0.79" fill="#36b836"/><circle cx="151.2" cy="89.6" r="0.87" fill="#6ef06e"/><circle cx="158.6" cy="146.0" r="0.70" fill="#5ae05a"/><circle cx="167.4" cy="135.9" r="0.56" fill="#36b836"/><circle cx="130.5" cy="120.8" r="0.45" fill="#2fae2f"/><circle cx="162.3" cy="128.2" r="0.61" fill="#2fae2f"/><circle cx="174.2" cy="87.2" r="0.58" fill="#1f8a1f"/><circle cx="176.4" cy="140.1" r="0.90" fill="#36b836"/><circle cx="133.4" cy="112.1" r="0.94" fill="#36b836"/><circle cx="192.2" cy="88.4" r="0.81" fill="#5ae05a"/><circle cx="135.6" cy="97.4" r="0.86" fill="#2a9a2a"/><circle cx="175.1" cy="130.9" r="0.83" fill="#5ae05a"/><circle cx="174.5" cy="100.5" r="0.55" fill="#6ef06e"/><circle cx="146.9" cy="84.5" r="0.62" fill="#1f8a1f"/><circle cx="150.4" cy="118.9" r="0.47" fill="#1f8a1f"/><circle cx="150.3" cy="92.6" r="0.78" fill="#5ae05a"/><circle cx="168.4" cy="101.9" r="0.56" fill="#2fae2f"/><circle cx="144.9" cy="155.9" r="0.81" fill="#46d046"/><circle cx="186.0" cy="98.5" r="0.97" fill="#5ae05a"/><circle cx="158.3" cy="84.5" r="0.72" fill="#1f8a1f"/><circle cx="211.3" cy="101.3" r="0.85" fill="#36b836"/><circle cx="143.7" cy="117.2" r="0.98" fill="#3cc83c"/><circle cx="172.2" cy="98.5" r="0.81" fill="#46d046"/><circle cx="182.8" cy="102.9" r="0.62" fill="#46d046"/><circle cx="121.8" cy="97.6" r="0.62" fill="#2fae2f"/><circle cx="196.2" cy="116.2" r="0.46" fill="#46d046"/><circle cx="184.8" cy="78.7" r="0.42" fill="#1f8a1f"/><circle cx="194.3" cy="131.2" r="0.87" fill="#2a9a2a"/><circle cx="153.0" cy="129.8" r="0.80" fill="#27a027"/><circle cx="155.1" cy="147.6" r="0.81" fill="#46d046"/><circle cx="148.6" cy="74.1" r="0.72" fill="#1f8a1f"/><circle cx="133.3" cy="89.9" r="0.64" fill="#36b836"/><circle cx="138.9" cy="125.2" r="0.75" fill="#2a9a2a"/><circle cx="176.5" cy="93.4" r="0.84" fill="#46d046"/><circle cx="150.5" cy="126.1" r="0.72" fill="#2a9a2a"/><circle cx="174.2" cy="129.9" r="0.91" fill="#6ef06e"/><circle cx="152.5" cy="128.5" r="0.73" fill="#5ae05a"/><circle cx="147.2" cy="83.1" r="0.50" fill="#36b836"/><circle cx="195.3" cy="120.2" r="0.82" fill="#6ef06e"/><circle cx="150.5" cy="116.5" r="0.60" fill="#36b836"/><circle cx="149.9" cy="87.5" r="0.64" fill="#1f8a1f"/><circle cx="203.2" cy="103.4" r="0.63" fill="#5ae05a"/><circle cx="169.0" cy="88.0" r="0.93" fill="#36b836"/><circle cx="133.8" cy="102.0" r="0.74" fill="#5ae05a"/><circle cx="201.9" cy="129.9" r="0.54" fill="#27a027"/><circle cx="185.5" cy="125.4" r="0.92" fill="#3cc83c"/><circle cx="182.0" cy="94.7" r="0.41" fill="#3cc83c"/><circle cx="128.8" cy="96.0" r="0.59" fill="#5ae05a"/><circle cx="130.3" cy="89.2" r="0.93" fill="#46d046"/><circle cx="147.8" cy="81.7" r="0.96" fill="#2fae2f"/><circle cx="154.1" cy="92.2" r="0.58" fill="#46d046"/><circle cx="172.4" cy="93.4" r="0.89" fill="#2a9a2a"/><circle cx="189.8" cy="102.8" r="0.95" fill="#1f8a1f"/><circle cx="192.8" cy="111.0" r="0.77" fill="#2fae2f"/><circle cx="155.8" cy="102.9" r="0.57" fill="#5ae05a"/><circle cx="135.2" cy="88.2" r="0.55" fill="#6ef06e"/><circle cx="166.3" cy="90.9" r="0.60" fill="#36b836"/><circle cx="207.0" cy="98.9" r="0.95" fill="#36b836"/><circle cx="182.6" cy="97.6" r="0.69" fill="#6ef06e"/><circle cx="146.3" cy="82.1" r="0.72" fill="#2a9a2a"/><circle cx="165.9" cy="130.3" r="0.54" fill="#5ae05a"/><circle cx="169.7" cy="100.6" r="0.55" fill="#5ae05a"/><circle cx="204.7" cy="91.1" r="0.46" fill="#2fae2f"/><circle cx="148.0" cy="87.8" r="0.96" fill="#27a027"/><circle cx="147.2" cy="94.3" r="0.89" fill="#1f8a1f"/><circle cx="150.9" cy="153.2" r="0.45" fill="#3cc83c"/><circle cx="139.5" cy="89.5" r="0.64" fill="#2a9a2a"/><circle cx="131.3" cy="94.1" r="0.63" fill="#6ef06e"/><circle cx="124.2" cy="101.7" r="0.99" fill="#3cc83c"/><circle cx="166.0" cy="129.6" r="0.45" fill="#3cc83c"/><circle cx="125.6" cy="93.4" r="0.57" fill="#27a027"/><circle cx="167.5" cy="97.9" r="0.94" fill="#2fae2f"/><circle cx="201.2" cy="102.9" r="0.67" fill="#2a9a2a"/><circle cx="143.4" cy="127.5" r="0.67" fill="#2fae2f"/><circle cx="170.8" cy="99.7" r="0.65" fill="#2a9a2a"/><circle cx="160.9" cy="134.4" r="0.54" fill="#27a027"/><circle cx="180.7" cy="147.9" r="0.45" fill="#5ae05a"/><circle cx="156.2" cy="130.3" r="0.60" fill="#5ae05a"/><circle cx="195.6" cy="124.3" r="0.45" fill="#3cc83c"/><circle cx="188.5" cy="131.3" r="0.54" fill="#36b836"/><circle cx="128.0" cy="104.9" r="0.80" fill="#5ae05a"/><circle cx="133.6" cy="121.0" r="0.43" fill="#46d046"/><circle cx="187.1" cy="111.0" r="0.88" fill="#27a027"/><circle cx="173.7" cy="89.7" r="0.54" fill="#36b836"/><circle cx="177.5" cy="86.7" r="0.62" fill="#46d046"/><circle cx="127.1" cy="90.2" r="0.47" fill="#1f8a1f"/><circle cx="173.2" cy="83.7" r="0.94" fill="#46d046"/><circle cx="135.6" cy="112.9" r="0.94" fill="#2a9a2a"/><circle cx="164.7" cy="95.3" r="0.84" fill="#5ae05a"/><circle cx="150.3" cy="110.4" r="0.90" fill="#27a027"/><circle cx="169.9" cy="143.0" r="0.44" fill="#1f8a1f"/><circle cx="193.4" cy="113.0" r="0.48" fill="#5ae05a"/><circle cx="182.7" cy="81.5" r="1.00" fill="#1f8a1f"/><circle cx="177.5" cy="100.8" r="0.44" fill="#6ef06e"/><circle cx="168.4" cy="99.5" r="0.60" fill="#2fae2f"/><circle cx="173.4" cy="86.9" r="0.90" fill="#36b836"/><circle cx="168.9" cy="83.0" r="0.97" fill="#2fae2f"/><circle cx="136.5" cy="86.9" r="0.55" fill="#6ef06e"/><circle cx="151.3" cy="137.7" r="0.93" fill="#3cc83c"/><circle cx="180.0" cy="144.0" r="0.67" fill="#1f8a1f"/><circle cx="188.9" cy="143.5" r="0.80" fill="#27a027"/><circle cx="133.8" cy="125.4" r="0.94" fill="#1f8a1f"/><circle cx="176.8" cy="128.1" r="0.42" fill="#2fae2f"/><circle cx="199.3" cy="103.1" r="0.54" fill="#6ef06e"/><circle cx="153.8" cy="91.5" r="0.67" fill="#5ae05a"/><circle cx="161.3" cy="148.3" r="0.52" fill="#46d046"/><circle cx="158.0" cy="102.4" r="0.75" fill="#5ae05a"/><circle cx="188.1" cy="92.4" r="0.91" fill="#5ae05a"/><circle cx="187.7" cy="120.4" r="0.76" fill="#1f8a1f"/><circle cx="171.0" cy="84.5" r="0.97" fill="#27a027"/><circle cx="122.0" cy="95.1" r="0.69" fill="#3cc83c"/><circle cx="140.5" cy="107.3" r="0.96" fill="#27a027"/><circle cx="130.9" cy="119.7" r="0.57" fill="#27a027"/><circle cx="169.0" cy="84.0" r="0.84" fill="#27a027"/><circle cx="155.7" cy="132.2" r="0.97" fill="#6ef06e"/><circle cx="193.3" cy="109.4" r="0.98" fill="#2a9a2a"/><circle cx="136.4" cy="101.0" r="0.93" fill="#46d046"/><circle cx="124.9" cy="138.0" r="0.83" fill="#1f8a1f"/><circle cx="145.2" cy="106.5" r="0.82" fill="#3cc83c"/><circle cx="182.7" cy="98.0" r="0.81" fill="#27a027"/><circle cx="198.5" cy="123.2" r="0.59" fill="#3cc83c"/><circle cx="144.9" cy="152.2" r="0.44" fill="#6ef06e"/><circle cx="139.1" cy="85.6" r="0.75" fill="#1f8a1f"/><circle cx="137.9" cy="138.9" r="0.72" fill="#5ae05a"/><circle cx="168.4" cy="91.6" r="0.67" fill="#2a9a2a"/><circle cx="181.2" cy="132.7" r="0.73" fill="#3cc83c"/><circle cx="145.2" cy="114.7" r="0.71" fill="#6ef06e"/><circle cx="168.8" cy="96.3" r="0.53" fill="#2a9a2a"/><circle cx="147.1" cy="102.7" r="0.54" fill="#3cc83c"/><circle cx="203.5" cy="106.4" r="0.69" fill="#1f8a1f"/><circle cx="158.7" cy="145.3" r="0.58" fill="#5ae05a"/><circle cx="137.2" cy="123.1" r="0.47" fill="#27a027"/><circle cx="197.5" cy="89.3" r="0.87" fill="#46d046"/><circle cx="142.3" cy="104.4" r="0.92" fill="#27a027"/><circle cx="207.3" cy="92.1" r="0.64" fill="#2fae2f"/><circle cx="152.8" cy="94.3" r="0.83" fill="#5ae05a"/><circle cx="144.2" cy="97.3" r="0.83" fill="#27a027"/><circle cx="139.7" cy="78.6" r="0.96" fill="#36b836"/><circle cx="169.0" cy="134.4" r="0.45" fill="#2a9a2a"/><circle cx="156.3" cy="89.5" r="0.61" fill="#1f8a1f"/><circle cx="137.4" cy="82.0" r="0.65" fill="#27a027"/><circle cx="196.9" cy="96.6" r="0.69" fill="#6ef06e"/><circle cx="173.3" cy="146.9" r="0.67" fill="#3cc83c"/><circle cx="192.2" cy="74.3" r="0.43" fill="#2a9a2a"/><circle cx="209.6" cy="132.4" r="0.47" fill="#1f8a1f"/><circle cx="152.7" cy="140.8" r="0.53" fill="#2a9a2a"/><circle cx="132.9" cy="112.0" r="0.50" fill="#5ae05a"/><circle cx="147.4" cy="104.6" r="0.71" fill="#46d046"/><circle cx="151.3" cy="83.4" r="0.60" fill="#36b836"/><circle cx="137.2" cy="115.0" r="0.81" fill="#6ef06e"/><circle cx="174.1" cy="92.2" r="0.43" fill="#27a027"/><circle cx="207.0" cy="133.9" r="0.63" fill="#1f8a1f"/><circle cx="137.9" cy="117.5" r="0.97" fill="#3cc83c"/><circle cx="144.3" cy="83.2" r="0.90" fill="#46d046"/><circle cx="160.3" cy="83.8" r="0.62" fill="#2a9a2a"/><circle cx="153.3" cy="130.9" r="0.63" fill="#5ae05a"/><circle cx="154.2" cy="85.7" r="0.40" fill="#2a9a2a"/><circle cx="174.8" cy="140.4" r="0.63" fill="#2fae2f"/><circle cx="172.2" cy="138.7" r="0.51" fill="#3cc83c"/><circle cx="144.8" cy="121.2" r="0.80" fill="#3cc83c"/><circle cx="127.8" cy="98.1" r="0.97" fill="#27a027"/><circle cx="135.8" cy="106.5" r="0.57" fill="#27a027"/><circle cx="182.6" cy="86.1" r="0.53" fill="#46d046"/><circle cx="189.4" cy="83.1" r="0.52" fill="#46d046"/><circle cx="145.5" cy="74.7" r="0.46" fill="#2a9a2a"/><circle cx="160.4" cy="146.1" r="0.89" fill="#2fae2f"/><circle cx="141.9" cy="118.6" r="0.82" fill="#27a027"/><circle cx="194.2" cy="83.1" r="0.87" fill="#3cc83c"/><circle cx="170.1" cy="147.3" r="0.93" fill="#46d046"/><circle cx="183.5" cy="109.0" r="0.52" fill="#2a9a2a"/><circle cx="151.0" cy="85.3" r="0.71" fill="#3cc83c"/><circle cx="137.4" cy="95.9" r="0.60" fill="#6ef06e"/><circle cx="198.9" cy="114.6" r="0.47" fill="#3cc83c"/><circle cx="141.1" cy="96.6" r="0.96" fill="#5ae05a"/><circle cx="157.4" cy="102.8" r="0.63" fill="#1f8a1f"/><circle cx="178.8" cy="147.8" r="0.70" fill="#3cc83c"/><circle cx="163.5" cy="95.1" r="0.46" fill="#46d046"/><circle cx="130.2" cy="84.7" r="0.41" fill="#2fae2f"/><circle cx="181.6" cy="87.5" r="0.69" fill="#27a027"/><circle cx="141.7" cy="122.6" r="0.71" fill="#27a027"/><circle cx="189.9" cy="124.9" r="0.98" fill="#6ef06e"/><circle cx="181.8" cy="103.2" r="0.55" fill="#2fae2f"/><circle cx="208.3" cy="135.8" r="0.47" fill="#46d046"/><circle cx="143.3" cy="80.8" r="0.45" fill="#1f8a1f"/><circle cx="142.4" cy="97.7" r="0.64" fill="#36b836"/><circle cx="182.2" cy="93.3" r="0.95" fill="#36b836"/><circle cx="148.3" cy="93.2" r="0.75" fill="#5ae05a"/><circle cx="139.8" cy="87.2" r="0.60" fill="#3cc83c"/><circle cx="143.1" cy="151.2" r="0.75" fill="#3cc83c"/><circle cx="143.5" cy="86.4" r="0.56" fill="#2a9a2a"/><circle cx="190.7" cy="80.6" r="0.75" fill="#36b836"/><circle cx="149.6" cy="107.2" r="0.83" fill="#3cc83c"/><circle cx="139.9" cy="126.4" r="0.95" fill="#1f8a1f"/><circle cx="123.6" cy="129.8" r="0.68" fill="#27a027"/><circle cx="149.0" cy="77.2" r="0.86" fill="#46d046"/><circle cx="132.6" cy="85.7" r="0.93" fill="#3cc83c"/><circle cx="207.6" cy="93.4" r="0.61" fill="#1f8a1f"/><circle cx="175.9" cy="132.2" r="1.00" fill="#2fae2f"/><circle cx="146.2" cy="123.4" r="0.59" fill="#1f8a1f"/><circle cx="168.7" cy="96.3" r="0.44" fill="#6ef06e"/><circle cx="129.1" cy="89.7" r="0.54" fill="#2fae2f"/><circle cx="159.5" cy="102.2" r="0.63" fill="#2a9a2a"/><circle cx="145.0" cy="81.3" r="0.99" fill="#2a9a2a"/><circle cx="142.0" cy="108.6" r="0.59" fill="#27a027"/><circle cx="120.1" cy="126.5" r="0.93" fill="#2fae2f"/><circle cx="145.1" cy="131.4" r="0.42" fill="#1f8a1f"/><circle cx="149.3" cy="143.7" r="0.90" fill="#2a9a2a"/><circle cx="213.0" cy="106.1" r="0.74" fill="#5ae05a"/><circle cx="139.0" cy="83.9" r="0.41" fill="#1f8a1f"/><circle cx="211.7" cy="106.1" r="0.68" fill="#2fae2f"/><circle cx="149.1" cy="112.3" r="0.57" fill="#6ef06e"/><circle cx="146.7" cy="123.4" r="0.47" fill="#2a9a2a"/><circle cx="123.1" cy="94.6" r="0.95" fill="#36b836"/><circle cx="197.5" cy="109.2" r="0.93" fill="#36b836"/><circle cx="190.0" cy="109.6" r="0.51" fill="#46d046"/><circle cx="138.9" cy="151.0" r="0.72" fill="#46d046"/><circle cx="179.2" cy="129.7" r="0.80" fill="#1f8a1f"/><circle cx="139.1" cy="143.8" r="0.48" fill="#2a9a2a"/><circle cx="168.8" cy="94.1" r="0.62" fill="#5ae05a"/><circle cx="188.9" cy="107.7" r="0.52" fill="#46d046"/><circle cx="145.3" cy="101.3" r="0.99" fill="#3cc83c"/><circle cx="152.6" cy="91.2" r="0.41" fill="#2fae2f"/><circle cx="188.2" cy="110.0" r="0.99" fill="#6ef06e"/><circle cx="137.6" cy="96.2" r="0.81" fill="#27a027"/><circle cx="148.8" cy="83.4" r="0.89" fill="#6ef06e"/><circle cx="131.9" cy="115.2" r="0.73" fill="#1f8a1f"/><circle cx="149.3" cy="157.1" r="0.54" fill="#2fae2f"/><circle cx="150.3" cy="117.4" r="0.68" fill="#2a9a2a"/><circle cx="146.7" cy="71.3" r="0.86" fill="#46d046"/><circle cx="192.3" cy="125.8" r="0.97" fill="#27a027"/><circle cx="148.9" cy="78.2" r="0.40" fill="#3cc83c"/><circle cx="132.7" cy="87.4" r="0.69" fill="#46d046"/><circle cx="184.6" cy="126.9" r="0.43" fill="#6ef06e"/><circle cx="148.6" cy="96.9" r="0.51" fill="#2a9a2a"/><circle cx="147.8" cy="105.5" r="0.52" fill="#36b836"/><circle cx="186.7" cy="107.3" r="0.70" fill="#6ef06e"/><circle cx="130.6" cy="106.5" r="0.84" fill="#2fae2f"/><circle cx="192.4" cy="106.5" r="0.96" fill="#1f8a1f"/><circle cx="172.7" cy="143.7" r="0.83" fill="#36b836"/><circle cx="163.2" cy="86.9" r="0.60" fill="#2a9a2a"/><circle cx="148.3" cy="82.8" r="0.46" fill="#3cc83c"/><circle cx="126.5" cy="100.4" r="0.82" fill="#46d046"/><circle cx="132.6" cy="87.9" r="0.77" fill="#27a027"/><circle cx="132.0" cy="115.2" r="0.59" fill="#46d046"/><circle cx="192.7" cy="74.8" r="0.88" fill="#36b836"/><circle cx="158.9" cy="87.8" r="0.69" fill="#27a027"/><circle cx="197.0" cy="86.1" r="0.76" fill="#46d046"/><circle cx="181.8" cy="128.9" r="0.60" fill="#5ae05a"/><circle cx="142.3" cy="128.0" r="0.96" fill="#5ae05a"/><circle cx="128.5" cy="98.6" r="0.96" fill="#2a9a2a"/><circle cx="189.1" cy="120.6" r="0.59" fill="#2a9a2a"/><circle cx="163.0" cy="99.9" r="0.72" fill="#2fae2f"/><circle cx="156.1" cy="102.3" r="0.42" fill="#3cc83c"/><circle cx="147.5" cy="90.9" r="0.58" fill="#2a9a2a"/><circle cx="161.5" cy="95.3" r="0.75" fill="#36b836"/><circle cx="142.4" cy="78.0" r="0.97" fill="#6ef06e"/><circle cx="141.6" cy="94.4" r="0.66" fill="#27a027"/><circle cx="189.9" cy="73.5" r="0.62" fill="#2fae2f"/><circle cx="160.7" cy="129.6" r="0.92" fill="#6ef06e"/><circle cx="208.5" cy="94.1" r="0.59" fill="#2a9a2a"/><circle cx="148.6" cy="71.5" r="0.73" fill="#2a9a2a"/><circle cx="192.3" cy="104.2" r="0.83" fill="#46d046"/><circle cx="135.8" cy="124.5" r="0.55" fill="#2fae2f"/><circle cx="187.9" cy="76.3" r="0.76" fill="#1f8a1f"/><circle cx="173.9" cy="129.6" r="0.49" fill="#6ef06e"/><circle cx="122.5" cy="105.1" r="0.50" fill="#5ae05a"/><circle cx="152.8" cy="134.2" r="0.83" fill="#5ae05a"/><circle cx="188.7" cy="133.7" r="0.63" fill="#6ef06e"/><circle cx="191.7" cy="122.8" r="0.88" fill="#1f8a1f"/><circle cx="137.9" cy="87.9" r="0.93" fill="#5ae05a"/><circle cx="174.7" cy="91.6" r="0.75" fill="#3cc83c"/><circle cx="166.5" cy="101.6" r="0.69" fill="#5ae05a"/><circle cx="136.1" cy="102.9" r="0.58" fill="#3cc83c"/><circle cx="147.2" cy="72.8" r="0.73" fill="#46d046"/><circle cx="198.2" cy="109.2" r="0.65" fill="#5ae05a"/><circle cx="179.8" cy="95.0" r="0.60" fill="#6ef06e"/><circle cx="142.0" cy="111.9" r="0.91" fill="#27a027"/><circle cx="151.9" cy="143.1" r="0.69" fill="#36b836"/><circle cx="211.2" cy="103.1" r="0.90" fill="#3cc83c"/><circle cx="143.8" cy="117.4" r="1.00" fill="#2a9a2a"/><circle cx="147.3" cy="132.5" r="0.58" fill="#46d046"/><circle cx="144.0" cy="113.4" r="0.76" fill="#27a027"/><circle cx="154.8" cy="88.9" r="0.81" fill="#1f8a1f"/><circle cx="142.4" cy="121.2" r="0.77" fill="#1f8a1f"/><circle cx="142.4" cy="125.0" r="0.67" fill="#1f8a1f"/><circle cx="177.0" cy="94.8" r="0.46" fill="#6ef06e"/><circle cx="198.1" cy="123.5" r="0.49" fill="#36b836"/><circle cx="169.8" cy="92.1" r="0.99" fill="#2fae2f"/><circle cx="167.1" cy="83.6" r="0.44" fill="#2fae2f"/><circle cx="204.3" cy="94.8" r="0.94" fill="#5ae05a"/><circle cx="187.0" cy="119.3" r="0.67" fill="#3cc83c"/><circle cx="139.6" cy="90.7" r="0.78" fill="#1f8a1f"/><circle cx="132.0" cy="90.5" r="0.65" fill="#2a9a2a"/><circle cx="134.2" cy="105.7" r="0.52" fill="#2fae2f"/><circle cx="172.7" cy="83.3" r="0.81" fill="#36b836"/><circle cx="160.4" cy="129.4" r="0.93" fill="#46d046"/><circle cx="187.1" cy="101.1" r="0.44" fill="#2a9a2a"/><circle cx="140.3" cy="87.2" r="0.54" fill="#5ae05a"/><circle cx="155.9" cy="144.6" r="0.78" fill="#46d046"/><circle cx="142.4" cy="95.2" r="0.95" fill="#36b836"/><circle cx="130.9" cy="96.6" r="0.97" fill="#27a027"/><circle cx="175.0" cy="134.2" r="0.93" fill="#6ef06e"/><circle cx="147.6" cy="99.1" r="0.77" fill="#2fae2f"/><circle cx="121.0" cy="104.5" r="0.41" fill="#1f8a1f"/><circle cx="190.0" cy="149.4" r="0.59" fill="#36b836"/><circle cx="169.3" cy="86.7" r="0.77" fill="#2fae2f"/><circle cx="183.6" cy="130.4" r="0.59" fill="#27a027"/><circle cx="189.2" cy="74.8" r="0.86" fill="#2a9a2a"/><circle cx="176.6" cy="84.0" r="0.81" fill="#36b836"/><circle cx="185.2" cy="127.5" r="0.85" fill="#2a9a2a"/><circle cx="133.2" cy="85.0" r="0.43" fill="#6ef06e"/><circle cx="148.5" cy="135.1" r="0.94" fill="#1f8a1f"/><circle cx="161.8" cy="83.5" r="0.57" fill="#2a9a2a"/><circle cx="147.7" cy="98.8" r="0.63" fill="#27a027"/><circle cx="146.0" cy="85.9" r="0.57" fill="#3cc83c"/><circle cx="148.4" cy="110.2" r="0.60" fill="#46d046"/><circle cx="146.1" cy="71.6" r="0.69" fill="#6ef06e"/><circle cx="134.2" cy="88.8" r="0.78" fill="#1f8a1f"/><circle cx="160.8" cy="86.4" r="0.69" fill="#5ae05a"/><circle cx="187.6" cy="73.7" r="0.95" fill="#5ae05a"/><circle cx="176.9" cy="145.8" r="0.53" fill="#27a027"/><circle cx="147.9" cy="109.0" r="0.68" fill="#1f8a1f"/><circle cx="173.3" cy="94.7" r="1.00" fill="#5ae05a"/><circle cx="134.7" cy="101.8" r="0.89" fill="#27a027"/><circle cx="210.3" cy="97.1" r="0.86" fill="#36b836"/><circle cx="148.5" cy="128.6" r="0.47" fill="#46d046"/><circle cx="136.6" cy="92.6" r="0.64" fill="#5ae05a"/><circle cx="165.3" cy="100.3" r="0.42" fill="#6ef06e"/><circle cx="132.0" cy="112.6" r="1.00" fill="#2a9a2a"/><circle cx="159.2" cy="134.2" r="0.93" fill="#2fae2f"/><circle cx="177.2" cy="130.3" r="0.42" fill="#36b836"/><circle cx="206.6" cy="100.7" r="0.76" fill="#6ef06e"/><circle cx="192.5" cy="120.2" r="0.40" fill="#1f8a1f"/><circle cx="158.9" cy="145.5" r="0.60" fill="#3cc83c"/><circle cx="135.2" cy="130.7" r="0.57" fill="#6ef06e"/><circle cx="151.4" cy="157.1" r="0.87" fill="#3cc83c"/><circle cx="153.5" cy="143.6" r="0.97" fill="#2a9a2a"/><circle cx="153.8" cy="147.9" r="0.75" fill="#1f8a1f"/><circle cx="147.1" cy="70.4" r="0.89" fill="#27a027"/><circle cx="152.3" cy="131.6" r="0.72" fill="#6ef06e"/><circle cx="198.5" cy="118.7" r="0.58" fill="#46d046"/><circle cx="126.6" cy="133.3" r="0.97" fill="#6ef06e"/><circle cx="152.8" cy="83.0" r="0.58" fill="#2a9a2a"/><circle cx="139.4" cy="111.2" r="0.89" fill="#2a9a2a"/><circle cx="191.7" cy="109.2" r="0.80" fill="#2fae2f"/><circle cx="192.1" cy="88.0" r="0.82" fill="#1f8a1f"/><circle cx="171.1" cy="130.1" r="0.46" fill="#2fae2f"/><circle cx="200.2" cy="119.5" r="0.76" fill="#36b836"/><circle cx="140.7" cy="97.5" r="0.57" fill="#2a9a2a"/><circle cx="172.6" cy="130.3" r="0.56" fill="#27a027"/><circle cx="209.1" cy="104.9" r="0.62" fill="#36b836"/><circle cx="178.0" cy="93.5" r="0.96" fill="#36b836"/><circle cx="175.7" cy="86.3" r="0.64" fill="#27a027"/><circle cx="212.2" cy="106.9" r="0.58" fill="#2fae2f"/><circle cx="193.9" cy="106.7" r="0.56" fill="#27a027"/><circle cx="162.8" cy="145.5" r="0.75" fill="#5ae05a"/><circle cx="149.0" cy="99.1" r="0.54" fill="#3cc83c"/><circle cx="197.1" cy="118.5" r="0.61" fill="#2fae2f"/><circle cx="167.4" cy="85.1" r="0.41" fill="#2fae2f"/><circle cx="210.2" cy="96.6" r="0.91" fill="#27a027"/><circle cx="142.5" cy="155.5" r="0.51" fill="#3cc83c"/><circle cx="157.4" cy="133.8" r="0.91" fill="#2fae2f"/><circle cx="185.2" cy="102.5" r="0.65" fill="#3cc83c"/><circle cx="186.6" cy="74.2" r="0.72" fill="#5ae05a"/><circle cx="145.1" cy="108.5" r="0.77" fill="#2a9a2a"/><circle cx="137.8" cy="84.3" r="0.46" fill="#6ef06e"/><circle cx="143.9" cy="102.9" r="0.77" fill="#1f8a1f"/><circle cx="196.0" cy="115.4" r="0.91" fill="#36b836"/><circle cx="200.1" cy="106.2" r="0.99" fill="#6ef06e"/><circle cx="194.2" cy="100.0" r="0.57" fill="#46d046"/><circle cx="124.8" cy="133.4" r="0.54" fill="#1f8a1f"/><circle cx="183.9" cy="111.0" r="0.95" fill="#6ef06e"/><circle cx="145.2" cy="104.0" r="0.97" fill="#3cc83c"/><circle cx="162.2" cy="102.2" r="0.93" fill="#27a027"/><circle cx="123.8" cy="100.9" r="0.65" fill="#27a027"/><circle cx="198.1" cy="110.2" r="0.93" fill="#2a9a2a"/><circle cx="149.6" cy="87.3" r="0.46" fill="#36b836"/><circle cx="165.7" cy="86.1" r="0.44" fill="#5ae05a"/><circle cx="147.9" cy="100.3" r="0.74" fill="#2a9a2a"/><circle cx="176.9" cy="95.1" r="0.47" fill="#5ae05a"/><circle cx="189.6" cy="140.3" r="0.88" fill="#27a027"/><circle cx="139.4" cy="120.6" r="0.74" fill="#36b836"/><circle cx="138.5" cy="126.9" r="0.93" fill="#36b836"/><circle cx="171.1" cy="128.4" r="0.53" fill="#46d046"/><circle cx="157.6" cy="135.5" r="0.40" fill="#46d046"/><circle cx="145.1" cy="80.8" r="0.63" fill="#3cc83c"/><circle cx="184.0" cy="85.8" r="0.46" fill="#1f8a1f"/><circle cx="179.4" cy="95.2" r="0.74" fill="#6ef06e"/><circle cx="142.0" cy="75.7" r="0.76" fill="#46d046"/><circle cx="145.4" cy="86.4" r="0.92" fill="#46d046"/><circle cx="164.9" cy="94.3" r="0.69" fill="#1f8a1f"/><circle cx="196.8" cy="102.7" r="0.98" fill="#27a027"/><circle cx="164.5" cy="142.2" r="0.92" fill="#36b836"/><circle cx="134.2" cy="90.1" r="0.71" fill="#6ef06e"/><circle cx="156.6" cy="101.1" r="0.62" fill="#2fae2f"/><circle cx="144.2" cy="85.3" r="0.53" fill="#27a027"/><circle cx="130.4" cy="136.3" r="0.43" fill="#6ef06e"/><circle cx="132.2" cy="93.7" r="0.86" fill="#6ef06e"/><circle cx="186.0" cy="115.6" r="0.70" fill="#46d046"/><circle cx="165.7" cy="132.8" r="0.65" fill="#2a9a2a"/><circle cx="146.7" cy="101.3" r="0.41" fill="#46d046"/><circle cx="182.3" cy="89.4" r="0.43" fill="#6ef06e"/><circle cx="124.8" cy="89.4" r="0.96" fill="#6ef06e"/><circle cx="142.5" cy="122.6" r="0.95" fill="#36b836"/><circle cx="162.9" cy="100.7" r="0.65" fill="#36b836"/><circle cx="163.1" cy="128.2" r="0.87" fill="#6ef06e"/><circle cx="143.8" cy="105.4" r="0.41" fill="#2fae2f"/><circle cx="194.1" cy="106.0" r="0.93" fill="#27a027"/><circle cx="156.0" cy="102.7" r="0.86" fill="#36b836"/><circle cx="120.3" cy="99.7" r="0.50" fill="#1f8a1f"/><circle cx="206.7" cy="98.9" r="0.69" fill="#3cc83c"/><circle cx="170.7" cy="145.1" r="0.82" fill="#1f8a1f"/><circle cx="164.8" cy="144.8" r="0.96" fill="#3cc83c"/><circle cx="159.1" cy="94.0" r="0.83" fill="#3cc83c"/><circle cx="183.7" cy="131.7" r="0.85" fill="#36b836"/><circle cx="147.1" cy="114.0" r="0.73" fill="#36b836"/><circle cx="163.2" cy="93.2" r="0.57" fill="#2a9a2a"/><circle cx="171.1" cy="146.0" r="0.76" fill="#5ae05a"/><circle cx="190.4" cy="114.7" r="0.63" fill="#3cc83c"/><circle cx="141.9" cy="90.5" r="0.51" fill="#2a9a2a"/><circle cx="144.2" cy="71.6" r="1.00" fill="#46d046"/><circle cx="143.2" cy="104.6" r="0.71" fill="#27a027"/><circle cx="140.3" cy="97.4" r="0.52" fill="#36b836"/><circle cx="179.0" cy="148.6" r="0.42" fill="#6ef06e"/><circle cx="165.6" cy="128.8" r="0.76" fill="#27a027"/><circle cx="146.0" cy="74.5" r="0.48" fill="#5ae05a"/><circle cx="152.7" cy="135.9" r="0.96" fill="#1f8a1f"/><circle cx="155.2" cy="88.5" r="1.00" fill="#27a027"/><circle cx="182.6" cy="128.1" r="0.68" fill="#3cc83c"/><circle cx="194.4" cy="150.0" r="0.42" fill="#2fae2f"/><circle cx="190.6" cy="107.5" r="0.55" fill="#6ef06e"/><circle cx="204.5" cy="102.9" r="0.88" fill="#6ef06e"/><g filter="url(#bl05)"><rect x="150" y="64" width="31" height="18.5" rx="6" fill="#020402"/><rect x="151" y="104" width="32" height="23" rx="8" fill="#020402"/><rect x="112" y="106" width="18" height="19.5" rx="6" fill="#020402"/><rect x="201" y="107.5" width="19" height="19.0" rx="6" fill="#020402"/><rect x="152" y="149.4" width="31" height="18.599999999999994" rx="6" fill="#020402"/></g><circle cx="166" cy="114" r="46.6" fill="none" stroke="#0a1a0a" stroke-width="0.9"/></g><path d="M316,122 Q342,118 353,104 L356,99.5 L364.5,99.5 L367,104 Q380,118 401.5,122 Q397,150 360,160.5 Q322,151 316,122 Z" fill="url(#fan)" stroke="#b5b0a8" stroke-width="0.7"/><path d="M316,122 L401.5,122" stroke="#cfcac2" stroke-width="0.5"/><path d="M361,119 Q344.6,124.2 331.4,129.3" stroke="#bf3a2c" stroke-width="2.0" fill="none"/><path d="M346.2,124.2 L331.9,127.7" stroke="#c4453a" stroke-width="1.2" fill="none"/><path d="M361,119 Q351.6,123.3 341,127.6" stroke="#bf3a2c" stroke-width="2.0" fill="none"/><path d="M351.0,123.3 L342.5,122.4" stroke="#c4453a" stroke-width="1.2" fill="none"/><path d="M361,119 Q352.4,124.4 349.6,129.8" stroke="#bf3a2c" stroke-width="2.0" fill="none"/><path d="M355.3,124.4 L353.6,126.9" stroke="#c4453a" stroke-width="1.2" fill="none"/><path d="M361,119 Q346.9,129.3 336,139.7" stroke="#bf3a2c" stroke-width="2.0" fill="none"/><path d="M348.5,129.3 L341.9,139.3" stroke="#c4453a" stroke-width="1.2" fill="none"/><path d="M361,119 Q358.0,129.3 350.9,139.7" stroke="#bf3a2c" stroke-width="2.0" fill="none"/><path d="M355.9,129.3 L350.6,141.4" stroke="#c4453a" stroke-width="1.2" fill="none"/><path d="M361,119 Q351.6,133.9 346.3,148.8" stroke="#bf3a2c" stroke-width="2.0" fill="none"/><path d="M353.6,133.9 L347.9,153.2" stroke="#c4453a" stroke-width="1.2" fill="none"/><path d="M361,119 Q360.6,134.2 360,149.5" stroke="#bf3a2c" stroke-width="2.0" fill="none"/><path d="M360.5,134.2 L362.9,151.6" stroke="#c4453a" stroke-width="1.2" fill="none"/><path d="M361,119 Q362.6,133.5 369.5,148" stroke="#bf3a2c" stroke-width="2.0" fill="none"/><path d="M365.2,133.5 L372.6,149.1" stroke="#c4453a" stroke-width="1.2" fill="none"/><path d="M361,119 Q364.5,122.2 370.3,125.4" stroke="#bf3a2c" stroke-width="2.0" fill="none"/><path d="M365.6,122.2 L364.7,129.8" stroke="#c4453a" stroke-width="1.2" fill="none"/><path d="M361,119 Q370.0,125.2 379.4,131.3" stroke="#bf3a2c" stroke-width="2.0" fill="none"/><path d="M370.2,125.2 L382.0,135.8" stroke="#c4453a" stroke-width="1.2" fill="none"/><path d="M361,119 Q366.9,128.7 370.3,138.4" stroke="#bf3a2c" stroke-width="2.0" fill="none"/><path d="M365.6,128.7 L375.4,137.1" stroke="#c4453a" stroke-width="1.2" fill="none"/><path d="M361,119 Q361.8,128.5 359,138" stroke="#bf3a2c" stroke-width="2.0" fill="none"/><path d="M360.0,128.5 L358.3,143.2" stroke="#c4453a" stroke-width="1.2" fill="none"/><path d="M361,119 Q374.8,130.0 384,141" stroke="#bf3a2c" stroke-width="2.0" fill="none"/><path d="M372.5,130.0 L379.2,136.6" stroke="#c4453a" stroke-width="1.2" fill="none"/><path d="M361,120 L334.5,140.7" stroke="#e0a040" stroke-width="0.6" fill="none" opacity="0.8"/><path d="M361,120 L384.8,139.8" stroke="#e0a040" stroke-width="0.6" fill="none" opacity="0.8"/><path d="M361,120 L372.3,125.8" stroke="#e0a040" stroke-width="0.6" fill="none" opacity="0.8"/><path d="M361,120 L370.8,125.9" stroke="#e0a040" stroke-width="0.6" fill="none" opacity="0.8"/><path d="M361,120 L347.4,151.4" stroke="#e0a040" stroke-width="0.6" fill="none" opacity="0.8"/><path d="M361,120 L353.8,140.7" stroke="#e0a040" stroke-width="0.6" fill="none" opacity="0.8"/><path d="M361,120 L350.8,128.8" stroke="#e0a040" stroke-width="0.6" fill="none" opacity="0.8"/><path d="M361,120 L372.7,125.8" stroke="#e0a040" stroke-width="0.6" fill="none" opacity="0.8"/><path d="M361,120 L359.9,138.8" stroke="#e0a040" stroke-width="0.6" fill="none" opacity="0.8"/><path d="M361,120 L378.0,129.0" stroke="#e0a040" stroke-width="0.6" fill="none" opacity="0.8"/><path d="M336.1,129.3 L335.3,132.2 L332.8,133.7 L330.0,133.5 L328.1,131.7 L326.2,129.3 L328.2,126.9 L330.0,124.9 L332.8,125.0 L334.8,126.9 Z" fill="#84485f" stroke="#bd372c" stroke-width="1.4" stroke-linejoin="round"/><circle cx="331.7" cy="130.1" r="2.3" fill="#6c5274" opacity="0.6"/><path d="M344.8,127.6 L344.3,130.0 L342.2,131.4 L339.6,131.8 L338.0,129.8 L337.4,127.6 L338.2,125.6 L340.0,124.4 L342.1,124.3 L344.2,125.2 Z" fill="#84485f" stroke="#bd372c" stroke-width="1.4" stroke-linejoin="round"/><circle cx="342.3" cy="129.0" r="2.0" fill="#6c5274" opacity="0.6"/><path d="M353.2,129.8 L352.5,131.9 L350.9,133.7 L348.2,134.0 L346.6,132.0 L345.9,129.8 L346.8,127.8 L348.3,125.7 L350.8,126.3 L353.1,127.3 Z" fill="#84485f" stroke="#bd372c" stroke-width="1.4" stroke-linejoin="round"/><circle cx="349.3" cy="130.9" r="1.9" fill="#6c5274" opacity="0.6"/><path d="M340.7,139.7 L339.2,142.0 L337.6,144.6 L334.5,144.4 L332.6,142.2 L331.3,139.7 L332.1,136.9 L334.4,134.9 L337.4,135.5 L339.4,137.2 Z" fill="#84485f" stroke="#bd372c" stroke-width="1.4" stroke-linejoin="round"/><circle cx="335.4" cy="139.2" r="2.2" fill="#6c5274" opacity="0.6"/><path d="M355.3,139.7 L354.7,142.4 L352.1,143.3 L349.7,143.4 L347.5,142.1 L347.3,139.7 L347.5,137.2 L349.7,136.0 L352.1,136.0 L354.6,137.0 Z" fill="#84485f" stroke="#bd372c" stroke-width="1.4" stroke-linejoin="round"/><circle cx="351.2" cy="139.0" r="2.0" fill="#6c5274" opacity="0.6"/><path d="M350.8,148.8 L350.0,151.5 L347.9,153.7 L345.1,152.5 L342.8,151.3 L341.6,148.8 L342.9,146.3 L344.9,144.4 L347.6,144.9 L349.6,146.4 Z" fill="#84485f" stroke="#bd372c" stroke-width="1.4" stroke-linejoin="round"/><circle cx="347.1" cy="149.8" r="2.2" fill="#6c5274" opacity="0.6"/><path d="M364.2,149.5 L364.0,152.4 L361.2,153.3 L358.5,154.2 L355.8,152.5 L355.3,149.5 L356.8,147.1 L358.6,145.2 L361.5,145.0 L363.4,147.0 Z" fill="#84485f" stroke="#bd372c" stroke-width="1.4" stroke-linejoin="round"/><circle cx="359.5" cy="150.0" r="2.2" fill="#6c5274" opacity="0.6"/><path d="M374.0,148.0 L372.6,150.2 L370.9,152.2 L368.0,152.7 L365.8,150.7 L365.5,148.0 L365.7,145.2 L368.0,143.3 L370.7,144.4 L373.2,145.3 Z" fill="#84485f" stroke="#bd372c" stroke-width="1.4" stroke-linejoin="round"/><circle cx="368.7" cy="148.2" r="2.2" fill="#6c5274" opacity="0.6"/><path d="M374.8,125.4 L374.6,128.5 L371.6,129.4 L368.6,130.7 L366.6,128.1 L364.9,125.4 L366.3,122.5 L368.6,120.3 L371.7,121.0 L374.6,122.3 Z" fill="#84485f" stroke="#bd372c" stroke-width="1.4" stroke-linejoin="round"/><circle cx="369.1" cy="125.8" r="2.4" fill="#6c5274" opacity="0.6"/><path d="M383.5,131.3 L382.5,133.6 L380.6,135.1 L378.0,135.5 L376.2,133.6 L375.3,131.3 L376.4,129.1 L378.2,127.5 L380.5,128.1 L382.5,129.0 Z" fill="#84485f" stroke="#bd372c" stroke-width="1.4" stroke-linejoin="round"/><circle cx="378.5" cy="131.2" r="2.0" fill="#6c5274" opacity="0.6"/><path d="M374.7,138.4 L373.6,140.8 L371.5,142.2 L369.1,142.2 L366.6,141.1 L366.1,138.4 L367.5,136.4 L369.1,134.7 L371.6,134.3 L373.7,135.9 Z" fill="#84485f" stroke="#bd372c" stroke-width="1.4" stroke-linejoin="round"/><circle cx="371.7" cy="138.5" r="2.0" fill="#6c5274" opacity="0.6"/><path d="M363.0,138.0 L362.2,140.3 L360.2,141.8 L357.7,141.9 L356.4,139.9 L355.7,138.0 L356.5,136.2 L357.8,134.3 L360.1,134.6 L361.6,136.1 Z" fill="#84485f" stroke="#bd372c" stroke-width="1.4" stroke-linejoin="round"/><circle cx="360.2" cy="137.8" r="1.8" fill="#6c5274" opacity="0.6"/><path d="M387.0,141.0 L386.8,143.0 L384.9,143.9 L382.9,144.3 L381.4,142.9 L381.1,141.0 L381.2,139.0 L383.1,138.2 L385.2,137.3 L386.4,139.2 Z" fill="#84485f" stroke="#bd372c" stroke-width="1.4" stroke-linejoin="round"/><circle cx="382.9" cy="142.4" r="1.7" fill="#6c5274" opacity="0.6"/><circle cx="389.7" cy="129.5" r="5.8" fill="#c4a2aa" stroke="#c05050" stroke-width="0.9"/><path d="M358,100 L358,120 M364,100 L364,120" stroke="#c83a2e" stroke-width="1.6" fill="none"/><path d="M361,100 L361,121" stroke="#4a62a8" stroke-width="2" fill="none"/><rect x="374.7" y="136.7" width="8.8" height="11.7" fill="#dcc8c8" stroke="#8a8080" stroke-width="0.5"/><path d="M383.5,136.7 L403.9,67.4 M383.5,148.4 L451.5,126.1" stroke="#333" stroke-width="0.8" fill="none"/><clipPath id="sac2"><path d="M418.5,84.5 Q414,90 411.5,100 Q409,110 410,117 Q412,123 420,123.5 Q428,124.5 436,123.5 Q444,123 445,117 Q446,110 443.5,100 Q441,90 436.5,84.5 Z"/></clipPath><rect x="404.3" y="67.8" width="46.8" height="57.6" fill="#fbfbfa" stroke="#3a3a3a" stroke-width="0.9"/><path d="M420.3,68 L420.3,80 Q420,84 418,87 M434.3,68 L434.3,80 Q434.6,84 436.6,87" stroke="#d2402e" stroke-width="3.8" fill="none"/><path d="M418.5,84.5 Q414,90 411.5,100 Q409,110 410,117 Q412,123 420,123.5 Q428,124.5 436,123.5 Q444,123 445,117 Q446,110 443.5,100 Q441,90 436.5,84.5 Z" fill="#d34232"/><g clip-path="url(#sac2)"><path d="M427.3,91 Q435,99 438.5,111 Q439,118.5 427.3,119.5 Q416,118.5 416.5,111 Q419.5,99 427.3,91 Z" fill="#6c6aa9"/><ellipse cx="443.2" cy="103.7" rx="1.4" ry="0.9" fill="#f8eee8" transform="rotate(33 443.2 103.7)"/><ellipse cx="438.3" cy="89.6" rx="1.2" ry="0.7" fill="#f8eee8" transform="rotate(146 438.3 89.6)"/><ellipse cx="434.7" cy="87.6" rx="1.7" ry="1.1" fill="#f8eee8" transform="rotate(118 434.7 87.6)"/><ellipse cx="431.8" cy="92.0" rx="1.0" ry="0.9" fill="#f8eee8" transform="rotate(11 431.8 92.0)"/><ellipse cx="416.0" cy="95.2" rx="1.0" ry="0.9" fill="#f8eee8" transform="rotate(79 416.0 95.2)"/><ellipse cx="440.2" cy="105.7" rx="1.4" ry="0.9" fill="#f8eee8" transform="rotate(119 440.2 105.7)"/><ellipse cx="445.9" cy="123.8" rx="1.6" ry="1.0" fill="#f8eee8" transform="rotate(57 445.9 123.8)"/><ellipse cx="417.5" cy="97.0" rx="1.0" ry="1.0" fill="#f8eee8" transform="rotate(72 417.5 97.0)"/><ellipse cx="440.3" cy="100.7" rx="1.7" ry="1.0" fill="#f8eee8" transform="rotate(0 440.3 100.7)"/><ellipse cx="416.8" cy="120.6" rx="1.3" ry="1.1" fill="#f8eee8" transform="rotate(72 416.8 120.6)"/><ellipse cx="411.7" cy="109.9" rx="1.5" ry="0.8" fill="#f8eee8" transform="rotate(16 411.7 109.9)"/><ellipse cx="421.3" cy="122.6" rx="1.5" ry="0.7" fill="#f8eee8" transform="rotate(44 421.3 122.6)"/><ellipse cx="412.7" cy="88.3" rx="1.6" ry="0.8" fill="#f8eee8" transform="rotate(101 412.7 88.3)"/><ellipse cx="436.1" cy="91.0" rx="1.5" ry="0.7" fill="#f8eee8" transform="rotate(76 436.1 91.0)"/><ellipse cx="416.9" cy="96.3" rx="1.7" ry="1.0" fill="#f8eee8" transform="rotate(55 416.9 96.3)"/><ellipse cx="441.7" cy="94.0" rx="1.3" ry="1.0" fill="#f8eee8" transform="rotate(116 441.7 94.0)"/><ellipse cx="412.7" cy="123.6" rx="1.1" ry="0.8" fill="#f8eee8" transform="rotate(139 412.7 123.6)"/><ellipse cx="421.2" cy="97.3" rx="1.1" ry="0.7" fill="#f8eee8" transform="rotate(105 421.2 97.3)"/><ellipse cx="444.5" cy="104.4" rx="1.4" ry="1.0" fill="#f8eee8" transform="rotate(33 444.5 104.4)"/><ellipse cx="414.7" cy="120.5" rx="1.6" ry="0.8" fill="#f8eee8" transform="rotate(34 414.7 120.5)"/><ellipse cx="436.4" cy="121.7" rx="1.1" ry="1.1" fill="#f8eee8" transform="rotate(159 436.4 121.7)"/><ellipse cx="412.8" cy="87.5" rx="1.7" ry="0.8" fill="#f8eee8" transform="rotate(127 412.8 87.5)"/><ellipse cx="415.5" cy="113.4" rx="1.0" ry="0.8" fill="#f8eee8" transform="rotate(101 415.5 113.4)"/><ellipse cx="440.5" cy="109.3" rx="1.2" ry="1.1" fill="#f8eee8" transform="rotate(37 440.5 109.3)"/><ellipse cx="409.6" cy="96.2" rx="1.3" ry="0.7" fill="#f8eee8" transform="rotate(32 409.6 96.2)"/><ellipse cx="413.9" cy="99.8" rx="1.6" ry="1.1" fill="#f8eee8" transform="rotate(118 413.9 99.8)"/><ellipse cx="414.2" cy="87.3" rx="1.0" ry="1.1" fill="#f8eee8" transform="rotate(126 414.2 87.3)"/><ellipse cx="444.6" cy="86.8" rx="1.4" ry="0.9" fill="#f8eee8" transform="rotate(131 444.6 86.8)"/><ellipse cx="420.8" cy="124.0" rx="1.1" ry="0.9" fill="#f8eee8" transform="rotate(133 420.8 124.0)"/><ellipse cx="442.3" cy="114.0" rx="1.5" ry="1.0" fill="#f8eee8" transform="rotate(165 442.3 114.0)"/><ellipse cx="442.3" cy="119.1" rx="1.3" ry="1.0" fill="#f8eee8" transform="rotate(155 442.3 119.1)"/><ellipse cx="431.5" cy="89.0" rx="1.4" ry="1.1" fill="#f8eee8" transform="rotate(158 431.5 89.0)"/><ellipse cx="435.9" cy="100.8" rx="1.5" ry="0.9" fill="#f8eee8" transform="rotate(79 435.9 100.8)"/><ellipse cx="440.0" cy="89.2" rx="1.5" ry="0.7" fill="#f8eee8" transform="rotate(108 440.0 89.2)"/><ellipse cx="431.7" cy="121.0" rx="1.2" ry="0.7" fill="#f8eee8" transform="rotate(54 431.7 121.0)"/><ellipse cx="434.1" cy="93.7" rx="1.1" ry="1.1" fill="#f8eee8" transform="rotate(119 434.1 93.7)"/><ellipse cx="425.4" cy="119.9" rx="1.2" ry="1.0" fill="#f8eee8" transform="rotate(36 425.4 119.9)"/><ellipse cx="442.8" cy="119.5" rx="1.3" ry="0.9" fill="#f8eee8" transform="rotate(57 442.8 119.5)"/><ellipse cx="414.0" cy="104.9" rx="1.6" ry="1.0" fill="#f8eee8" transform="rotate(128 414.0 104.9)"/><ellipse cx="444.2" cy="96.5" rx="1.1" ry="0.9" fill="#f8eee8" transform="rotate(50 444.2 96.5)"/><ellipse cx="416.9" cy="101.7" rx="1.4" ry="0.9" fill="#f8eee8" transform="rotate(57 416.9 101.7)"/><ellipse cx="440.0" cy="123.3" rx="1.3" ry="0.7" fill="#f8eee8" transform="rotate(6 440.0 123.3)"/><ellipse cx="441.3" cy="87.6" rx="1.5" ry="0.9" fill="#f8eee8" transform="rotate(56 441.3 87.6)"/><ellipse cx="438.3" cy="86.7" rx="1.1" ry="0.9" fill="#f8eee8" transform="rotate(4 438.3 86.7)"/><ellipse cx="439.7" cy="95.0" rx="1.1" ry="0.7" fill="#f8eee8" transform="rotate(113 439.7 95.0)"/><ellipse cx="444.5" cy="112.0" rx="1.1" ry="0.9" fill="#f8eee8" transform="rotate(32 444.5 112.0)"/><ellipse cx="409.4" cy="103.9" rx="1.5" ry="0.8" fill="#f8eee8" transform="rotate(49 409.4 103.9)"/><ellipse cx="437.0" cy="101.0" rx="1.6" ry="1.1" fill="#f8eee8" transform="rotate(16 437.0 101.0)"/><ellipse cx="443.5" cy="113.5" rx="1.1" ry="0.9" fill="#f8eee8" transform="rotate(113 443.5 113.5)"/><ellipse cx="442.7" cy="100.3" rx="1.4" ry="1.1" fill="#f8eee8" transform="rotate(143 442.7 100.3)"/><ellipse cx="443.9" cy="103.6" rx="1.5" ry="0.8" fill="#f8eee8" transform="rotate(130 443.9 103.6)"/><ellipse cx="439.3" cy="110.4" rx="1.5" ry="0.8" fill="#f8eee8" transform="rotate(162 439.3 110.4)"/><ellipse cx="445.3" cy="123.1" rx="1.4" ry="1.0" fill="#f8eee8" transform="rotate(58 445.3 123.1)"/><ellipse cx="442.7" cy="118.5" rx="1.2" ry="0.7" fill="#f8eee8" transform="rotate(79 442.7 118.5)"/><ellipse cx="427.0" cy="87.1" rx="1.6" ry="0.7" fill="#f8eee8" transform="rotate(144 427.0 87.1)"/><ellipse cx="415.4" cy="98.7" rx="1.6" ry="0.8" fill="#f8eee8" transform="rotate(27 415.4 98.7)"/><ellipse cx="440.1" cy="112.2" rx="1.7" ry="0.9" fill="#f8eee8" transform="rotate(171 440.1 112.2)"/><ellipse cx="412.2" cy="94.4" rx="1.4" ry="0.8" fill="#f8eee8" transform="rotate(131 412.2 94.4)"/><ellipse cx="440.2" cy="107.3" rx="1.2" ry="0.9" fill="#f8eee8" transform="rotate(152 440.2 107.3)"/><ellipse cx="442.3" cy="93.9" rx="1.6" ry="1.1" fill="#f8eee8" transform="rotate(94 442.3 93.9)"/><ellipse cx="431.4" cy="87.1" rx="1.7" ry="0.9" fill="#f8eee8" transform="rotate(72 431.4 87.1)"/><ellipse cx="438.6" cy="107.4" rx="1.3" ry="1.0" fill="#f8eee8" transform="rotate(12 438.6 107.4)"/><ellipse cx="444.4" cy="121.1" rx="1.2" ry="0.9" fill="#f8eee8" transform="rotate(23 444.4 121.1)"/><ellipse cx="442.3" cy="104.1" rx="1.2" ry="0.8" fill="#f8eee8" transform="rotate(111 442.3 104.1)"/><ellipse cx="443.2" cy="90.9" rx="1.5" ry="0.7" fill="#f8eee8" transform="rotate(35 443.2 90.9)"/><ellipse cx="420.9" cy="99.5" rx="1.4" ry="0.7" fill="#f8eee8" transform="rotate(132 420.9 99.5)"/><ellipse cx="413.5" cy="105.4" rx="1.2" ry="0.8" fill="#f8eee8" transform="rotate(95 413.5 105.4)"/><ellipse cx="414.9" cy="93.8" rx="1.4" ry="1.0" fill="#f8eee8" transform="rotate(95 414.9 93.8)"/><ellipse cx="440.5" cy="109.2" rx="1.6" ry="0.8" fill="#f8eee8" transform="rotate(133 440.5 109.2)"/><ellipse cx="439.0" cy="120.3" rx="1.2" ry="0.8" fill="#f8eee8" transform="rotate(166 439.0 120.3)"/><ellipse cx="417.1" cy="123.9" rx="1.6" ry="0.8" fill="#f8eee8" transform="rotate(43 417.1 123.9)"/><ellipse cx="435.9" cy="95.9" rx="1.1" ry="1.0" fill="#f8eee8" transform="rotate(76 435.9 95.9)"/><ellipse cx="438.2" cy="90.8" rx="1.3" ry="1.0" fill="#f8eee8" transform="rotate(3 438.2 90.8)"/><ellipse cx="442.7" cy="122.8" rx="1.1" ry="0.9" fill="#f8eee8" transform="rotate(136 442.7 122.8)"/><ellipse cx="416.0" cy="88.7" rx="1.1" ry="0.7" fill="#f8eee8" transform="rotate(99 416.0 88.7)"/><path d="M427.8,108.1 l-2.1,-1.9" stroke="#c84848" stroke-width="0.9" opacity="0.75"/><path d="M421.9,114.3 l2.9,2.6" stroke="#c84848" stroke-width="0.9" opacity="0.75"/><path d="M419.8,96.4 l2.7,-0.2" stroke="#c84848" stroke-width="0.9" opacity="0.75"/><path d="M432.5,102.5 l-0.2,0.1" stroke="#c84848" stroke-width="0.9" opacity="0.75"/><path d="M426.2,108.8 l-2.9,1.2" stroke="#c84848" stroke-width="0.9" opacity="0.75"/><path d="M434.0,99.2 l-0.3,1.4" stroke="#c84848" stroke-width="0.9" opacity="0.75"/><path d="M425.7,99.5 l-2.0,0.1" stroke="#c84848" stroke-width="0.9" opacity="0.75"/><path d="M418.3,115.5 l1.8,1.2" stroke="#c84848" stroke-width="0.9" opacity="0.75"/><path d="M434.4,109.5 l-0.6,0.6" stroke="#c84848" stroke-width="0.9" opacity="0.75"/><path d="M427.6,117.6 l1.8,-1.5" stroke="#c84848" stroke-width="0.9" opacity="0.75"/><path d="M435.3,112.1 l1.7,1.9" stroke="#c84848" stroke-width="0.9" opacity="0.75"/><path d="M425.7,115.6 l2.3,1.2" stroke="#c84848" stroke-width="0.9" opacity="0.75"/><path d="M432.6,112.6 l-0.6,1.3" stroke="#c84848" stroke-width="0.9" opacity="0.75"/><path d="M419.3,102.9 l-0.2,-2.9" stroke="#c84848" stroke-width="0.9" opacity="0.75"/><path d="M424.8,109.7 l0.7,-1.6" stroke="#c84848" stroke-width="0.9" opacity="0.75"/><path d="M435.9,110.3 l-1.0,1.0" stroke="#c84848" stroke-width="0.9" opacity="0.75"/><path d="M428.8,107.3 l-0.7,3.0" stroke="#c84848" stroke-width="0.9" opacity="0.75"/><path d="M430.2,111.1 l1.6,2.9" stroke="#c84848" stroke-width="0.9" opacity="0.75"/><path d="M418.4,109.2 l1.4,-1.5" stroke="#c84848" stroke-width="0.9" opacity="0.75"/><path d="M425.6,96.2 l-1.8,-0.7" stroke="#c84848" stroke-width="0.9" opacity="0.75"/><path d="M419.9,100.8 l2.4,0.3" stroke="#c84848" stroke-width="0.9" opacity="0.75"/><path d="M427.6,117.2 l0.4,3.0" stroke="#c84848" stroke-width="0.9" opacity="0.75"/><path d="M430.1,113.6 l-2.5,0.6" stroke="#c84848" stroke-width="0.9" opacity="0.75"/><path d="M432.4,96.0 l2.6,-2.0" stroke="#c84848" stroke-width="0.9" opacity="0.75"/><path d="M427.0,98.9 l-0.0,0.7" stroke="#c84848" stroke-width="0.9" opacity="0.75"/><path d="M419.1,116.7 l-0.5,0.2" stroke="#c84848" stroke-width="0.9" opacity="0.75"/><path d="M429.4,103.4 l-1.3,0.9" stroke="#c84848" stroke-width="0.9" opacity="0.75"/><path d="M428.7,101.5 l1.3,-1.2" stroke="#c84848" stroke-width="0.9" opacity="0.75"/><path d="M418.3,100.6 l-2.7,-2.1" stroke="#c84848" stroke-width="0.9" opacity="0.75"/><path d="M432.3,104.0 l2.4,1.5" stroke="#c84848" stroke-width="0.9" opacity="0.75"/><ellipse cx="421.7" cy="115.8" rx="1.1" ry="0.8" fill="#efe4ea" opacity="0.8"/><ellipse cx="433.3" cy="102.1" rx="1.1" ry="0.8" fill="#efe4ea" opacity="0.8"/><ellipse cx="432.8" cy="107.4" rx="1.1" ry="0.8" fill="#efe4ea" opacity="0.8"/><ellipse cx="427.2" cy="115.6" rx="1.1" ry="0.8" fill="#efe4ea" opacity="0.8"/><ellipse cx="424.2" cy="108.9" rx="1.1" ry="0.8" fill="#efe4ea" opacity="0.8"/><ellipse cx="433.2" cy="111.8" rx="1.1" ry="0.8" fill="#efe4ea" opacity="0.8"/></g><path d="M427.3,68 L427.3,96" stroke="#4862ae" stroke-width="4.2"/><clipPath id="bsil"><path d="M551,98 Q552,89 563,85 Q578,79 594,78 Q610,79 625,85 Q636,89 637,98 L638,108 L636.5,113 L638,123 L636.5,129 L637.5,141 Q636,151 627,155 Q611,158.5 594,158.5 Q577,158.5 561,155 Q552,151 551,141 L552.5,129 L550.5,123 L552.5,113 L550.5,108 Z"/></clipPath><g clip-path="url(#bd)"><rect x="541.8" y="72.6" width="101" height="89" fill="url(#bbg)"/><g filter="url(#bl05)"><path d="M551,98 Q552,89 563,85 Q578,79 594,78 Q610,79 625,85 Q636,89 637,98 L638,108 L636.5,113 L638,123 L636.5,129 L637.5,141 Q636,151 627,155 Q611,158.5 594,158.5 Q577,158.5 561,155 Q552,151 551,141 L552.5,129 L550.5,123 L552.5,113 L550.5,108 Z" fill="url(#bband)"/><path d="M551,98 Q552,89 563,85 Q578,79 594,78 Q610,79 625,85 Q636,89 637,98 L638,108 L636.5,113 L638,123 L636.5,129 L637.5,141 Q636,151 627,155 Q611,158.5 594,158.5 Q577,158.5 561,155 Q552,151 551,141 L552.5,129 L550.5,123 L552.5,113 L550.5,108 Z" fill="url(#bside)"/><g clip-path="url(#bsil)"><circle cx="553.0" cy="85.9" r="3.6" fill="none" stroke="#865868" stroke-width="1.0" opacity="0.22"/><circle cx="551.9" cy="84.6" r="1.4" fill="#fefcfc" opacity="0.6"/><circle cx="559.6" cy="84.1" r="3.6" fill="none" stroke="#865868" stroke-width="1.0" opacity="0.28"/><circle cx="558.5" cy="82.8" r="1.4" fill="#fefcfc" opacity="0.6"/><circle cx="566.2" cy="82.7" r="3.6" fill="none" stroke="#865868" stroke-width="1.0" opacity="0.33"/><circle cx="565.1" cy="81.4" r="1.4" fill="#fefcfc" opacity="0.6"/><circle cx="572.8" cy="81.6" r="3.6" fill="none" stroke="#865868" stroke-width="1.0" opacity="0.38"/><circle cx="571.7" cy="80.3" r="1.4" fill="#fefcfc" opacity="0.6"/><circle cx="579.4" cy="80.8" r="3.6" fill="none" stroke="#865868" stroke-width="1.0" opacity="0.43"/><circle cx="578.3" cy="79.5" r="1.4" fill="#fefcfc" opacity="0.6"/><circle cx="586.0" cy="80.2" r="3.6" fill="none" stroke="#865868" stroke-width="1.0" opacity="0.48"/><circle cx="584.9" cy="78.9" r="1.4" fill="#fefcfc" opacity="0.6"/><circle cx="592.6" cy="80.0" r="3.6" fill="none" stroke="#865868" stroke-width="1.0" opacity="0.54"/><circle cx="591.5" cy="78.7" r="1.4" fill="#fefcfc" opacity="0.6"/><circle cx="599.2" cy="80.1" r="3.6" fill="none" stroke="#865868" stroke-width="1.0" opacity="0.51"/><circle cx="598.1" cy="78.8" r="1.4" fill="#fefcfc" opacity="0.6"/><circle cx="605.8" cy="80.4" r="3.6" fill="none" stroke="#865868" stroke-width="1.0" opacity="0.46"/><circle cx="604.7" cy="79.1" r="1.4" fill="#fefcfc" opacity="0.6"/><circle cx="612.4" cy="81.1" r="3.6" fill="none" stroke="#865868" stroke-width="1.0" opacity="0.41"/><circle cx="611.3" cy="79.8" r="1.4" fill="#fefcfc" opacity="0.6"/><circle cx="619.0" cy="82.0" r="3.6" fill="none" stroke="#865868" stroke-width="1.0" opacity="0.36"/><circle cx="617.9" cy="80.7" r="1.4" fill="#fefcfc" opacity="0.6"/><circle cx="625.6" cy="83.3" r="3.6" fill="none" stroke="#865868" stroke-width="1.0" opacity="0.31"/><circle cx="624.5" cy="82.0" r="1.4" fill="#fefcfc" opacity="0.6"/><circle cx="632.2" cy="84.8" r="3.6" fill="none" stroke="#865868" stroke-width="1.0" opacity="0.25"/><circle cx="631.1" cy="83.5" r="1.4" fill="#fefcfc" opacity="0.6"/><circle cx="556.3" cy="91.3" r="3.6" fill="none" stroke="#865868" stroke-width="1.0" opacity="0.25"/><circle cx="555.2" cy="90.0" r="1.4" fill="#fefcfc" opacity="0.6"/><circle cx="562.9" cy="89.7" r="3.6" fill="none" stroke="#865868" stroke-width="1.0" opacity="0.30"/><circle cx="561.8" cy="88.4" r="1.4" fill="#fefcfc" opacity="0.6"/><circle cx="569.5" cy="88.4" r="3.6" fill="none" stroke="#865868" stroke-width="1.0" opacity="0.35"/><circle cx="568.4" cy="87.1" r="1.4" fill="#fefcfc" opacity="0.6"/><circle cx="576.1" cy="87.5" r="3.6" fill="none" stroke="#865868" stroke-width="1.0" opacity="0.41"/><circle cx="575.0" cy="86.2" r="1.4" fill="#fefcfc" opacity="0.6"/><circle cx="582.7" cy="86.8" r="3.6" fill="none" stroke="#865868" stroke-width="1.0" opacity="0.46"/><circle cx="581.6" cy="85.5" r="1.4" fill="#fefcfc" opacity="0.6"/><circle cx="589.3" cy="86.4" r="3.6" fill="none" stroke="#865868" stroke-width="1.0" opacity="0.51"/><circle cx="588.2" cy="85.1" r="1.4" fill="#fefcfc" opacity="0.6"/><circle cx="595.9" cy="86.3" r="3.6" fill="none" stroke="#865868" stroke-width="1.0" opacity="0.54"/><circle cx="594.8" cy="85.0" r="1.4" fill="#fefcfc" opacity="0.6"/><circle cx="602.5" cy="86.5" r="3.6" fill="none" stroke="#865868" stroke-width="1.0" opacity="0.49"/><circle cx="601.4" cy="85.2" r="1.4" fill="#fefcfc" opacity="0.6"/><circle cx="609.1" cy="87.0" r="3.6" fill="none" stroke="#865868" stroke-width="1.0" opacity="0.44"/><circle cx="608.0" cy="85.7" r="1.4" fill="#fefcfc" opacity="0.6"/><circle cx="615.7" cy="87.8" r="3.6" fill="none" stroke="#865868" stroke-width="1.0" opacity="0.38"/><circle cx="614.6" cy="86.5" r="1.4" fill="#fefcfc" opacity="0.6"/><circle cx="622.3" cy="88.9" r="3.6" fill="none" stroke="#865868" stroke-width="1.0" opacity="0.33"/><circle cx="621.2" cy="87.6" r="1.4" fill="#fefcfc" opacity="0.6"/><circle cx="628.9" cy="90.3" r="3.6" fill="none" stroke="#865868" stroke-width="1.0" opacity="0.28"/><circle cx="627.8" cy="89.0" r="1.4" fill="#fefcfc" opacity="0.6"/><circle cx="635.5" cy="92.0" r="3.6" fill="none" stroke="#865868" stroke-width="1.0" opacity="0.23"/><circle cx="634.4" cy="90.7" r="1.4" fill="#fefcfc" opacity="0.6"/><circle cx="553.0" cy="92.6" r="3.6" fill="none" stroke="#865868" stroke-width="1.0" opacity="0.22"/><circle cx="551.9" cy="91.3" r="1.4" fill="#fefcfc" opacity="0.6"/><circle cx="559.6" cy="92.6" r="3.6" fill="none" stroke="#865868" stroke-width="1.0" opacity="0.28"/><circle cx="558.5" cy="91.3" r="1.4" fill="#fefcfc" opacity="0.6"/><circle cx="566.2" cy="92.6" r="3.6" fill="none" stroke="#865868" stroke-width="1.0" opacity="0.33"/><circle cx="565.1" cy="91.3" r="1.4" fill="#fefcfc" opacity="0.6"/><circle cx="572.8" cy="92.6" r="3.6" fill="none" stroke="#865868" stroke-width="1.0" opacity="0.38"/><circle cx="571.7" cy="91.3" r="1.4" fill="#fefcfc" opacity="0.6"/><circle cx="579.4" cy="92.6" r="3.6" fill="none" stroke="#865868" stroke-width="1.0" opacity="0.43"/><circle cx="578.3" cy="91.3" r="1.4" fill="#fefcfc" opacity="0.6"/><circle cx="586.0" cy="92.6" r="3.6" fill="none" stroke="#865868" stroke-width="1.0" opacity="0.48"/><circle cx="584.9" cy="91.3" r="1.4" fill="#fefcfc" opacity="0.6"/><circle cx="592.6" cy="92.6" r="3.6" fill="none" stroke="#865868" stroke-width="1.0" opacity="0.54"/><circle cx="591.5" cy="91.3" r="1.4" fill="#fefcfc" opacity="0.6"/><circle cx="599.2" cy="92.6" r="3.6" fill="none" stroke="#865868" stroke-width="1.0" opacity="0.51"/><circle cx="598.1" cy="91.3" r="1.4" fill="#fefcfc" opacity="0.6"/><circle cx="605.8" cy="92.6" r="3.6" fill="none" stroke="#865868" stroke-width="1.0" opacity="0.46"/><circle cx="604.7" cy="91.3" r="1.4" fill="#fefcfc" opacity="0.6"/><circle cx="612.4" cy="92.6" r="3.6" fill="none" stroke="#865868" stroke-width="1.0" opacity="0.41"/><circle cx="611.3" cy="91.3" r="1.4" fill="#fefcfc" opacity="0.6"/><circle cx="619.0" cy="92.6" r="3.6" fill="none" stroke="#865868" stroke-width="1.0" opacity="0.36"/><circle cx="617.9" cy="91.3" r="1.4" fill="#fefcfc" opacity="0.6"/><circle cx="625.6" cy="92.6" r="3.6" fill="none" stroke="#865868" stroke-width="1.0" opacity="0.31"/><circle cx="624.5" cy="91.3" r="1.4" fill="#fefcfc" opacity="0.6"/><circle cx="632.2" cy="92.6" r="3.6" fill="none" stroke="#865868" stroke-width="1.0" opacity="0.25"/><circle cx="631.1" cy="91.3" r="1.4" fill="#fefcfc" opacity="0.6"/><circle cx="556.3" cy="98.9" r="3.6" fill="none" stroke="#865868" stroke-width="1.0" opacity="0.25"/><circle cx="555.2" cy="97.6" r="1.4" fill="#fefcfc" opacity="0.6"/><circle cx="562.9" cy="98.9" r="3.6" fill="none" stroke="#865868" stroke-width="1.0" opacity="0.30"/><circle cx="561.8" cy="97.6" r="1.4" fill="#fefcfc" opacity="0.6"/><circle cx="569.5" cy="98.9" r="3.6" fill="none" stroke="#865868" stroke-width="1.0" opacity="0.35"/><circle cx="568.4" cy="97.6" r="1.4" fill="#fefcfc" opacity="0.6"/><circle cx="576.1" cy="98.9" r="3.6" fill="none" stroke="#865868" stroke-width="1.0" opacity="0.41"/><circle cx="575.0" cy="97.6" r="1.4" fill="#fefcfc" opacity="0.6"/><circle cx="582.7" cy="98.9" r="3.6" fill="none" stroke="#865868" stroke-width="1.0" opacity="0.46"/><circle cx="581.6" cy="97.6" r="1.4" fill="#fefcfc" opacity="0.6"/><circle cx="589.3" cy="98.9" r="3.6" fill="none" stroke="#865868" stroke-width="1.0" opacity="0.51"/><circle cx="588.2" cy="97.6" r="1.4" fill="#fefcfc" opacity="0.6"/><circle cx="595.9" cy="98.9" r="3.6" fill="none" stroke="#865868" stroke-width="1.0" opacity="0.54"/><circle cx="594.8" cy="97.6" r="1.4" fill="#fefcfc" opacity="0.6"/><circle cx="602.5" cy="98.9" r="3.6" fill="none" stroke="#865868" stroke-width="1.0" opacity="0.49"/><circle cx="601.4" cy="97.6" r="1.4" fill="#fefcfc" opacity="0.6"/><circle cx="609.1" cy="98.9" r="3.6" fill="none" stroke="#865868" stroke-width="1.0" opacity="0.44"/><circle cx="608.0" cy="97.6" r="1.4" fill="#fefcfc" opacity="0.6"/><circle cx="615.7" cy="98.9" r="3.6" fill="none" stroke="#865868" stroke-width="1.0" opacity="0.38"/><circle cx="614.6" cy="97.6" r="1.4" fill="#fefcfc" opacity="0.6"/><circle cx="622.3" cy="98.9" r="3.6" fill="none" stroke="#865868" stroke-width="1.0" opacity="0.33"/><circle cx="621.2" cy="97.6" r="1.4" fill="#fefcfc" opacity="0.6"/><circle cx="628.9" cy="98.9" r="3.6" fill="none" stroke="#865868" stroke-width="1.0" opacity="0.28"/><circle cx="627.8" cy="97.6" r="1.4" fill="#fefcfc" opacity="0.6"/><circle cx="635.5" cy="98.9" r="3.6" fill="none" stroke="#865868" stroke-width="1.0" opacity="0.23"/><circle cx="634.4" cy="97.6" r="1.4" fill="#fefcfc" opacity="0.6"/><circle cx="553.0" cy="105.2" r="3.6" fill="none" stroke="#a89a70" stroke-width="1.0" opacity="0.14"/><circle cx="551.9" cy="103.9" r="1.4" fill="#fefcfc" opacity="0.6"/><circle cx="559.6" cy="105.2" r="3.6" fill="none" stroke="#a89a70" stroke-width="1.0" opacity="0.18"/><circle cx="558.5" cy="103.9" r="1.4" fill="#fefcfc" opacity="0.6"/><circle cx="566.2" cy="105.2" r="3.6" fill="none" stroke="#a89a70" stroke-width="1.0" opacity="0.21"/><circle cx="565.1" cy="103.9" r="1.4" fill="#fefcfc" opacity="0.6"/><circle cx="572.8" cy="105.2" r="3.6" fill="none" stroke="#a89a70" stroke-width="1.0" opacity="0.24"/><circle cx="571.7" cy="103.9" r="1.4" fill="#fefcfc" opacity="0.6"/><circle cx="579.4" cy="105.2" r="3.6" fill="none" stroke="#a89a70" stroke-width="1.0" opacity="0.27"/><circle cx="578.3" cy="103.9" r="1.4" fill="#fefcfc" opacity="0.6"/><circle cx="586.0" cy="105.2" r="3.6" fill="none" stroke="#a89a70" stroke-width="1.0" opacity="0.31"/><circle cx="584.9" cy="103.9" r="1.4" fill="#fefcfc" opacity="0.6"/><circle cx="592.6" cy="105.2" r="3.6" fill="none" stroke="#a89a70" stroke-width="1.0" opacity="0.34"/><circle cx="591.5" cy="103.9" r="1.4" fill="#fefcfc" opacity="0.6"/><circle cx="599.2" cy="105.2" r="3.6" fill="none" stroke="#a89a70" stroke-width="1.0" opacity="0.33"/><circle cx="598.1" cy="103.9" r="1.4" fill="#fefcfc" opacity="0.6"/><circle cx="605.8" cy="105.2" r="3.6" fill="none" stroke="#a89a70" stroke-width="1.0" opacity="0.29"/><circle cx="604.7" cy="103.9" r="1.4" fill="#fefcfc" opacity="0.6"/><circle cx="612.4" cy="105.2" r="3.6" fill="none" stroke="#a89a70" stroke-width="1.0" opacity="0.26"/><circle cx="611.3" cy="103.9" r="1.4" fill="#fefcfc" opacity="0.6"/><circle cx="619.0" cy="105.2" r="3.6" fill="none" stroke="#a89a70" stroke-width="1.0" opacity="0.23"/><circle cx="617.9" cy="103.9" r="1.4" fill="#fefcfc" opacity="0.6"/><circle cx="625.6" cy="105.2" r="3.6" fill="none" stroke="#a89a70" stroke-width="1.0" opacity="0.19"/><circle cx="624.5" cy="103.9" r="1.4" fill="#fefcfc" opacity="0.6"/><circle cx="632.2" cy="105.2" r="3.6" fill="none" stroke="#a89a70" stroke-width="1.0" opacity="0.16"/><circle cx="631.1" cy="103.9" r="1.4" fill="#fefcfc" opacity="0.6"/><circle cx="556.3" cy="111.5" r="3.6" fill="none" stroke="#a89a70" stroke-width="1.0" opacity="0.16"/><circle cx="555.2" cy="110.2" r="1.4" fill="#fefcfc" opacity="0.6"/><circle cx="562.9" cy="111.5" r="3.6" fill="none" stroke="#a89a70" stroke-width="1.0" opacity="0.19"/><circle cx="561.8" cy="110.2" r="1.4" fill="#fefcfc" opacity="0.6"/><circle cx="569.5" cy="111.5" r="3.6" fill="none" stroke="#a89a70" stroke-width="1.0" opacity="0.22"/><circle cx="568.4" cy="110.2" r="1.4" fill="#fefcfc" opacity="0.6"/><circle cx="576.1" cy="111.5" r="3.6" fill="none" stroke="#a89a70" stroke-width="1.0" opacity="0.26"/><circle cx="575.0" cy="110.2" r="1.4" fill="#fefcfc" opacity="0.6"/><circle cx="582.7" cy="111.5" r="3.6" fill="none" stroke="#a89a70" stroke-width="1.0" opacity="0.29"/><circle cx="581.6" cy="110.2" r="1.4" fill="#fefcfc" opacity="0.6"/><circle cx="589.3" cy="111.5" r="3.6" fill="none" stroke="#a89a70" stroke-width="1.0" opacity="0.32"/><circle cx="588.2" cy="110.2" r="1.4" fill="#fefcfc" opacity="0.6"/><circle cx="595.9" cy="111.5" r="3.6" fill="none" stroke="#a89a70" stroke-width="1.0" opacity="0.34"/><circle cx="594.8" cy="110.2" r="1.4" fill="#fefcfc" opacity="0.6"/><circle cx="602.5" cy="111.5" r="3.6" fill="none" stroke="#a89a70" stroke-width="1.0" opacity="0.31"/><circle cx="601.4" cy="110.2" r="1.4" fill="#fefcfc" opacity="0.6"/><circle cx="609.1" cy="111.5" r="3.6" fill="none" stroke="#a89a70" stroke-width="1.0" opacity="0.28"/><circle cx="608.0" cy="110.2" r="1.4" fill="#fefcfc" opacity="0.6"/><circle cx="615.7" cy="111.5" r="3.6" fill="none" stroke="#a89a70" stroke-width="1.0" opacity="0.24"/><circle cx="614.6" cy="110.2" r="1.4" fill="#fefcfc" opacity="0.6"/><circle cx="622.3" cy="111.5" r="3.6" fill="none" stroke="#a89a70" stroke-width="1.0" opacity="0.21"/><circle cx="621.2" cy="110.2" r="1.4" fill="#fefcfc" opacity="0.6"/><circle cx="628.9" cy="111.5" r="3.6" fill="none" stroke="#a89a70" stroke-width="1.0" opacity="0.18"/><circle cx="627.8" cy="110.2" r="1.4" fill="#fefcfc" opacity="0.6"/><circle cx="635.5" cy="111.5" r="3.6" fill="none" stroke="#a89a70" stroke-width="1.0" opacity="0.15"/><circle cx="634.4" cy="110.2" r="1.4" fill="#fefcfc" opacity="0.6"/><circle cx="553.0" cy="117.8" r="3.6" fill="none" stroke="#865868" stroke-width="1.0" opacity="0.22"/><circle cx="551.9" cy="116.5" r="1.4" fill="#fefcfc" opacity="0.6"/><circle cx="559.6" cy="117.8" r="3.6" fill="none" stroke="#865868" stroke-width="1.0" opacity="0.28"/><circle cx="558.5" cy="116.5" r="1.4" fill="#fefcfc" opacity="0.6"/><circle cx="566.2" cy="117.8" r="3.6" fill="none" stroke="#865868" stroke-width="1.0" opacity="0.33"/><circle cx="565.1" cy="116.5" r="1.4" fill="#fefcfc" opacity="0.6"/><circle cx="572.8" cy="117.8" r="3.6" fill="none" stroke="#865868" stroke-width="1.0" opacity="0.38"/><circle cx="571.7" cy="116.5" r="1.4" fill="#fefcfc" opacity="0.6"/><circle cx="579.4" cy="117.8" r="3.6" fill="none" stroke="#865868" stroke-width="1.0" opacity="0.43"/><circle cx="578.3" cy="116.5" r="1.4" fill="#fefcfc" opacity="0.6"/><circle cx="586.0" cy="117.8" r="3.6" fill="none" stroke="#865868" stroke-width="1.0" opacity="0.48"/><circle cx="584.9" cy="116.5" r="1.4" fill="#fefcfc" opacity="0.6"/><circle cx="592.6" cy="117.8" r="3.6" fill="none" stroke="#865868" stroke-width="1.0" opacity="0.54"/><circle cx="591.5" cy="116.5" r="1.4" fill="#fefcfc" opacity="0.6"/><circle cx="599.2" cy="117.8" r="3.6" fill="none" stroke="#865868" stroke-width="1.0" opacity="0.51"/><circle cx="598.1" cy="116.5" r="1.4" fill="#fefcfc" opacity="0.6"/><circle cx="605.8" cy="117.8" r="3.6" fill="none" stroke="#865868" stroke-width="1.0" opacity="0.46"/><circle cx="604.7" cy="116.5" r="1.4" fill="#fefcfc" opacity="0.6"/><circle cx="612.4" cy="117.8" r="3.6" fill="none" stroke="#865868" stroke-width="1.0" opacity="0.41"/><circle cx="611.3" cy="116.5" r="1.4" fill="#fefcfc" opacity="0.6"/><circle cx="619.0" cy="117.8" r="3.6" fill="none" stroke="#865868" stroke-width="1.0" opacity="0.36"/><circle cx="617.9" cy="116.5" r="1.4" fill="#fefcfc" opacity="0.6"/><circle cx="625.6" cy="117.8" r="3.6" fill="none" stroke="#865868" stroke-width="1.0" opacity="0.31"/><circle cx="624.5" cy="116.5" r="1.4" fill="#fefcfc" opacity="0.6"/><circle cx="632.2" cy="117.8" r="3.6" fill="none" stroke="#865868" stroke-width="1.0" opacity="0.25"/><circle cx="631.1" cy="116.5" r="1.4" fill="#fefcfc" opacity="0.6"/><circle cx="556.3" cy="124.1" r="3.6" fill="none" stroke="#865868" stroke-width="1.0" opacity="0.25"/><circle cx="555.2" cy="122.8" r="1.4" fill="#fefcfc" opacity="0.6"/><circle cx="562.9" cy="124.1" r="3.6" fill="none" stroke="#865868" stroke-width="1.0" opacity="0.30"/><circle cx="561.8" cy="122.8" r="1.4" fill="#fefcfc" opacity="0.6"/><circle cx="569.5" cy="124.1" r="3.6" fill="none" stroke="#865868" stroke-width="1.0" opacity="0.35"/><circle cx="568.4" cy="122.8" r="1.4" fill="#fefcfc" opacity="0.6"/><circle cx="576.1" cy="124.1" r="3.6" fill="none" stroke="#865868" stroke-width="1.0" opacity="0.41"/><circle cx="575.0" cy="122.8" r="1.4" fill="#fefcfc" opacity="0.6"/><circle cx="582.7" cy="124.1" r="3.6" fill="none" stroke="#865868" stroke-width="1.0" opacity="0.46"/><circle cx="581.6" cy="122.8" r="1.4" fill="#fefcfc" opacity="0.6"/><circle cx="589.3" cy="124.1" r="3.6" fill="none" stroke="#865868" stroke-width="1.0" opacity="0.51"/><circle cx="588.2" cy="122.8" r="1.4" fill="#fefcfc" opacity="0.6"/><circle cx="595.9" cy="124.1" r="3.6" fill="none" stroke="#865868" stroke-width="1.0" opacity="0.54"/><circle cx="594.8" cy="122.8" r="1.4" fill="#fefcfc" opacity="0.6"/><circle cx="602.5" cy="124.1" r="3.6" fill="none" stroke="#865868" stroke-width="1.0" opacity="0.49"/><circle cx="601.4" cy="122.8" r="1.4" fill="#fefcfc" opacity="0.6"/><circle cx="609.1" cy="124.1" r="3.6" fill="none" stroke="#865868" stroke-width="1.0" opacity="0.44"/><circle cx="608.0" cy="122.8" r="1.4" fill="#fefcfc" opacity="0.6"/><circle cx="615.7" cy="124.1" r="3.6" fill="none" stroke="#865868" stroke-width="1.0" opacity="0.38"/><circle cx="614.6" cy="122.8" r="1.4" fill="#fefcfc" opacity="0.6"/><circle cx="622.3" cy="124.1" r="3.6" fill="none" stroke="#865868" stroke-width="1.0" opacity="0.33"/><circle cx="621.2" cy="122.8" r="1.4" fill="#fefcfc" opacity="0.6"/><circle cx="628.9" cy="124.1" r="3.6" fill="none" stroke="#865868" stroke-width="1.0" opacity="0.28"/><circle cx="627.8" cy="122.8" r="1.4" fill="#fefcfc" opacity="0.6"/><circle cx="635.5" cy="124.1" r="3.6" fill="none" stroke="#865868" stroke-width="1.0" opacity="0.23"/><circle cx="634.4" cy="122.8" r="1.4" fill="#fefcfc" opacity="0.6"/><circle cx="553.0" cy="130.4" r="3.6" fill="none" stroke="#865868" stroke-width="1.0" opacity="0.22"/><circle cx="551.9" cy="129.1" r="1.4" fill="#fefcfc" opacity="0.6"/><circle cx="559.6" cy="130.4" r="3.6" fill="none" stroke="#865868" stroke-width="1.0" opacity="0.28"/><circle cx="558.5" cy="129.1" r="1.4" fill="#fefcfc" opacity="0.6"/><circle cx="566.2" cy="130.4" r="3.6" fill="none" stroke="#865868" stroke-width="1.0" opacity="0.33"/><circle cx="565.1" cy="129.1" r="1.4" fill="#fefcfc" opacity="0.6"/><circle cx="572.8" cy="130.4" r="3.6" fill="none" stroke="#865868" stroke-width="1.0" opacity="0.38"/><circle cx="571.7" cy="129.1" r="1.4" fill="#fefcfc" opacity="0.6"/><circle cx="579.4" cy="130.4" r="3.6" fill="none" stroke="#865868" stroke-width="1.0" opacity="0.43"/><circle cx="578.3" cy="129.1" r="1.4" fill="#fefcfc" opacity="0.6"/><circle cx="586.0" cy="130.4" r="3.6" fill="none" stroke="#865868" stroke-width="1.0" opacity="0.48"/><circle cx="584.9" cy="129.1" r="1.4" fill="#fefcfc" opacity="0.6"/><circle cx="592.6" cy="130.4" r="3.6" fill="none" stroke="#865868" stroke-width="1.0" opacity="0.54"/><circle cx="591.5" cy="129.1" r="1.4" fill="#fefcfc" opacity="0.6"/><circle cx="599.2" cy="130.4" r="3.6" fill="none" stroke="#865868" stroke-width="1.0" opacity="0.51"/><circle cx="598.1" cy="129.1" r="1.4" fill="#fefcfc" opacity="0.6"/><circle cx="605.8" cy="130.4" r="3.6" fill="none" stroke="#865868" stroke-width="1.0" opacity="0.46"/><circle cx="604.7" cy="129.1" r="1.4" fill="#fefcfc" opacity="0.6"/><circle cx="612.4" cy="130.4" r="3.6" fill="none" stroke="#865868" stroke-width="1.0" opacity="0.41"/><circle cx="611.3" cy="129.1" r="1.4" fill="#fefcfc" opacity="0.6"/><circle cx="619.0" cy="130.4" r="3.6" fill="none" stroke="#865868" stroke-width="1.0" opacity="0.36"/><circle cx="617.9" cy="129.1" r="1.4" fill="#fefcfc" opacity="0.6"/><circle cx="625.6" cy="130.4" r="3.6" fill="none" stroke="#865868" stroke-width="1.0" opacity="0.31"/><circle cx="624.5" cy="129.1" r="1.4" fill="#fefcfc" opacity="0.6"/><circle cx="632.2" cy="130.4" r="3.6" fill="none" stroke="#865868" stroke-width="1.0" opacity="0.25"/><circle cx="631.1" cy="129.1" r="1.4" fill="#fefcfc" opacity="0.6"/><circle cx="556.3" cy="136.7" r="3.6" fill="none" stroke="#a89a70" stroke-width="1.0" opacity="0.16"/><circle cx="555.2" cy="135.4" r="1.4" fill="#fefcfc" opacity="0.6"/><circle cx="562.9" cy="136.7" r="3.6" fill="none" stroke="#a89a70" stroke-width="1.0" opacity="0.19"/><circle cx="561.8" cy="135.4" r="1.4" fill="#fefcfc" opacity="0.6"/><circle cx="569.5" cy="136.7" r="3.6" fill="none" stroke="#a89a70" stroke-width="1.0" opacity="0.22"/><circle cx="568.4" cy="135.4" r="1.4" fill="#fefcfc" opacity="0.6"/><circle cx="576.1" cy="136.7" r="3.6" fill="none" stroke="#a89a70" stroke-width="1.0" opacity="0.26"/><circle cx="575.0" cy="135.4" r="1.4" fill="#fefcfc" opacity="0.6"/><circle cx="582.7" cy="136.7" r="3.6" fill="none" stroke="#a89a70" stroke-width="1.0" opacity="0.29"/><circle cx="581.6" cy="135.4" r="1.4" fill="#fefcfc" opacity="0.6"/><circle cx="589.3" cy="136.7" r="3.6" fill="none" stroke="#a89a70" stroke-width="1.0" opacity="0.32"/><circle cx="588.2" cy="135.4" r="1.4" fill="#fefcfc" opacity="0.6"/><circle cx="595.9" cy="136.7" r="3.6" fill="none" stroke="#a89a70" stroke-width="1.0" opacity="0.34"/><circle cx="594.8" cy="135.4" r="1.4" fill="#fefcfc" opacity="0.6"/><circle cx="602.5" cy="136.7" r="3.6" fill="none" stroke="#a89a70" stroke-width="1.0" opacity="0.31"/><circle cx="601.4" cy="135.4" r="1.4" fill="#fefcfc" opacity="0.6"/><circle cx="609.1" cy="136.7" r="3.6" fill="none" stroke="#a89a70" stroke-width="1.0" opacity="0.28"/><circle cx="608.0" cy="135.4" r="1.4" fill="#fefcfc" opacity="0.6"/><circle cx="615.7" cy="136.7" r="3.6" fill="none" stroke="#a89a70" stroke-width="1.0" opacity="0.24"/><circle cx="614.6" cy="135.4" r="1.4" fill="#fefcfc" opacity="0.6"/><circle cx="622.3" cy="136.7" r="3.6" fill="none" stroke="#a89a70" stroke-width="1.0" opacity="0.21"/><circle cx="621.2" cy="135.4" r="1.4" fill="#fefcfc" opacity="0.6"/><circle cx="628.9" cy="136.7" r="3.6" fill="none" stroke="#a89a70" stroke-width="1.0" opacity="0.18"/><circle cx="627.8" cy="135.4" r="1.4" fill="#fefcfc" opacity="0.6"/><circle cx="635.5" cy="136.7" r="3.6" fill="none" stroke="#a89a70" stroke-width="1.0" opacity="0.15"/><circle cx="634.4" cy="135.4" r="1.4" fill="#fefcfc" opacity="0.6"/><circle cx="553.0" cy="143.0" r="3.6" fill="none" stroke="#a89a70" stroke-width="1.0" opacity="0.14"/><circle cx="551.9" cy="141.7" r="1.4" fill="#fefcfc" opacity="0.6"/><circle cx="559.6" cy="143.0" r="3.6" fill="none" stroke="#a89a70" stroke-width="1.0" opacity="0.18"/><circle cx="558.5" cy="141.7" r="1.4" fill="#fefcfc" opacity="0.6"/><circle cx="566.2" cy="143.0" r="3.6" fill="none" stroke="#a89a70" stroke-width="1.0" opacity="0.21"/><circle cx="565.1" cy="141.7" r="1.4" fill="#fefcfc" opacity="0.6"/><circle cx="572.8" cy="143.0" r="3.6" fill="none" stroke="#a89a70" stroke-width="1.0" opacity="0.24"/><circle cx="571.7" cy="141.7" r="1.4" fill="#fefcfc" opacity="0.6"/><circle cx="579.4" cy="143.0" r="3.6" fill="none" stroke="#a89a70" stroke-width="1.0" opacity="0.27"/><circle cx="578.3" cy="141.7" r="1.4" fill="#fefcfc" opacity="0.6"/><circle cx="586.0" cy="143.0" r="3.6" fill="none" stroke="#a89a70" stroke-width="1.0" opacity="0.31"/><circle cx="584.9" cy="141.7" r="1.4" fill="#fefcfc" opacity="0.6"/><circle cx="592.6" cy="143.0" r="3.6" fill="none" stroke="#a89a70" stroke-width="1.0" opacity="0.34"/><circle cx="591.5" cy="141.7" r="1.4" fill="#fefcfc" opacity="0.6"/><circle cx="599.2" cy="143.0" r="3.6" fill="none" stroke="#a89a70" stroke-width="1.0" opacity="0.33"/><circle cx="598.1" cy="141.7" r="1.4" fill="#fefcfc" opacity="0.6"/><circle cx="605.8" cy="143.0" r="3.6" fill="none" stroke="#a89a70" stroke-width="1.0" opacity="0.29"/><circle cx="604.7" cy="141.7" r="1.4" fill="#fefcfc" opacity="0.6"/><circle cx="612.4" cy="143.0" r="3.6" fill="none" stroke="#a89a70" stroke-width="1.0" opacity="0.26"/><circle cx="611.3" cy="141.7" r="1.4" fill="#fefcfc" opacity="0.6"/><circle cx="619.0" cy="143.0" r="3.6" fill="none" stroke="#a89a70" stroke-width="1.0" opacity="0.23"/><circle cx="617.9" cy="141.7" r="1.4" fill="#fefcfc" opacity="0.6"/><circle cx="625.6" cy="143.0" r="3.6" fill="none" stroke="#a89a70" stroke-width="1.0" opacity="0.19"/><circle cx="624.5" cy="141.7" r="1.4" fill="#fefcfc" opacity="0.6"/><circle cx="632.2" cy="143.0" r="3.6" fill="none" stroke="#a89a70" stroke-width="1.0" opacity="0.16"/><circle cx="631.1" cy="141.7" r="1.4" fill="#fefcfc" opacity="0.6"/><circle cx="556.3" cy="149.3" r="3.6" fill="none" stroke="#a89a70" stroke-width="1.0" opacity="0.16"/><circle cx="555.2" cy="148.0" r="1.4" fill="#fefcfc" opacity="0.6"/><circle cx="562.9" cy="149.3" r="3.6" fill="none" stroke="#a89a70" stroke-width="1.0" opacity="0.19"/><circle cx="561.8" cy="148.0" r="1.4" fill="#fefcfc" opacity="0.6"/><circle cx="569.5" cy="149.3" r="3.6" fill="none" stroke="#a89a70" stroke-width="1.0" opacity="0.22"/><circle cx="568.4" cy="148.0" r="1.4" fill="#fefcfc" opacity="0.6"/><circle cx="576.1" cy="149.3" r="3.6" fill="none" stroke="#a89a70" stroke-width="1.0" opacity="0.26"/><circle cx="575.0" cy="148.0" r="1.4" fill="#fefcfc" opacity="0.6"/><circle cx="582.7" cy="149.3" r="3.6" fill="none" stroke="#a89a70" stroke-width="1.0" opacity="0.29"/><circle cx="581.6" cy="148.0" r="1.4" fill="#fefcfc" opacity="0.6"/><circle cx="589.3" cy="149.3" r="3.6" fill="none" stroke="#a89a70" stroke-width="1.0" opacity="0.32"/><circle cx="588.2" cy="148.0" r="1.4" fill="#fefcfc" opacity="0.6"/><circle cx="595.9" cy="149.3" r="3.6" fill="none" stroke="#a89a70" stroke-width="1.0" opacity="0.34"/><circle cx="594.8" cy="148.0" r="1.4" fill="#fefcfc" opacity="0.6"/><circle cx="602.5" cy="149.3" r="3.6" fill="none" stroke="#a89a70" stroke-width="1.0" opacity="0.31"/><circle cx="601.4" cy="148.0" r="1.4" fill="#fefcfc" opacity="0.6"/><circle cx="609.1" cy="149.3" r="3.6" fill="none" stroke="#a89a70" stroke-width="1.0" opacity="0.28"/><circle cx="608.0" cy="148.0" r="1.4" fill="#fefcfc" opacity="0.6"/><circle cx="615.7" cy="149.3" r="3.6" fill="none" stroke="#a89a70" stroke-width="1.0" opacity="0.24"/><circle cx="614.6" cy="148.0" r="1.4" fill="#fefcfc" opacity="0.6"/><circle cx="622.3" cy="149.3" r="3.6" fill="none" stroke="#a89a70" stroke-width="1.0" opacity="0.21"/><circle cx="621.2" cy="148.0" r="1.4" fill="#fefcfc" opacity="0.6"/><circle cx="628.9" cy="149.3" r="3.6" fill="none" stroke="#a89a70" stroke-width="1.0" opacity="0.18"/><circle cx="627.8" cy="148.0" r="1.4" fill="#fefcfc" opacity="0.6"/><circle cx="635.5" cy="149.3" r="3.6" fill="none" stroke="#a89a70" stroke-width="1.0" opacity="0.15"/><circle cx="634.4" cy="148.0" r="1.4" fill="#fefcfc" opacity="0.6"/><circle cx="553.0" cy="155.6" r="3.6" fill="none" stroke="#a89a70" stroke-width="1.0" opacity="0.14"/><circle cx="551.9" cy="154.3" r="1.4" fill="#fefcfc" opacity="0.6"/><circle cx="559.6" cy="155.6" r="3.6" fill="none" stroke="#a89a70" stroke-width="1.0" opacity="0.18"/><circle cx="558.5" cy="154.3" r="1.4" fill="#fefcfc" opacity="0.6"/><circle cx="566.2" cy="155.6" r="3.6" fill="none" stroke="#a89a70" stroke-width="1.0" opacity="0.21"/><circle cx="565.1" cy="154.3" r="1.4" fill="#fefcfc" opacity="0.6"/><circle cx="572.8" cy="155.6" r="3.6" fill="none" stroke="#a89a70" stroke-width="1.0" opacity="0.24"/><circle cx="571.7" cy="154.3" r="1.4" fill="#fefcfc" opacity="0.6"/><circle cx="579.4" cy="155.6" r="3.6" fill="none" stroke="#a89a70" stroke-width="1.0" opacity="0.27"/><circle cx="578.3" cy="154.3" r="1.4" fill="#fefcfc" opacity="0.6"/><circle cx="586.0" cy="155.6" r="3.6" fill="none" stroke="#a89a70" stroke-width="1.0" opacity="0.31"/><circle cx="584.9" cy="154.3" r="1.4" fill="#fefcfc" opacity="0.6"/><circle cx="592.6" cy="155.6" r="3.6" fill="none" stroke="#a89a70" stroke-width="1.0" opacity="0.34"/><circle cx="591.5" cy="154.3" r="1.4" fill="#fefcfc" opacity="0.6"/><circle cx="599.2" cy="155.6" r="3.6" fill="none" stroke="#a89a70" stroke-width="1.0" opacity="0.33"/><circle cx="598.1" cy="154.3" r="1.4" fill="#fefcfc" opacity="0.6"/><circle cx="605.8" cy="155.6" r="3.6" fill="none" stroke="#a89a70" stroke-width="1.0" opacity="0.29"/><circle cx="604.7" cy="154.3" r="1.4" fill="#fefcfc" opacity="0.6"/><circle cx="612.4" cy="155.6" r="3.6" fill="none" stroke="#a89a70" stroke-width="1.0" opacity="0.26"/><circle cx="611.3" cy="154.3" r="1.4" fill="#fefcfc" opacity="0.6"/><circle cx="619.0" cy="155.6" r="3.6" fill="none" stroke="#a89a70" stroke-width="1.0" opacity="0.23"/><circle cx="617.9" cy="154.3" r="1.4" fill="#fefcfc" opacity="0.6"/><circle cx="625.6" cy="155.6" r="3.6" fill="none" stroke="#a89a70" stroke-width="1.0" opacity="0.19"/><circle cx="624.5" cy="154.3" r="1.4" fill="#fefcfc" opacity="0.6"/><circle cx="632.2" cy="155.6" r="3.6" fill="none" stroke="#a89a70" stroke-width="1.0" opacity="0.16"/><circle cx="631.1" cy="154.3" r="1.4" fill="#fefcfc" opacity="0.6"/></g><circle cx="551.5" cy="97.5" r="2.8" fill="#d4c0c8" opacity="0.55"/><circle cx="552.4" cy="94.0" r="2.8" fill="#d4c0c8" opacity="0.55"/><circle cx="555.2" cy="90.6" r="2.8" fill="#d4c0c8" opacity="0.55"/><circle cx="559.7" cy="87.5" r="2.8" fill="#d4c0c8" opacity="0.55"/><circle cx="565.7" cy="84.9" r="2.8" fill="#d4c0c8" opacity="0.55"/><circle cx="573.0" cy="82.8" r="2.8" fill="#d4c0c8" opacity="0.55"/><circle cx="581.2" cy="81.3" r="2.8" fill="#d4c0c8" opacity="0.55"/><circle cx="590.0" cy="80.6" r="2.8" fill="#d4c0c8" opacity="0.55"/><circle cx="599.0" cy="80.6" r="2.8" fill="#d4c0c8" opacity="0.55"/><circle cx="607.8" cy="81.3" r="2.8" fill="#d4c0c8" opacity="0.55"/><circle cx="616.0" cy="82.8" r="2.8" fill="#d4c0c8" opacity="0.55"/><circle cx="623.3" cy="84.9" r="2.8" fill="#d4c0c8" opacity="0.55"/><circle cx="629.3" cy="87.5" r="2.8" fill="#d4c0c8" opacity="0.55"/><circle cx="633.8" cy="90.6" r="2.8" fill="#d4c0c8" opacity="0.55"/><circle cx="636.6" cy="94.0" r="2.8" fill="#d4c0c8" opacity="0.55"/><circle cx="637.5" cy="97.5" r="2.8" fill="#d4c0c8" opacity="0.55"/><circle cx="554.5" cy="150.0" r="3.0" fill="#e6e0c4" opacity="0.8"/><circle cx="555.7" cy="151.7" r="3.0" fill="#e6e0c4" opacity="0.8"/><circle cx="559.1" cy="153.3" r="3.0" fill="#e6e0c4" opacity="0.8"/><circle cx="564.6" cy="154.6" r="3.0" fill="#e6e0c4" opacity="0.8"/><circle cx="571.8" cy="155.8" r="3.0" fill="#e6e0c4" opacity="0.8"/><circle cx="580.3" cy="156.5" r="3.0" fill="#e6e0c4" opacity="0.8"/><circle cx="589.7" cy="156.9" r="3.0" fill="#e6e0c4" opacity="0.8"/><circle cx="599.3" cy="156.9" r="3.0" fill="#e6e0c4" opacity="0.8"/><circle cx="608.7" cy="156.5" r="3.0" fill="#e6e0c4" opacity="0.8"/><circle cx="617.2" cy="155.8" r="3.0" fill="#e6e0c4" opacity="0.8"/><circle cx="624.4" cy="154.6" r="3.0" fill="#e6e0c4" opacity="0.8"/><circle cx="629.9" cy="153.3" r="3.0" fill="#e6e0c4" opacity="0.8"/><circle cx="633.3" cy="151.7" r="3.0" fill="#e6e0c4" opacity="0.8"/><circle cx="634.5" cy="150.0" r="3.0" fill="#e6e0c4" opacity="0.8"/></g></g><rect x="115" y="284.5" width="235" height="164.5" rx="4.5" fill="none" stroke="#9fcde2" stroke-opacity="0.16" stroke-width="2.4"/><rect x="115" y="284.5" width="235" height="164.5" rx="4.5" fill="none" stroke="#858a90" stroke-width="1" stroke-dasharray="2.2 2.2"/><polygon points="159.0,229.0 168.0,229.0 168.0,256.4 172.3,256.4 163.5,265.8 154.7,256.4 159.0,256.4" fill="#6f7585"/><text x="182.4" y="252.2"  font-weight="bold" font-size="13.0" textLength="90.5" lengthAdjust="spacingAndGlyphs" fill="#a5161f" stroke="#a5161f" stroke-width="0.25">Basic research</text><rect x="138.6" y="271.09999999999997" width="187.60000000000002" height="25.2" rx="5.5" fill="#fefefe" stroke="#6a9fb7" stroke-width="1.8"/><text x="192.3" y="287.6"  font-weight="bold" font-size="12.9" textLength="80" lengthAdjust="spacingAndGlyphs" fill="#2f7390" stroke="#2f7390" stroke-width="0.1">Critical node</text>
<g>
<circle cx="232" cy="356" r="41" fill="#fbf6d2"/>
<path d="M234,315 A41,41 0 0 1 230,397 A20.5,20.5 0 0 1 232,356 A20.5,20.5 0 0 0 234,315 Z" fill="#f6d0cb"/>
<path d="M234,315 A20.5,20.5 0 0 1 232,356 A20.5,20.5 0 0 0 230,397" fill="none" stroke="#74655a" stroke-width="0.9"/>
<circle cx="232" cy="356" r="41" fill="none" stroke="#74655a" stroke-width="1"/>
<g stroke="#a9d9ee" stroke-width="0.9" fill="none" stroke-linecap="round">
 <path d="M227.6,338 L217,327.8 M222,333 L219,336 M227.6,338 L225,323 M225.5,330 L222,327 M227.6,338 L232.5,326 M230,332 L234,330 M227.6,338 L240.6,331 M235,334 L237,329 M227.6,338 L238,341.6 M227.6,338 L236.6,348 M227.6,338 L215.4,335 M227.6,338 L217,342.4"/>
</g>
<path d="M227,340 Q228,348 222,350.6 Q214,352 208,351.4 Q203,352 201.5,354.7" stroke="#a2cde0" stroke-width="1.5" fill="none"/>
<path d="M201.5,354.7 L197,352 M201.5,354.7 L197.5,358 M201.5,354.7 L200,360 M203,353 L201,349" stroke="#a9d9ee" stroke-width="0.9" fill="none"/>
<circle cx="227.6" cy="338" r="3.4" fill="#8fd0f0"/>
<path d="M229.8,387.6 Q244,381 252.8,364.8 L257.2,367 Q248,386 231.2,391.2 Z" fill="#d6484c"/>
<g stroke="#d05a5a" stroke-width="1.3" fill="none" stroke-linecap="round">
<path d="M245.5,378 Q239,373 233.3,372.5 M233.3,372.5 L235,362.5 M235,366 L230.8,361.7 M233.3,372.5 L226.7,367.5 M233.3,372.5 L225.8,377.5 M229,375 L227,378.5"/>
</g>
</g>
<rect x="139.1" y="411.3" width="186.6" height="23.599999999999966" rx="3.8" fill="#2f86a0" filter="url(#sh)"/><text x="179.2" y="427.6"  font-weight="bold" font-size="11.6" textLength="106" lengthAdjust="spacingAndGlyphs" fill="#eef9fc" stroke="#eef9fc" stroke-width="0.2">Neurovascularized</text><rect x="411.4" y="284" width="221.39999999999998" height="164.39999999999998" rx="4.5" fill="none" stroke="#9fcde2" stroke-opacity="0.16" stroke-width="2.4"/><rect x="411.4" y="284" width="221.39999999999998" height="164.39999999999998" rx="4.5" fill="none" stroke="#858a90" stroke-width="1" stroke-dasharray="2.2 2.2"/><text x="445.4" y="252.1"  font-weight="bold" font-size="12.8" textLength="134.3" lengthAdjust="spacingAndGlyphs" fill="#a5161f" stroke="#a5161f" stroke-width="0.25">Industrial application</text><polygon points="590.1,229.0 598.9,229.0 598.9,257.0 603.0,257.0 594.5,265.8 586.0,257.0 590.1,257.0" fill="#6f7585"/><rect x="429.9" y="270.5" width="187.99999999999994" height="24.999999999999954" rx="5.5" fill="#fefefe" stroke="#6a9fb7" stroke-width="1.8"/><text x="478.9" y="287.4"  font-weight="bold" font-size="12.9" textLength="90" lengthAdjust="spacingAndGlyphs" fill="#2f7390" stroke="#2f7390" stroke-width="0.1">Focused point</text><path d="M564,327 A42,22 0 0 0 487,325" stroke="#111" stroke-width="1.8" fill="none"/><polygon points="480.7,328.5 484.2,320.6 490.2,327.6" fill="#111"/><path d="M484.3,389.7 A42,21 0 0 0 561,390" stroke="#111" stroke-width="1.8" fill="none"/><polygon points="566.9,386.6 557.9,387.6 562.1,395" fill="#111"/><path d="M464.9,356.8 L433.5,339.5 A1.7,1.7 0 0 0 431.6,342.4 L460.3,364.0 Z" fill="#4b6fa6"/><path d="M466.6,358.7 L456.6,342.1 A1.7,1.7 0 0 0 453.5,343.4 L458.6,362.1 Z" fill="#4b6fa6"/><path d="M466.9,360.7 L466.1,335.5 A1.7,1.7 0 0 0 462.7,335.3 L458.3,360.1 Z" fill="#4b6fa6"/><path d="M466.3,362.6 L479.6,335.3 A1.7,1.7 0 0 0 476.7,333.6 L458.9,358.2 Z" fill="#4b6fa6"/><path d="M463.9,364.5 L489.2,353.4 A1.7,1.7 0 0 0 488.2,350.2 L461.3,356.3 Z" fill="#4b6fa6"/><path d="M460.5,364.1 L490.6,378.3 A1.7,1.7 0 0 0 492.3,375.4 L464.7,356.7 Z" fill="#4b6fa6"/><path d="M458.9,362.6 L471.7,379.0 A1.7,1.7 0 0 0 474.6,377.3 L466.3,358.2 Z" fill="#4b6fa6"/><path d="M458.4,359.4 L453.8,389.5 A1.7,1.7 0 0 0 457.1,390.4 L466.8,361.4 Z" fill="#4b6fa6"/><path d="M459.8,357.2 L440.2,377.9 A1.7,1.7 0 0 0 442.4,380.5 L465.4,363.6 Z" fill="#4b6fa6"/><path d="M461.2,356.3 L432.1,369.2 A1.7,1.7 0 0 0 433.3,372.4 L464.0,364.5 Z" fill="#4b6fa6"/><ellipse cx="462.6" cy="360.4" rx="11.5" ry="10" fill="#4b6fa6" transform="rotate(20 462.6 360.4)"/><ellipse cx="462.8" cy="359.79999999999995" rx="6.3" ry="4.7" fill="#1e3470" transform="rotate(15 462.6 360.4)"/><path d="M558.5,334.3 L561.0,339.0 L566.0,337.5 L571.0,338.0 L576.0,336.5 L580.0,337.0 L583.2,334.9 L585.0,338.5 L589.0,339.0 L591.0,337.5 L593.0,341.0 L597.0,342.0 L600.4,344.6 L599.0,348.0 L601.0,352.0 L599.5,356.0 L602.7,360.0 L600.0,364.0 L601.0,368.0 L600.4,371.6 L597.0,374.0 L597.0,378.0 L594.7,381.4 L590.0,379.5 L585.0,381.0 L580.9,380.8 L575.0,379.5 L570.0,378.5 L566.0,376.2 L563.0,372.0 L560.2,365.9 L556.0,360.0 L550.5,356.1 L555.0,353.5 L560.2,351.0 L559.5,346.0 L558.0,339.0 Z" fill="url(#oc)" stroke="#d89a5a" stroke-width="0.8" stroke-linejoin="round"/><path d="M572.5,357.5 Q580,353.5 587.5,355.5 Q592,360 590.3,368 Q587,376 578,376.3 Q570,375.5 568.8,368 Q568.5,361 572.5,357.5 Z" fill="#6a6279"/><rect x="433.9" y="411.2" width="188.5" height="23.80000000000001" rx="3.8" fill="#2f86a0" filter="url(#sh)"/><text x="476.3" y="427.6"  font-weight="bold" font-size="11.6" textLength="103.8" lengthAdjust="spacingAndGlyphs" fill="#eef9fc" stroke="#eef9fc" stroke-width="0.2">Stem Cell Delivery</text><polygon points="374.9,447.0 383.9,447.0 383.9,475.2 387.9,475.2 379.4,484.3 370.9,475.2 374.9,475.2" fill="#6f7585"/><rect x="186.7" y="488" width="379.6" height="30" rx="5" fill="url(#tb)" filter="url(#sh2)"/><rect x="186.7" y="488" width="379.6" height="30" rx="5" fill="url(#tbx)"/><text x="291.8" y="509"  font-weight="bold" font-size="17.8" textLength="171.5" lengthAdjust="spacingAndGlyphs" fill="#f2fbfd" stroke="#f2fbfd" stroke-width="0.2">Transplantable organs</text></svg></body></html>
